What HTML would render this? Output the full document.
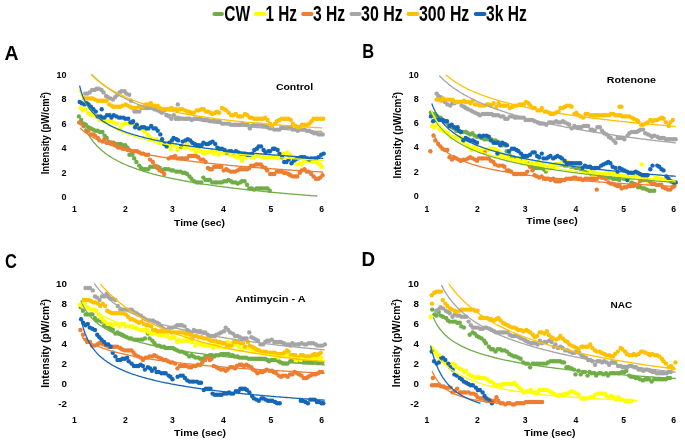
<!DOCTYPE html>
<html><head><meta charset="utf-8"><style>
html,body{margin:0;padding:0;background:#fff;}
svg{display:block;filter:blur(0.3px);}
text{font-family:"Liberation Sans", sans-serif;font-weight:bold;fill:#000;}
</style></head><body>
<svg width="685" height="442" viewBox="0 0 685 442">
<rect width="685" height="442" fill="#fff"/>
<line x1="214.5" y1="14" x2="221.9" y2="14" stroke="#70AD47" stroke-width="4" stroke-linecap="round"/>
<text x="224.3" y="21.1" font-size="22.8" text-anchor="start" textLength="25.8" lengthAdjust="spacingAndGlyphs">CW</text>
<line x1="255.7" y1="14" x2="264.4" y2="14" stroke="#FFFF00" stroke-width="4" stroke-linecap="round"/>
<text x="265.5" y="21.1" font-size="22.8" text-anchor="start" textLength="31.5" lengthAdjust="spacingAndGlyphs">1 Hz</text>
<line x1="303.2" y1="14" x2="311.4" y2="14" stroke="#ED7D31" stroke-width="4" stroke-linecap="round"/>
<text x="313" y="21.1" font-size="22.8" text-anchor="start" textLength="32.2" lengthAdjust="spacingAndGlyphs">3 Hz</text>
<line x1="351.5" y1="14" x2="359.5" y2="14" stroke="#A5A5A5" stroke-width="4" stroke-linecap="round"/>
<text x="361" y="21.1" font-size="22.8" text-anchor="start" textLength="41.7" lengthAdjust="spacingAndGlyphs">30 Hz</text>
<line x1="408.4" y1="14" x2="417.3" y2="14" stroke="#FFC000" stroke-width="4" stroke-linecap="round"/>
<text x="419" y="21.1" font-size="22.8" text-anchor="start" textLength="50.3" lengthAdjust="spacingAndGlyphs">300 Hz</text>
<line x1="475.8" y1="14" x2="484.5" y2="14" stroke="#1467B8" stroke-width="4" stroke-linecap="round"/>
<text x="486" y="21.1" font-size="22.8" text-anchor="start" textLength="40.7" lengthAdjust="spacingAndGlyphs">3k Hz</text>
<text x="4.6" y="59.6" font-size="20" text-anchor="start" textLength="14" lengthAdjust="spacingAndGlyphs">A</text>
<text x="362.3" y="57.6" font-size="20" text-anchor="start" textLength="11.9" lengthAdjust="spacingAndGlyphs">B</text>
<text x="4.9" y="267.6" font-size="20" text-anchor="start" textLength="11.9" lengthAdjust="spacingAndGlyphs">C</text>
<text x="361.4" y="265.6" font-size="20" text-anchor="start" textLength="13.6" lengthAdjust="spacingAndGlyphs">D</text>
<text x="66.5" y="77.7" font-size="9" text-anchor="end">10</text>
<text x="66.5" y="102.2" font-size="9" text-anchor="end">8</text>
<text x="66.5" y="126.7" font-size="9" text-anchor="end">6</text>
<text x="66.5" y="151.2" font-size="9" text-anchor="end">4</text>
<text x="66.5" y="175.7" font-size="9" text-anchor="end">2</text>
<text x="66.5" y="200.2" font-size="9" text-anchor="end">0</text>
<text x="74.3" y="211.6" font-size="9.2" text-anchor="middle" textLength="4.8" lengthAdjust="spacingAndGlyphs">1</text>
<text x="125.4" y="211.6" font-size="9.2" text-anchor="middle" textLength="4.8" lengthAdjust="spacingAndGlyphs">2</text>
<text x="172.4" y="211.6" font-size="9.2" text-anchor="middle" textLength="4.8" lengthAdjust="spacingAndGlyphs">3</text>
<text x="223.5" y="211.6" font-size="9.2" text-anchor="middle" textLength="4.8" lengthAdjust="spacingAndGlyphs">4</text>
<text x="271" y="211.6" font-size="9.2" text-anchor="middle" textLength="4.8" lengthAdjust="spacingAndGlyphs">5</text>
<text x="321.6" y="211.6" font-size="9.2" text-anchor="middle" textLength="4.8" lengthAdjust="spacingAndGlyphs">6</text>
<text x="174.1" y="226.4" font-size="9.6" text-anchor="start" textLength="50.9" lengthAdjust="spacingAndGlyphs">Time (sec)</text>
<text transform="translate(49 133.15) rotate(-90)" x="0" y="0" font-size="11" text-anchor="middle" textLength="82.3" lengthAdjust="spacingAndGlyphs">Intensity (pW/cm<tspan font-size="6.5" dy="-4">2</tspan><tspan dy="4">)</tspan></text>
<text x="275.9" y="90" font-size="8.8" text-anchor="start" textLength="37.3" lengthAdjust="spacingAndGlyphs">Control</text>
<g fill="#70AD47"><circle cx="78.9" cy="116.4" r="2.2"/><circle cx="81.2" cy="120.0" r="2.2"/><circle cx="83.6" cy="123.6" r="2.2"/><circle cx="85.9" cy="124.8" r="2.2"/><circle cx="88.4" cy="127.2" r="2.2"/><circle cx="91.0" cy="128.4" r="2.2"/><circle cx="93.1" cy="129.6" r="2.2"/><circle cx="95.4" cy="130.8" r="2.2"/><circle cx="97.7" cy="130.8" r="2.2"/><circle cx="99.9" cy="132.0" r="2.2"/><circle cx="102.4" cy="132.0" r="2.2"/><circle cx="104.6" cy="135.6" r="2.2"/><circle cx="106.7" cy="138.0" r="2.2"/><circle cx="108.7" cy="141.6" r="2.2"/><circle cx="111.3" cy="142.8" r="2.2"/><circle cx="113.4" cy="142.8" r="2.2"/><circle cx="115.6" cy="144.0" r="2.2"/><circle cx="118.2" cy="144.0" r="2.2"/><circle cx="120.7" cy="144.0" r="2.2"/><circle cx="122.6" cy="145.2" r="2.2"/><circle cx="125.3" cy="145.2" r="2.2"/><circle cx="127.4" cy="147.6" r="2.2"/><circle cx="129.4" cy="154.8" r="2.2"/><circle cx="132.4" cy="154.8" r="2.2"/><circle cx="134.2" cy="158.4" r="2.2"/><circle cx="136.4" cy="162.0" r="2.2"/><circle cx="139.2" cy="165.6" r="2.2"/><circle cx="140.9" cy="168.0" r="2.2"/><circle cx="143.7" cy="169.2" r="2.2"/><circle cx="145.6" cy="169.2" r="2.2"/><circle cx="148.0" cy="169.2" r="2.2"/><circle cx="150.2" cy="166.8" r="2.2"/><circle cx="153.0" cy="166.8" r="2.2"/><circle cx="154.9" cy="166.8" r="2.2"/><circle cx="157.7" cy="166.8" r="2.2"/><circle cx="159.7" cy="168.0" r="2.2"/><circle cx="162.1" cy="170.4" r="2.2"/><circle cx="164.2" cy="169.2" r="2.2"/><circle cx="166.3" cy="169.2" r="2.2"/><circle cx="168.7" cy="169.2" r="2.2"/><circle cx="171.5" cy="170.4" r="2.2"/><circle cx="173.2" cy="170.4" r="2.2"/><circle cx="176.1" cy="171.6" r="2.2"/><circle cx="178.2" cy="171.6" r="2.2"/><circle cx="180.2" cy="171.6" r="2.2"/><circle cx="182.7" cy="172.8" r="2.2"/><circle cx="184.8" cy="172.8" r="2.2"/><circle cx="187.1" cy="174.0" r="2.2"/><circle cx="189.5" cy="176.4" r="2.2"/><circle cx="191.4" cy="178.8" r="2.2"/><circle cx="194.1" cy="181.2" r="2.2"/><circle cx="196.8" cy="182.4" r="2.2"/><circle cx="198.5" cy="182.4" r="2.2"/><circle cx="201.2" cy="182.4" r="2.2"/><circle cx="203.3" cy="177.6" r="2.2"/><circle cx="205.4" cy="180.0" r="2.2"/><circle cx="208.2" cy="180.0" r="2.2"/><circle cx="209.8" cy="180.0" r="2.2"/><circle cx="212.3" cy="182.4" r="2.2"/><circle cx="215.2" cy="182.4" r="2.2"/><circle cx="216.9" cy="182.4" r="2.2"/><circle cx="219.7" cy="182.4" r="2.2"/><circle cx="221.8" cy="182.4" r="2.2"/><circle cx="224.2" cy="181.2" r="2.2"/><circle cx="226.4" cy="181.2" r="2.2"/><circle cx="228.5" cy="180.0" r="2.2"/><circle cx="231.1" cy="181.2" r="2.2"/><circle cx="232.8" cy="182.4" r="2.2"/><circle cx="235.5" cy="182.4" r="2.2"/><circle cx="237.7" cy="183.6" r="2.2"/><circle cx="240.1" cy="182.4" r="2.2"/><circle cx="242.1" cy="181.2" r="2.2"/><circle cx="244.5" cy="181.2" r="2.2"/><circle cx="247.0" cy="184.8" r="2.2"/><circle cx="249.2" cy="188.4" r="2.2"/><circle cx="251.8" cy="188.4" r="2.2"/><circle cx="254.0" cy="189.6" r="2.2"/><circle cx="256.5" cy="188.4" r="2.2"/><circle cx="258.7" cy="188.4" r="2.2"/><circle cx="260.9" cy="188.4" r="2.2"/><circle cx="262.9" cy="188.4" r="2.2"/><circle cx="265.6" cy="188.4" r="2.2"/><circle cx="267.5" cy="188.4" r="2.2"/><circle cx="269.7" cy="190.8" r="2.2"/></g>
<g fill="#FFFF00"><circle cx="80.6" cy="108.0" r="2.2"/><circle cx="82.8" cy="110.4" r="2.2"/><circle cx="85.4" cy="109.2" r="2.2"/><circle cx="88.0" cy="112.8" r="2.2"/><circle cx="89.6" cy="114.0" r="2.2"/><circle cx="92.2" cy="115.2" r="2.2"/><circle cx="94.6" cy="115.2" r="2.2"/><circle cx="96.8" cy="116.4" r="2.2"/><circle cx="99.4" cy="120.0" r="2.2"/><circle cx="101.6" cy="120.0" r="2.2"/><circle cx="104.0" cy="121.2" r="2.2"/><circle cx="105.7" cy="121.2" r="2.2"/><circle cx="108.1" cy="121.2" r="2.2"/><circle cx="110.3" cy="121.2" r="2.2"/><circle cx="113.2" cy="122.4" r="2.2"/><circle cx="115.6" cy="123.6" r="2.2"/><circle cx="117.1" cy="123.6" r="2.2"/><circle cx="120.0" cy="128.4" r="2.2"/><circle cx="122.3" cy="124.8" r="2.2"/><circle cx="124.7" cy="123.6" r="2.2"/><circle cx="126.5" cy="123.6" r="2.2"/><circle cx="129.2" cy="123.6" r="2.2"/><circle cx="131.1" cy="122.4" r="2.2"/><circle cx="133.3" cy="123.6" r="2.2"/><circle cx="136.1" cy="126.0" r="2.2"/><circle cx="137.8" cy="127.2" r="2.2"/><circle cx="140.7" cy="128.4" r="2.2"/><circle cx="142.6" cy="129.6" r="2.2"/><circle cx="145.1" cy="132.0" r="2.2"/><circle cx="147.7" cy="134.4" r="2.2"/><circle cx="149.5" cy="136.8" r="2.2"/><circle cx="152.0" cy="139.2" r="2.2"/><circle cx="154.2" cy="140.4" r="2.2"/><circle cx="156.4" cy="139.2" r="2.2"/><circle cx="158.9" cy="142.8" r="2.2"/><circle cx="160.9" cy="142.8" r="2.2"/><circle cx="163.7" cy="144.0" r="2.2"/><circle cx="165.9" cy="142.8" r="2.2"/><circle cx="167.9" cy="146.4" r="2.2"/><circle cx="170.8" cy="148.8" r="2.2"/><circle cx="172.6" cy="145.2" r="2.2"/><circle cx="175.1" cy="145.2" r="2.2"/><circle cx="177.5" cy="150.0" r="2.2"/><circle cx="179.4" cy="147.6" r="2.2"/><circle cx="181.5" cy="147.6" r="2.2"/><circle cx="184.5" cy="147.6" r="2.2"/><circle cx="186.9" cy="144.0" r="2.2"/><circle cx="188.5" cy="147.6" r="2.2"/><circle cx="190.8" cy="148.8" r="2.2"/><circle cx="193.3" cy="148.8" r="2.2"/><circle cx="195.8" cy="152.4" r="2.2"/><circle cx="198.4" cy="150.0" r="2.2"/><circle cx="200.7" cy="151.2" r="2.2"/><circle cx="203.0" cy="152.4" r="2.2"/><circle cx="204.7" cy="153.6" r="2.2"/><circle cx="207.3" cy="152.4" r="2.2"/><circle cx="209.4" cy="152.4" r="2.2"/><circle cx="211.6" cy="151.2" r="2.2"/><circle cx="213.8" cy="153.6" r="2.2"/><circle cx="216.1" cy="151.2" r="2.2"/><circle cx="218.6" cy="154.8" r="2.2"/><circle cx="220.7" cy="152.4" r="2.2"/><circle cx="223.0" cy="152.4" r="2.2"/><circle cx="225.2" cy="153.6" r="2.2"/><circle cx="228.0" cy="153.6" r="2.2"/><circle cx="230.2" cy="154.8" r="2.2"/><circle cx="232.3" cy="154.8" r="2.2"/><circle cx="234.8" cy="156.0" r="2.2"/><circle cx="237.0" cy="157.2" r="2.2"/><circle cx="239.5" cy="157.2" r="2.2"/><circle cx="242.0" cy="160.8" r="2.2"/><circle cx="243.9" cy="157.2" r="2.2"/><circle cx="246.4" cy="157.2" r="2.2"/><circle cx="248.4" cy="156.0" r="2.2"/><circle cx="251.3" cy="157.2" r="2.2"/><circle cx="253.3" cy="157.2" r="2.2"/><circle cx="255.2" cy="156.0" r="2.2"/><circle cx="257.6" cy="156.0" r="2.2"/><circle cx="259.8" cy="156.0" r="2.2"/><circle cx="262.1" cy="157.2" r="2.2"/><circle cx="264.5" cy="157.2" r="2.2"/><circle cx="267.3" cy="157.2" r="2.2"/><circle cx="269.3" cy="157.2" r="2.2"/><circle cx="271.4" cy="157.2" r="2.2"/><circle cx="273.8" cy="157.2" r="2.2"/><circle cx="276.0" cy="157.2" r="2.2"/><circle cx="278.7" cy="158.4" r="2.2"/><circle cx="280.4" cy="156.0" r="2.2"/><circle cx="282.9" cy="153.6" r="2.2"/><circle cx="285.3" cy="153.6" r="2.2"/><circle cx="287.4" cy="152.4" r="2.2"/><circle cx="290.2" cy="154.8" r="2.2"/><circle cx="292.0" cy="157.2" r="2.2"/><circle cx="294.4" cy="158.4" r="2.2"/><circle cx="296.5" cy="164.4" r="2.2"/><circle cx="299.4" cy="163.2" r="2.2"/><circle cx="301.4" cy="164.4" r="2.2"/><circle cx="303.9" cy="160.8" r="2.2"/><circle cx="305.9" cy="160.8" r="2.2"/><circle cx="308.0" cy="160.8" r="2.2"/><circle cx="310.6" cy="160.8" r="2.2"/><circle cx="313.2" cy="162.0" r="2.2"/><circle cx="315.6" cy="162.0" r="2.2"/><circle cx="317.5" cy="163.2" r="2.2"/><circle cx="320.2" cy="164.4" r="2.2"/><circle cx="321.8" cy="166.8" r="2.2"/></g>
<g fill="#ED7D31"><circle cx="79.2" cy="122.4" r="2.2"/><circle cx="81.2" cy="123.6" r="2.2"/><circle cx="83.4" cy="126.0" r="2.2"/><circle cx="86.2" cy="130.8" r="2.2"/><circle cx="88.5" cy="130.8" r="2.2"/><circle cx="90.7" cy="134.4" r="2.2"/><circle cx="93.2" cy="134.4" r="2.2"/><circle cx="95.0" cy="135.6" r="2.2"/><circle cx="97.8" cy="138.0" r="2.2"/><circle cx="99.5" cy="140.4" r="2.2"/><circle cx="102.5" cy="141.6" r="2.2"/><circle cx="104.5" cy="139.2" r="2.2"/><circle cx="106.8" cy="142.8" r="2.2"/><circle cx="109.4" cy="142.8" r="2.2"/><circle cx="111.5" cy="142.8" r="2.2"/><circle cx="113.8" cy="144.0" r="2.2"/><circle cx="115.5" cy="145.2" r="2.2"/><circle cx="118.1" cy="147.6" r="2.2"/><circle cx="120.2" cy="147.6" r="2.2"/><circle cx="122.6" cy="148.8" r="2.2"/><circle cx="124.9" cy="148.8" r="2.2"/><circle cx="127.7" cy="150.0" r="2.2"/><circle cx="129.4" cy="150.0" r="2.2"/><circle cx="131.8" cy="151.2" r="2.2"/><circle cx="134.3" cy="151.2" r="2.2"/><circle cx="136.9" cy="151.2" r="2.2"/><circle cx="139.3" cy="152.4" r="2.2"/><circle cx="141.4" cy="153.6" r="2.2"/><circle cx="143.3" cy="153.6" r="2.2"/><circle cx="145.8" cy="154.8" r="2.2"/><circle cx="148.3" cy="154.8" r="2.2"/><circle cx="150.0" cy="159.6" r="2.2"/><circle cx="152.8" cy="162.0" r="2.2"/><circle cx="154.9" cy="165.6" r="2.2"/><circle cx="157.4" cy="168.0" r="2.2"/><circle cx="159.7" cy="170.4" r="2.2"/><circle cx="162.0" cy="171.6" r="2.2"/><circle cx="164.2" cy="174.0" r="2.2"/></g>
<g fill="#ED7D31"><circle cx="168.6" cy="158.4" r="2.2"/><circle cx="171.1" cy="157.2" r="2.2"/><circle cx="173.2" cy="157.2" r="2.2"/><circle cx="175.1" cy="156.0" r="2.2"/><circle cx="177.4" cy="158.4" r="2.2"/><circle cx="180.2" cy="158.4" r="2.2"/><circle cx="182.2" cy="158.4" r="2.2"/><circle cx="184.8" cy="158.4" r="2.2"/><circle cx="186.9" cy="158.4" r="2.2"/><circle cx="189.1" cy="156.0" r="2.2"/><circle cx="191.7" cy="156.0" r="2.2"/><circle cx="193.5" cy="156.0" r="2.2"/><circle cx="195.9" cy="156.0" r="2.2"/><circle cx="198.2" cy="157.2" r="2.2"/><circle cx="200.6" cy="159.6" r="2.2"/><circle cx="203.3" cy="159.6" r="2.2"/><circle cx="205.6" cy="162.0" r="2.2"/><circle cx="207.9" cy="168.0" r="2.2"/><circle cx="210.0" cy="169.2" r="2.2"/><circle cx="211.8" cy="169.2" r="2.2"/><circle cx="214.3" cy="166.8" r="2.2"/><circle cx="216.8" cy="166.8" r="2.2"/><circle cx="219.4" cy="166.8" r="2.2"/><circle cx="221.3" cy="166.8" r="2.2"/><circle cx="223.7" cy="170.4" r="2.2"/><circle cx="226.3" cy="169.2" r="2.2"/><circle cx="228.2" cy="170.4" r="2.2"/><circle cx="230.8" cy="171.6" r="2.2"/><circle cx="233.0" cy="171.6" r="2.2"/><circle cx="235.2" cy="171.6" r="2.2"/><circle cx="237.6" cy="170.4" r="2.2"/><circle cx="239.8" cy="169.2" r="2.2"/><circle cx="241.8" cy="169.2" r="2.2"/><circle cx="244.7" cy="169.2" r="2.2"/><circle cx="247.1" cy="169.2" r="2.2"/><circle cx="249.3" cy="168.0" r="2.2"/><circle cx="251.2" cy="165.6" r="2.2"/><circle cx="253.7" cy="165.6" r="2.2"/><circle cx="256.1" cy="164.4" r="2.2"/><circle cx="257.8" cy="164.4" r="2.2"/><circle cx="260.7" cy="164.4" r="2.2"/><circle cx="262.5" cy="166.8" r="2.2"/><circle cx="265.5" cy="168.0" r="2.2"/><circle cx="267.2" cy="170.4" r="2.2"/><circle cx="270.1" cy="174.0" r="2.2"/><circle cx="271.8" cy="174.0" r="2.2"/><circle cx="274.3" cy="174.0" r="2.2"/><circle cx="276.9" cy="171.6" r="2.2"/><circle cx="279.3" cy="171.6" r="2.2"/><circle cx="281.4" cy="171.6" r="2.2"/><circle cx="283.8" cy="172.8" r="2.2"/><circle cx="285.7" cy="172.8" r="2.2"/><circle cx="288.3" cy="174.0" r="2.2"/><circle cx="290.3" cy="175.2" r="2.2"/><circle cx="293.0" cy="176.4" r="2.2"/><circle cx="295.2" cy="176.4" r="2.2"/><circle cx="297.2" cy="176.4" r="2.2"/><circle cx="299.8" cy="172.8" r="2.2"/><circle cx="301.6" cy="170.4" r="2.2"/><circle cx="304.5" cy="169.2" r="2.2"/><circle cx="306.7" cy="171.6" r="2.2"/><circle cx="308.7" cy="171.6" r="2.2"/><circle cx="311.2" cy="174.0" r="2.2"/><circle cx="313.6" cy="176.4" r="2.2"/><circle cx="315.8" cy="178.8" r="2.2"/><circle cx="318.3" cy="178.8" r="2.2"/><circle cx="320.2" cy="177.6" r="2.2"/><circle cx="322.5" cy="175.2" r="2.2"/></g>
<g fill="#A5A5A5"><circle cx="85.2" cy="93.6" r="2.2"/><circle cx="87.4" cy="93.6" r="2.2"/><circle cx="89.6" cy="92.4" r="2.2"/><circle cx="92.0" cy="90.0" r="2.2"/><circle cx="94.6" cy="90.0" r="2.2"/><circle cx="96.6" cy="88.8" r="2.2"/><circle cx="98.7" cy="88.8" r="2.2"/><circle cx="101.5" cy="90.0" r="2.2"/><circle cx="103.6" cy="92.4" r="2.2"/><circle cx="106.1" cy="96.0" r="2.2"/><circle cx="108.0" cy="97.2" r="2.2"/><circle cx="110.4" cy="98.4" r="2.2"/><circle cx="113.0" cy="99.6" r="2.2"/><circle cx="115.1" cy="97.2" r="2.2"/><circle cx="117.4" cy="94.8" r="2.2"/><circle cx="119.5" cy="92.4" r="2.2"/><circle cx="121.6" cy="91.2" r="2.2"/><circle cx="124.6" cy="91.2" r="2.2"/><circle cx="126.3" cy="93.6" r="2.2"/><circle cx="129.2" cy="94.8" r="2.2"/><circle cx="131.1" cy="100.8" r="2.2"/></g>
<g fill="#A5A5A5"><circle cx="134.4" cy="111.6" r="2.2"/><circle cx="136.5" cy="111.6" r="2.2"/><circle cx="139.3" cy="111.6" r="2.2"/><circle cx="141.6" cy="108.0" r="2.2"/><circle cx="143.8" cy="108.0" r="2.2"/><circle cx="146.1" cy="108.0" r="2.2"/><circle cx="147.8" cy="108.0" r="2.2"/><circle cx="150.3" cy="108.0" r="2.2"/><circle cx="152.8" cy="108.0" r="2.2"/><circle cx="154.8" cy="109.2" r="2.2"/><circle cx="157.5" cy="110.4" r="2.2"/><circle cx="160.1" cy="111.6" r="2.2"/><circle cx="161.9" cy="112.8" r="2.2"/><circle cx="164.5" cy="110.4" r="2.2"/><circle cx="166.4" cy="115.2" r="2.2"/><circle cx="169.1" cy="116.4" r="2.2"/><circle cx="171.5" cy="118.8" r="2.2"/><circle cx="173.8" cy="115.2" r="2.2"/><circle cx="175.8" cy="118.8" r="2.2"/><circle cx="178.0" cy="118.8" r="2.2"/><circle cx="180.1" cy="118.8" r="2.2"/><circle cx="183.0" cy="118.8" r="2.2"/><circle cx="185.3" cy="118.8" r="2.2"/><circle cx="187.3" cy="118.8" r="2.2"/><circle cx="189.8" cy="118.8" r="2.2"/><circle cx="191.7" cy="120.0" r="2.2"/><circle cx="194.4" cy="118.8" r="2.2"/><circle cx="196.3" cy="118.8" r="2.2"/><circle cx="199.0" cy="118.8" r="2.2"/><circle cx="200.7" cy="118.8" r="2.2"/><circle cx="203.3" cy="120.0" r="2.2"/><circle cx="205.5" cy="120.0" r="2.2"/><circle cx="207.6" cy="120.0" r="2.2"/><circle cx="210.1" cy="121.2" r="2.2"/><circle cx="212.9" cy="121.2" r="2.2"/><circle cx="214.7" cy="121.2" r="2.2"/><circle cx="216.9" cy="121.2" r="2.2"/><circle cx="219.6" cy="121.2" r="2.2"/><circle cx="222.0" cy="123.6" r="2.2"/><circle cx="224.0" cy="123.6" r="2.2"/><circle cx="226.7" cy="123.6" r="2.2"/><circle cx="228.9" cy="123.6" r="2.2"/><circle cx="231.0" cy="124.8" r="2.2"/><circle cx="233.6" cy="124.8" r="2.2"/><circle cx="235.8" cy="124.8" r="2.2"/><circle cx="238.0" cy="124.8" r="2.2"/><circle cx="240.0" cy="124.8" r="2.2"/><circle cx="242.5" cy="123.6" r="2.2"/><circle cx="244.9" cy="124.8" r="2.2"/><circle cx="247.4" cy="124.8" r="2.2"/><circle cx="249.8" cy="128.4" r="2.2"/><circle cx="251.3" cy="126.0" r="2.2"/><circle cx="254.0" cy="124.8" r="2.2"/><circle cx="256.6" cy="124.8" r="2.2"/><circle cx="258.5" cy="124.8" r="2.2"/><circle cx="261.1" cy="124.8" r="2.2"/><circle cx="263.0" cy="126.0" r="2.2"/><circle cx="265.8" cy="126.0" r="2.2"/><circle cx="267.5" cy="127.2" r="2.2"/><circle cx="269.9" cy="128.4" r="2.2"/><circle cx="272.2" cy="128.4" r="2.2"/><circle cx="274.4" cy="129.6" r="2.2"/><circle cx="277.1" cy="129.6" r="2.2"/><circle cx="279.6" cy="129.6" r="2.2"/><circle cx="281.3" cy="127.2" r="2.2"/><circle cx="283.7" cy="127.2" r="2.2"/><circle cx="286.1" cy="127.2" r="2.2"/><circle cx="288.3" cy="127.2" r="2.2"/><circle cx="290.9" cy="127.2" r="2.2"/><circle cx="292.8" cy="129.6" r="2.2"/><circle cx="295.5" cy="129.6" r="2.2"/><circle cx="297.7" cy="130.8" r="2.2"/><circle cx="299.7" cy="129.6" r="2.2"/><circle cx="302.3" cy="129.6" r="2.2"/><circle cx="304.5" cy="129.6" r="2.2"/><circle cx="306.6" cy="130.8" r="2.2"/><circle cx="309.1" cy="130.8" r="2.2"/><circle cx="311.6" cy="132.0" r="2.2"/><circle cx="314.1" cy="133.2" r="2.2"/><circle cx="316.5" cy="133.2" r="2.2"/><circle cx="318.6" cy="134.4" r="2.2"/><circle cx="320.6" cy="134.4" r="2.2"/><circle cx="322.7" cy="134.4" r="2.2"/></g>
<g fill="#A5A5A5"><circle cx="177.8" cy="104.4" r="2.2"/></g>
<g fill="#FFC000"><circle cx="84.2" cy="98.4" r="2.2"/><circle cx="85.9" cy="98.4" r="2.2"/><circle cx="88.3" cy="98.4" r="2.2"/><circle cx="90.7" cy="98.4" r="2.2"/><circle cx="92.7" cy="98.4" r="2.2"/><circle cx="95.0" cy="99.6" r="2.2"/><circle cx="97.8" cy="100.8" r="2.2"/><circle cx="99.9" cy="100.8" r="2.2"/><circle cx="102.0" cy="100.8" r="2.2"/><circle cx="104.8" cy="100.8" r="2.2"/><circle cx="106.6" cy="100.8" r="2.2"/><circle cx="109.2" cy="104.4" r="2.2"/><circle cx="111.6" cy="105.6" r="2.2"/><circle cx="113.4" cy="106.8" r="2.2"/><circle cx="115.7" cy="106.8" r="2.2"/><circle cx="118.5" cy="106.8" r="2.2"/><circle cx="120.3" cy="106.8" r="2.2"/><circle cx="122.7" cy="105.6" r="2.2"/><circle cx="125.5" cy="104.4" r="2.2"/><circle cx="127.5" cy="105.6" r="2.2"/><circle cx="130.1" cy="106.8" r="2.2"/><circle cx="132.4" cy="108.0" r="2.2"/><circle cx="134.6" cy="108.0" r="2.2"/><circle cx="136.4" cy="108.0" r="2.2"/><circle cx="139.0" cy="106.8" r="2.2"/><circle cx="141.1" cy="106.8" r="2.2"/><circle cx="143.3" cy="106.8" r="2.2"/><circle cx="145.8" cy="104.4" r="2.2"/><circle cx="148.4" cy="104.4" r="2.2"/><circle cx="150.9" cy="103.2" r="2.2"/><circle cx="152.8" cy="105.6" r="2.2"/><circle cx="155.1" cy="105.6" r="2.2"/><circle cx="157.7" cy="105.6" r="2.2"/><circle cx="159.8" cy="108.0" r="2.2"/><circle cx="162.3" cy="109.2" r="2.2"/><circle cx="164.3" cy="109.2" r="2.2"/><circle cx="167.0" cy="109.2" r="2.2"/><circle cx="169.1" cy="109.2" r="2.2"/><circle cx="171.2" cy="108.0" r="2.2"/><circle cx="173.2" cy="109.2" r="2.2"/><circle cx="176.1" cy="109.2" r="2.2"/><circle cx="177.7" cy="110.4" r="2.2"/><circle cx="180.0" cy="109.2" r="2.2"/><circle cx="182.3" cy="109.2" r="2.2"/><circle cx="185.3" cy="110.4" r="2.2"/><circle cx="187.5" cy="111.6" r="2.2"/><circle cx="189.2" cy="111.6" r="2.2"/><circle cx="191.5" cy="112.8" r="2.2"/><circle cx="193.9" cy="112.8" r="2.2"/><circle cx="196.7" cy="110.4" r="2.2"/><circle cx="198.7" cy="110.4" r="2.2"/><circle cx="201.3" cy="109.2" r="2.2"/><circle cx="203.8" cy="109.2" r="2.2"/><circle cx="205.8" cy="111.6" r="2.2"/><circle cx="208.0" cy="111.6" r="2.2"/><circle cx="210.6" cy="112.8" r="2.2"/><circle cx="212.4" cy="114.0" r="2.2"/><circle cx="215.1" cy="112.8" r="2.2"/><circle cx="216.8" cy="111.6" r="2.2"/><circle cx="219.3" cy="112.8" r="2.2"/><circle cx="221.9" cy="108.0" r="2.2"/><circle cx="224.3" cy="109.2" r="2.2"/><circle cx="226.3" cy="110.4" r="2.2"/><circle cx="228.7" cy="112.8" r="2.2"/><circle cx="231.2" cy="115.2" r="2.2"/><circle cx="233.5" cy="115.2" r="2.2"/><circle cx="235.8" cy="114.0" r="2.2"/><circle cx="238.2" cy="116.4" r="2.2"/><circle cx="239.9" cy="116.4" r="2.2"/><circle cx="242.3" cy="116.4" r="2.2"/><circle cx="245.0" cy="114.0" r="2.2"/><circle cx="247.4" cy="115.2" r="2.2"/><circle cx="249.7" cy="117.6" r="2.2"/><circle cx="251.7" cy="117.6" r="2.2"/><circle cx="254.2" cy="118.8" r="2.2"/><circle cx="256.4" cy="118.8" r="2.2"/><circle cx="258.3" cy="118.8" r="2.2"/><circle cx="261.2" cy="118.8" r="2.2"/><circle cx="263.1" cy="118.8" r="2.2"/><circle cx="265.1" cy="117.6" r="2.2"/><circle cx="267.6" cy="120.0" r="2.2"/><circle cx="269.9" cy="123.6" r="2.2"/><circle cx="272.0" cy="126.0" r="2.2"/><circle cx="275.1" cy="123.6" r="2.2"/><circle cx="276.9" cy="121.2" r="2.2"/><circle cx="279.3" cy="120.0" r="2.2"/><circle cx="281.7" cy="118.8" r="2.2"/><circle cx="284.3" cy="118.8" r="2.2"/><circle cx="286.2" cy="118.8" r="2.2"/><circle cx="288.4" cy="118.8" r="2.2"/><circle cx="290.7" cy="120.0" r="2.2"/><circle cx="292.9" cy="123.6" r="2.2"/><circle cx="295.6" cy="126.0" r="2.2"/><circle cx="298.0" cy="127.2" r="2.2"/><circle cx="299.7" cy="127.2" r="2.2"/><circle cx="301.9" cy="124.8" r="2.2"/><circle cx="304.9" cy="124.8" r="2.2"/><circle cx="307.0" cy="124.8" r="2.2"/><circle cx="309.5" cy="123.6" r="2.2"/><circle cx="311.4" cy="121.2" r="2.2"/><circle cx="313.6" cy="118.8" r="2.2"/><circle cx="316.4" cy="118.8" r="2.2"/><circle cx="318.0" cy="118.8" r="2.2"/><circle cx="320.9" cy="118.8" r="2.2"/><circle cx="323.2" cy="118.8" r="2.2"/></g>
<g fill="#1467B8"><circle cx="79.7" cy="102.0" r="2.2"/><circle cx="81.8" cy="103.2" r="2.2"/><circle cx="84.4" cy="104.4" r="2.2"/><circle cx="86.7" cy="103.2" r="2.2"/><circle cx="88.5" cy="104.4" r="2.2"/><circle cx="90.9" cy="106.8" r="2.2"/><circle cx="93.4" cy="109.2" r="2.2"/><circle cx="95.8" cy="111.6" r="2.2"/><circle cx="97.6" cy="116.4" r="2.2"/><circle cx="100.5" cy="116.4" r="2.2"/><circle cx="102.4" cy="117.6" r="2.2"/><circle cx="104.5" cy="117.6" r="2.2"/><circle cx="106.9" cy="115.2" r="2.2"/><circle cx="109.6" cy="115.2" r="2.2"/><circle cx="111.5" cy="117.6" r="2.2"/><circle cx="113.7" cy="115.2" r="2.2"/><circle cx="116.4" cy="116.4" r="2.2"/><circle cx="118.9" cy="117.6" r="2.2"/><circle cx="120.8" cy="117.6" r="2.2"/><circle cx="123.2" cy="117.6" r="2.2"/><circle cx="125.4" cy="118.8" r="2.2"/><circle cx="128.2" cy="118.8" r="2.2"/><circle cx="130.4" cy="122.4" r="2.2"/><circle cx="132.4" cy="122.4" r="2.2"/><circle cx="135.1" cy="127.2" r="2.2"/><circle cx="136.8" cy="124.8" r="2.2"/><circle cx="139.2" cy="128.4" r="2.2"/><circle cx="141.7" cy="127.2" r="2.2"/><circle cx="144.1" cy="127.2" r="2.2"/><circle cx="146.4" cy="128.4" r="2.2"/><circle cx="148.4" cy="128.4" r="2.2"/><circle cx="151.2" cy="126.0" r="2.2"/><circle cx="153.5" cy="128.4" r="2.2"/><circle cx="155.7" cy="128.4" r="2.2"/><circle cx="157.7" cy="130.8" r="2.2"/><circle cx="160.3" cy="134.4" r="2.2"/><circle cx="162.1" cy="139.2" r="2.2"/><circle cx="164.3" cy="144.0" r="2.2"/><circle cx="166.6" cy="146.4" r="2.2"/><circle cx="169.4" cy="142.8" r="2.2"/><circle cx="171.9" cy="140.4" r="2.2"/><circle cx="173.6" cy="138.0" r="2.2"/><circle cx="176.3" cy="139.2" r="2.2"/><circle cx="178.2" cy="140.4" r="2.2"/><circle cx="180.9" cy="146.4" r="2.2"/><circle cx="182.7" cy="141.6" r="2.2"/><circle cx="185.3" cy="140.4" r="2.2"/><circle cx="187.8" cy="139.2" r="2.2"/><circle cx="190.3" cy="140.4" r="2.2"/><circle cx="192.3" cy="142.8" r="2.2"/><circle cx="194.7" cy="144.0" r="2.2"/><circle cx="196.7" cy="145.2" r="2.2"/><circle cx="198.8" cy="145.2" r="2.2"/><circle cx="201.6" cy="145.2" r="2.2"/><circle cx="203.4" cy="142.8" r="2.2"/><circle cx="206.2" cy="144.0" r="2.2"/><circle cx="208.1" cy="144.0" r="2.2"/><circle cx="210.2" cy="142.8" r="2.2"/><circle cx="212.6" cy="141.6" r="2.2"/><circle cx="215.2" cy="144.0" r="2.2"/><circle cx="217.4" cy="147.6" r="2.2"/><circle cx="219.5" cy="148.8" r="2.2"/><circle cx="222.0" cy="148.8" r="2.2"/><circle cx="224.6" cy="150.0" r="2.2"/><circle cx="226.9" cy="152.4" r="2.2"/><circle cx="229.0" cy="151.2" r="2.2"/><circle cx="231.2" cy="151.2" r="2.2"/><circle cx="234.0" cy="152.4" r="2.2"/><circle cx="235.9" cy="151.2" r="2.2"/><circle cx="238.3" cy="152.4" r="2.2"/><circle cx="240.8" cy="153.6" r="2.2"/><circle cx="242.8" cy="153.6" r="2.2"/><circle cx="245.2" cy="153.6" r="2.2"/><circle cx="247.4" cy="154.8" r="2.2"/><circle cx="250.0" cy="154.8" r="2.2"/><circle cx="252.2" cy="153.6" r="2.2"/><circle cx="254.3" cy="150.0" r="2.2"/><circle cx="256.9" cy="148.8" r="2.2"/><circle cx="258.7" cy="146.4" r="2.2"/><circle cx="261.1" cy="146.4" r="2.2"/><circle cx="263.6" cy="150.0" r="2.2"/><circle cx="265.5" cy="152.4" r="2.2"/><circle cx="268.4" cy="151.2" r="2.2"/><circle cx="270.0" cy="151.2" r="2.2"/><circle cx="273.0" cy="148.8" r="2.2"/><circle cx="274.8" cy="148.8" r="2.2"/><circle cx="277.6" cy="150.0" r="2.2"/><circle cx="279.4" cy="153.6" r="2.2"/><circle cx="282.1" cy="157.2" r="2.2"/><circle cx="284.2" cy="162.0" r="2.2"/><circle cx="286.4" cy="162.0" r="2.2"/><circle cx="288.8" cy="159.6" r="2.2"/><circle cx="291.5" cy="163.2" r="2.2"/><circle cx="293.7" cy="160.8" r="2.2"/><circle cx="295.5" cy="159.6" r="2.2"/><circle cx="297.8" cy="158.4" r="2.2"/><circle cx="300.6" cy="157.2" r="2.2"/><circle cx="302.3" cy="157.2" r="2.2"/><circle cx="304.6" cy="157.2" r="2.2"/><circle cx="307.3" cy="158.4" r="2.2"/><circle cx="309.3" cy="159.6" r="2.2"/><circle cx="311.4" cy="158.4" r="2.2"/><circle cx="314.2" cy="158.4" r="2.2"/><circle cx="316.1" cy="158.4" r="2.2"/><circle cx="318.5" cy="157.2" r="2.2"/><circle cx="321.2" cy="154.8" r="2.2"/><circle cx="323.7" cy="153.6" r="2.2"/></g>
<g fill="#1467B8"><circle cx="101.7" cy="109.2" r="2.2"/></g>
<g fill="#1467B8"><circle cx="133.1" cy="121.2" r="2.2"/></g>
<path d="M82.3,121.0 L83.4,124.0 L84.4,126.6 L85.5,129.0 L86.6,131.2 L87.7,133.3 L88.7,135.1 L89.8,136.8 L90.9,138.4 L92.0,139.9 L93.0,141.4 L94.1,142.7 L95.2,143.9 L96.3,145.1 L97.3,146.3 L98.4,147.3 L99.5,148.4 L100.5,149.4 L101.6,150.3 L102.7,151.2 L103.8,152.1 L104.8,152.9 L105.9,153.7 L107.0,154.5 L108.1,155.2 L109.1,155.9 L110.2,156.6 L111.3,157.3 L112.4,158.0 L113.4,158.6 L114.5,159.2 L115.6,159.8 L116.7,160.4 L117.7,161.0 L118.8,161.5 L119.9,162.0 L120.9,162.6 L122.0,163.1 L123.1,163.6 L124.2,164.0 L125.2,164.5 L126.3,165.0 L127.4,165.4 L128.5,165.9 L129.5,166.3 L130.6,166.7 L131.7,167.1 L132.8,167.5 L133.8,167.9 L134.9,168.3 L136.0,168.7 L137.0,169.1 L138.1,169.5 L139.2,169.8 L140.3,170.2 L141.3,170.5 L142.4,170.9 L143.5,171.2 L144.6,171.5 L145.6,171.8 L146.7,172.2 L147.8,172.5 L148.9,172.8 L149.9,173.1 L151.0,173.4 L152.1,173.7 L153.2,174.0 L154.2,174.3 L155.3,174.5 L156.4,174.8 L157.4,175.1 L158.5,175.4 L159.6,175.6 L160.7,175.9 L161.7,176.1 L162.8,176.4 L163.9,176.6 L165.0,176.9 L166.0,177.1 L167.1,177.4 L168.2,177.6 L169.3,177.8 L170.3,178.1 L171.4,178.3 L172.5,178.5 L173.5,178.8 L174.6,179.0 L175.7,179.2 L176.8,179.4 L177.8,179.6 L178.9,179.8 L180.0,180.0 L181.1,180.2 L182.1,180.5 L183.2,180.7 L184.3,180.8 L185.4,181.0 L186.4,181.2 L187.5,181.4 L188.6,181.6 L189.7,181.8 L190.7,182.0 L191.8,182.2 L192.9,182.4 L193.9,182.5 L195.0,182.7 L196.1,182.9 L197.2,183.1 L198.2,183.2 L199.3,183.4 L200.4,183.6 L201.5,183.8 L202.5,183.9 L203.6,184.1 L204.7,184.3 L205.8,184.4 L206.8,184.6 L207.9,184.7 L209.0,184.9 L210.0,185.1 L211.1,185.2 L212.2,185.4 L213.3,185.5 L214.3,185.7 L215.4,185.8 L216.5,186.0 L217.6,186.1 L218.6,186.3 L219.7,186.4 L220.8,186.5 L221.9,186.7 L222.9,186.8 L224.0,187.0 L225.1,187.1 L226.2,187.2 L227.2,187.4 L228.3,187.5 L229.4,187.6 L230.4,187.8 L231.5,187.9 L232.6,188.0 L233.7,188.2 L234.7,188.3 L235.8,188.4 L236.9,188.6 L238.0,188.7 L239.0,188.8 L240.1,188.9 L241.2,189.1 L242.3,189.2 L243.3,189.3 L244.4,189.4 L245.5,189.5 L246.5,189.7 L247.6,189.8 L248.7,189.9 L249.8,190.0 L250.8,190.1 L251.9,190.2 L253.0,190.4 L254.1,190.5 L255.1,190.6 L256.2,190.7 L257.3,190.8 L258.4,190.9 L259.4,191.0 L260.5,191.1 L261.6,191.2 L262.7,191.4 L263.7,191.5 L264.8,191.6 L265.9,191.7 L266.9,191.8 L268.0,191.9 L269.1,192.0 L270.2,192.1 L271.2,192.2 L272.3,192.3 L273.4,192.4 L274.5,192.5 L275.5,192.6 L276.6,192.7 L277.7,192.8 L278.8,192.9 L279.8,193.0 L280.9,193.1 L282.0,193.2 L283.0,193.3 L284.1,193.4 L285.2,193.5 L286.3,193.6 L287.3,193.7 L288.4,193.8 L289.5,193.8 L290.6,193.9 L291.6,194.0 L292.7,194.1 L293.8,194.2 L294.9,194.3 L295.9,194.4 L297.0,194.5 L298.1,194.6 L299.2,194.7 L300.2,194.7 L301.3,194.8 L302.4,194.9 L303.4,195.0 L304.5,195.1 L305.6,195.2 L306.7,195.3 L307.7,195.3 L308.8,195.4 L309.9,195.5 L311.0,195.6 L312.0,195.7 L313.1,195.8 L314.2,195.8 L315.3,195.9 L316.3,196.0 L317.4,196.1" fill="none" stroke="#70AD47" stroke-width="1.3"/>
<path d="M79.1,89.8 L80.2,92.6 L81.3,95.2 L82.4,97.5 L83.6,99.7 L84.7,101.6 L85.8,103.5 L86.9,105.2 L88.0,106.8 L89.1,108.2 L90.3,109.7 L91.4,111.0 L92.5,112.2 L93.6,113.4 L94.7,114.5 L95.8,115.6 L96.9,116.6 L98.1,117.6 L99.2,118.5 L100.3,119.4 L101.4,120.3 L102.5,121.1 L103.6,121.9 L104.7,122.7 L105.9,123.4 L107.0,124.1 L108.1,124.8 L109.2,125.5 L110.3,126.1 L111.4,126.7 L112.6,127.3 L113.7,127.9 L114.8,128.5 L115.9,129.0 L117.0,129.6 L118.1,130.1 L119.2,130.6 L120.4,131.1 L121.5,131.6 L122.6,132.0 L123.7,132.5 L124.8,132.9 L125.9,133.4 L127.0,133.8 L128.2,134.2 L129.3,134.6 L130.4,135.0 L131.5,135.4 L132.6,135.7 L133.7,136.1 L134.9,136.5 L136.0,136.8 L137.1,137.2 L138.2,137.5 L139.3,137.9 L140.4,138.2 L141.5,138.5 L142.7,138.8 L143.8,139.1 L144.9,139.4 L146.0,139.7 L147.1,140.0 L148.2,140.3 L149.3,140.6 L150.5,140.9 L151.6,141.1 L152.7,141.4 L153.8,141.7 L154.9,141.9 L156.0,142.2 L157.2,142.4 L158.3,142.7 L159.4,142.9 L160.5,143.2 L161.6,143.4 L162.7,143.6 L163.8,143.9 L165.0,144.1 L166.1,144.3 L167.2,144.5 L168.3,144.7 L169.4,144.9 L170.5,145.2 L171.7,145.4 L172.8,145.6 L173.9,145.8 L175.0,146.0 L176.1,146.2 L177.2,146.4 L178.3,146.6 L179.5,146.7 L180.6,146.9 L181.7,147.1 L182.8,147.3 L183.9,147.5 L185.0,147.6 L186.1,147.8 L187.3,148.0 L188.4,148.2 L189.5,148.3 L190.6,148.5 L191.7,148.7 L192.8,148.8 L194.0,149.0 L195.1,149.2 L196.2,149.3 L197.3,149.5 L198.4,149.6 L199.5,149.8 L200.6,149.9 L201.8,150.1 L202.9,150.2 L204.0,150.4 L205.1,150.5 L206.2,150.7 L207.3,150.8 L208.4,150.9 L209.6,151.1 L210.7,151.2 L211.8,151.4 L212.9,151.5 L214.0,151.6 L215.1,151.8 L216.3,151.9 L217.4,152.0 L218.5,152.1 L219.6,152.3 L220.7,152.4 L221.8,152.5 L222.9,152.6 L224.1,152.8 L225.2,152.9 L226.3,153.0 L227.4,153.1 L228.5,153.2 L229.6,153.4 L230.7,153.5 L231.9,153.6 L233.0,153.7 L234.1,153.8 L235.2,153.9 L236.3,154.0 L237.4,154.2 L238.6,154.3 L239.7,154.4 L240.8,154.5 L241.9,154.6 L243.0,154.7 L244.1,154.8 L245.2,154.9 L246.4,155.0 L247.5,155.1 L248.6,155.2 L249.7,155.3 L250.8,155.4 L251.9,155.5 L253.1,155.6 L254.2,155.7 L255.3,155.8 L256.4,155.9 L257.5,156.0 L258.6,156.1 L259.7,156.2 L260.9,156.3 L262.0,156.4 L263.1,156.5 L264.2,156.6 L265.3,156.6 L266.4,156.7 L267.5,156.8 L268.7,156.9 L269.8,157.0 L270.9,157.1 L272.0,157.2 L273.1,157.3 L274.2,157.3 L275.4,157.4 L276.5,157.5 L277.6,157.6 L278.7,157.7 L279.8,157.8 L280.9,157.8 L282.0,157.9 L283.2,158.0 L284.3,158.1 L285.4,158.2 L286.5,158.3 L287.6,158.3 L288.7,158.4 L289.8,158.5 L291.0,158.6 L292.1,158.6 L293.2,158.7 L294.3,158.8 L295.4,158.9 L296.5,158.9 L297.7,159.0 L298.8,159.1 L299.9,159.2 L301.0,159.2 L302.1,159.3 L303.2,159.4 L304.3,159.5 L305.5,159.5 L306.6,159.6 L307.7,159.7 L308.8,159.7 L309.9,159.8 L311.0,159.9 L312.1,159.9 L313.3,160.0 L314.4,160.1 L315.5,160.2 L316.6,160.2 L317.7,160.3 L318.8,160.4 L320.0,160.4 L321.1,160.5 L322.2,160.6 L323.3,160.6" fill="none" stroke="#FFFF00" stroke-width="1.3"/>
<path d="M80.0,127.9 L81.1,128.9 L82.2,129.9 L83.3,130.9 L84.4,131.8 L85.6,132.6 L86.7,133.4 L87.8,134.2 L88.9,134.9 L90.0,135.6 L91.1,136.3 L92.2,137.0 L93.3,137.6 L94.4,138.2 L95.6,138.8 L96.7,139.3 L97.8,139.9 L98.9,140.4 L100.0,140.9 L101.1,141.4 L102.2,141.9 L103.3,142.4 L104.4,142.8 L105.6,143.3 L106.7,143.7 L107.8,144.1 L108.9,144.5 L110.0,144.9 L111.1,145.3 L112.2,145.7 L113.3,146.1 L114.4,146.4 L115.6,146.8 L116.7,147.1 L117.8,147.5 L118.9,147.8 L120.0,148.1 L121.1,148.4 L122.2,148.8 L123.3,149.1 L124.4,149.4 L125.5,149.7 L126.7,150.0 L127.8,150.2 L128.9,150.5 L130.0,150.8 L131.1,151.1 L132.2,151.3 L133.3,151.6 L134.4,151.8 L135.5,152.1 L136.7,152.3 L137.8,152.6 L138.9,152.8 L140.0,153.1 L141.1,153.3 L142.2,153.5 L143.3,153.8 L144.4,154.0 L145.5,154.2 L146.7,154.4 L147.8,154.6 L148.9,154.8 L150.0,155.1 L151.1,155.3 L152.2,155.5 L153.3,155.7 L154.4,155.9 L155.5,156.0 L156.7,156.2 L157.8,156.4 L158.9,156.6 L160.0,156.8 L161.1,157.0 L162.2,157.2 L163.3,157.3 L164.4,157.5 L165.5,157.7 L166.7,157.9 L167.8,158.0 L168.9,158.2 L170.0,158.4 L171.1,158.5 L172.2,158.7 L173.3,158.9 L174.4,159.0 L175.5,159.2 L176.7,159.3 L177.8,159.5 L178.9,159.6 L180.0,159.8 L181.1,159.9 L182.2,160.1 L183.3,160.2 L184.4,160.4 L185.5,160.5 L186.7,160.7 L187.8,160.8 L188.9,161.0 L190.0,161.1 L191.1,161.2 L192.2,161.4 L193.3,161.5 L194.4,161.6 L195.5,161.8 L196.7,161.9 L197.8,162.0 L198.9,162.2 L200.0,162.3 L201.1,162.4 L202.2,162.5 L203.3,162.7 L204.4,162.8 L205.5,162.9 L206.6,163.0 L207.8,163.1 L208.9,163.3 L210.0,163.4 L211.1,163.5 L212.2,163.6 L213.3,163.7 L214.4,163.8 L215.5,164.0 L216.6,164.1 L217.8,164.2 L218.9,164.3 L220.0,164.4 L221.1,164.5 L222.2,164.6 L223.3,164.7 L224.4,164.8 L225.5,164.9 L226.6,165.0 L227.8,165.2 L228.9,165.3 L230.0,165.4 L231.1,165.5 L232.2,165.6 L233.3,165.7 L234.4,165.8 L235.5,165.9 L236.6,166.0 L237.8,166.1 L238.9,166.2 L240.0,166.3 L241.1,166.3 L242.2,166.4 L243.3,166.5 L244.4,166.6 L245.5,166.7 L246.6,166.8 L247.8,166.9 L248.9,167.0 L250.0,167.1 L251.1,167.2 L252.2,167.3 L253.3,167.4 L254.4,167.5 L255.5,167.5 L256.6,167.6 L257.8,167.7 L258.9,167.8 L260.0,167.9 L261.1,168.0 L262.2,168.1 L263.3,168.1 L264.4,168.2 L265.5,168.3 L266.6,168.4 L267.8,168.5 L268.9,168.6 L270.0,168.6 L271.1,168.7 L272.2,168.8 L273.3,168.9 L274.4,169.0 L275.5,169.0 L276.6,169.1 L277.8,169.2 L278.9,169.3 L280.0,169.4 L281.1,169.4 L282.2,169.5 L283.3,169.6 L284.4,169.7 L285.5,169.7 L286.6,169.8 L287.7,169.9 L288.9,170.0 L290.0,170.0 L291.1,170.1 L292.2,170.2 L293.3,170.3 L294.4,170.3 L295.5,170.4 L296.6,170.5 L297.7,170.5 L298.9,170.6 L300.0,170.7 L301.1,170.7 L302.2,170.8 L303.3,170.9 L304.4,171.0 L305.5,171.0 L306.6,171.1 L307.7,171.2 L308.9,171.2 L310.0,171.3 L311.1,171.4 L312.2,171.4 L313.3,171.5 L314.4,171.6 L315.5,171.6 L316.6,171.7 L317.7,171.8 L318.9,171.8 L320.0,171.9 L321.1,172.0 L322.2,172.0 L323.3,172.1" fill="none" stroke="#ED7D31" stroke-width="1.3"/>
<path d="M91.6,74.4 L92.7,75.5 L93.7,76.5 L94.8,77.5 L95.8,78.4 L96.9,79.4 L97.9,80.3 L99.0,81.2 L100.0,82.1 L101.1,83.0 L102.1,83.8 L103.2,84.6 L104.2,85.4 L105.3,86.2 L106.3,87.0 L107.4,87.8 L108.5,88.5 L109.5,89.2 L110.6,89.9 L111.6,90.6 L112.7,91.3 L113.7,92.0 L114.8,92.7 L115.8,93.3 L116.9,93.9 L117.9,94.6 L119.0,95.2 L120.0,95.8 L121.1,96.3 L122.1,96.9 L123.2,97.5 L124.3,98.0 L125.3,98.6 L126.4,99.1 L127.4,99.6 L128.5,100.1 L129.5,100.6 L130.6,101.1 L131.6,101.6 L132.7,102.1 L133.7,102.5 L134.8,103.0 L135.8,103.5 L136.9,103.9 L138.0,104.3 L139.0,104.8 L140.1,105.2 L141.1,105.6 L142.2,106.0 L143.2,106.4 L144.3,106.8 L145.3,107.2 L146.4,107.5 L147.4,107.9 L148.5,108.3 L149.5,108.6 L150.6,109.0 L151.6,109.3 L152.7,109.7 L153.8,110.0 L154.8,110.3 L155.9,110.7 L156.9,111.0 L158.0,111.3 L159.0,111.6 L160.1,111.9 L161.1,112.2 L162.2,112.5 L163.2,112.8 L164.3,113.1 L165.3,113.4 L166.4,113.6 L167.4,113.9 L168.5,114.2 L169.6,114.4 L170.6,114.7 L171.7,115.0 L172.7,115.2 L173.8,115.5 L174.8,115.7 L175.9,116.0 L176.9,116.2 L178.0,116.4 L179.0,116.7 L180.1,116.9 L181.1,117.1 L182.2,117.3 L183.2,117.6 L184.3,117.8 L185.4,118.0 L186.4,118.2 L187.5,118.4 L188.5,118.6 L189.6,118.8 L190.6,119.0 L191.7,119.2 L192.7,119.4 L193.8,119.6 L194.8,119.8 L195.9,119.9 L196.9,120.1 L198.0,120.3 L199.0,120.5 L200.1,120.7 L201.2,120.8 L202.2,121.0 L203.3,121.2 L204.3,121.3 L205.4,121.5 L206.4,121.7 L207.5,121.8 L208.5,122.0 L209.6,122.1 L210.6,122.3 L211.7,122.4 L212.7,122.6 L213.8,122.7 L214.9,122.9 L215.9,123.0 L217.0,123.2 L218.0,123.3 L219.1,123.4 L220.1,123.6 L221.2,123.7 L222.2,123.8 L223.3,124.0 L224.3,124.1 L225.4,124.2 L226.4,124.4 L227.5,124.5 L228.5,124.6 L229.6,124.7 L230.7,124.8 L231.7,125.0 L232.8,125.1 L233.8,125.2 L234.9,125.3 L235.9,125.4 L237.0,125.5 L238.0,125.7 L239.1,125.8 L240.1,125.9 L241.2,126.0 L242.2,126.1 L243.3,126.2 L244.3,126.3 L245.4,126.4 L246.5,126.5 L247.5,126.6 L248.6,126.7 L249.6,126.8 L250.7,126.9 L251.7,127.0 L252.8,127.1 L253.8,127.2 L254.9,127.3 L255.9,127.4 L257.0,127.5 L258.0,127.5 L259.1,127.6 L260.1,127.7 L261.2,127.8 L262.3,127.9 L263.3,128.0 L264.4,128.1 L265.4,128.1 L266.5,128.2 L267.5,128.3 L268.6,128.4 L269.6,128.5 L270.7,128.5 L271.7,128.6 L272.8,128.7 L273.8,128.8 L274.9,128.8 L275.9,128.9 L277.0,129.0 L278.1,129.1 L279.1,129.1 L280.2,129.2 L281.2,129.3 L282.3,129.4 L283.3,129.4 L284.4,129.5 L285.4,129.6 L286.5,129.6 L287.5,129.7 L288.6,129.8 L289.6,129.8 L290.7,129.9 L291.8,130.0 L292.8,130.0 L293.9,130.1 L294.9,130.1 L296.0,130.2 L297.0,130.3 L298.1,130.3 L299.1,130.4 L300.2,130.4 L301.2,130.5 L302.3,130.6 L303.3,130.6 L304.4,130.7 L305.4,130.7 L306.5,130.8 L307.6,130.8 L308.6,130.9 L309.7,131.0 L310.7,131.0 L311.8,131.1 L312.8,131.1 L313.9,131.2 L314.9,131.2 L316.0,131.3 L317.0,131.3 L318.1,131.4 L319.1,131.4 L320.2,131.5 L321.2,131.5 L322.3,131.6" fill="none" stroke="#A5A5A5" stroke-width="1.3"/>
<path d="M91.2,74.5 L92.3,75.6 L93.3,76.6 L94.4,77.5 L95.4,78.5 L96.5,79.4 L97.5,80.3 L98.6,81.1 L99.6,82.0 L100.7,82.8 L101.8,83.6 L102.8,84.3 L103.9,85.1 L104.9,85.8 L106.0,86.5 L107.0,87.2 L108.1,87.9 L109.1,88.6 L110.2,89.2 L111.2,89.9 L112.3,90.5 L113.4,91.1 L114.4,91.7 L115.5,92.2 L116.5,92.8 L117.6,93.4 L118.6,93.9 L119.7,94.4 L120.7,94.9 L121.8,95.4 L122.9,95.9 L123.9,96.4 L125.0,96.9 L126.0,97.3 L127.1,97.8 L128.1,98.3 L129.2,98.7 L130.2,99.1 L131.3,99.5 L132.4,100.0 L133.4,100.4 L134.5,100.8 L135.5,101.1 L136.6,101.5 L137.6,101.9 L138.7,102.3 L139.7,102.6 L140.8,103.0 L141.9,103.3 L142.9,103.7 L144.0,104.0 L145.0,104.4 L146.1,104.7 L147.1,105.0 L148.2,105.3 L149.2,105.6 L150.3,106.0 L151.3,106.3 L152.4,106.6 L153.5,106.8 L154.5,107.1 L155.6,107.4 L156.6,107.7 L157.7,108.0 L158.7,108.2 L159.8,108.5 L160.8,108.8 L161.9,109.0 L163.0,109.3 L164.0,109.5 L165.1,109.8 L166.1,110.0 L167.2,110.3 L168.2,110.5 L169.3,110.8 L170.3,111.0 L171.4,111.2 L172.5,111.4 L173.5,111.7 L174.6,111.9 L175.6,112.1 L176.7,112.3 L177.7,112.5 L178.8,112.7 L179.8,112.9 L180.9,113.1 L182.0,113.3 L183.0,113.5 L184.1,113.7 L185.1,113.9 L186.2,114.1 L187.2,114.3 L188.3,114.5 L189.3,114.7 L190.4,114.9 L191.4,115.0 L192.5,115.2 L193.6,115.4 L194.6,115.6 L195.7,115.7 L196.7,115.9 L197.8,116.1 L198.8,116.2 L199.9,116.4 L200.9,116.6 L202.0,116.7 L203.1,116.9 L204.1,117.1 L205.2,117.2 L206.2,117.4 L207.3,117.5 L208.3,117.7 L209.4,117.8 L210.4,118.0 L211.5,118.1 L212.6,118.2 L213.6,118.4 L214.7,118.5 L215.7,118.7 L216.8,118.8 L217.8,118.9 L218.9,119.1 L219.9,119.2 L221.0,119.3 L222.1,119.5 L223.1,119.6 L224.2,119.7 L225.2,119.9 L226.3,120.0 L227.3,120.1 L228.4,120.2 L229.4,120.4 L230.5,120.5 L231.5,120.6 L232.6,120.7 L233.7,120.8 L234.7,121.0 L235.8,121.1 L236.8,121.2 L237.9,121.3 L238.9,121.4 L240.0,121.5 L241.0,121.6 L242.1,121.7 L243.2,121.8 L244.2,122.0 L245.3,122.1 L246.3,122.2 L247.4,122.3 L248.4,122.4 L249.5,122.5 L250.5,122.6 L251.6,122.7 L252.7,122.8 L253.7,122.9 L254.8,123.0 L255.8,123.1 L256.9,123.2 L257.9,123.3 L259.0,123.4 L260.0,123.5 L261.1,123.6 L262.2,123.6 L263.2,123.7 L264.3,123.8 L265.3,123.9 L266.4,124.0 L267.4,124.1 L268.5,124.2 L269.5,124.3 L270.6,124.4 L271.6,124.5 L272.7,124.5 L273.8,124.6 L274.8,124.7 L275.9,124.8 L276.9,124.9 L278.0,125.0 L279.0,125.0 L280.1,125.1 L281.1,125.2 L282.2,125.3 L283.3,125.4 L284.3,125.4 L285.4,125.5 L286.4,125.6 L287.5,125.7 L288.5,125.7 L289.6,125.8 L290.6,125.9 L291.7,126.0 L292.8,126.0 L293.8,126.1 L294.9,126.2 L295.9,126.3 L297.0,126.3 L298.0,126.4 L299.1,126.5 L300.1,126.6 L301.2,126.6 L302.3,126.7 L303.3,126.8 L304.4,126.8 L305.4,126.9 L306.5,127.0 L307.5,127.0 L308.6,127.1 L309.6,127.2 L310.7,127.2 L311.7,127.3 L312.8,127.4 L313.9,127.4 L314.9,127.5 L316.0,127.6 L317.0,127.6 L318.1,127.7 L319.1,127.7 L320.2,127.8 L321.2,127.9 L322.3,127.9" fill="none" stroke="#FFC000" stroke-width="1.3"/>
<path d="M79.6,85.7 L80.7,90.0 L81.8,93.6 L82.9,96.7 L84.1,99.3 L85.2,101.6 L86.3,103.7 L87.4,105.5 L88.5,107.2 L89.6,108.8 L90.7,110.2 L91.8,111.5 L93.0,112.8 L94.1,113.9 L95.2,115.0 L96.3,116.1 L97.4,117.0 L98.5,117.9 L99.6,118.8 L100.7,119.6 L101.9,120.4 L103.0,121.2 L104.1,121.9 L105.2,122.6 L106.3,123.3 L107.4,124.0 L108.5,124.6 L109.6,125.2 L110.8,125.8 L111.9,126.3 L113.0,126.9 L114.1,127.4 L115.2,127.9 L116.3,128.4 L117.4,128.9 L118.5,129.3 L119.7,129.8 L120.8,130.2 L121.9,130.7 L123.0,131.1 L124.1,131.5 L125.2,131.9 L126.3,132.3 L127.4,132.7 L128.6,133.0 L129.7,133.4 L130.8,133.8 L131.9,134.1 L133.0,134.4 L134.1,134.8 L135.2,135.1 L136.4,135.4 L137.5,135.7 L138.6,136.1 L139.7,136.4 L140.8,136.7 L141.9,136.9 L143.0,137.2 L144.1,137.5 L145.3,137.8 L146.4,138.1 L147.5,138.3 L148.6,138.6 L149.7,138.8 L150.8,139.1 L151.9,139.4 L153.0,139.6 L154.2,139.8 L155.3,140.1 L156.4,140.3 L157.5,140.5 L158.6,140.8 L159.7,141.0 L160.8,141.2 L161.9,141.4 L163.1,141.7 L164.2,141.9 L165.3,142.1 L166.4,142.3 L167.5,142.5 L168.6,142.7 L169.7,142.9 L170.8,143.1 L172.0,143.3 L173.1,143.5 L174.2,143.7 L175.3,143.8 L176.4,144.0 L177.5,144.2 L178.6,144.4 L179.8,144.6 L180.9,144.7 L182.0,144.9 L183.1,145.1 L184.2,145.3 L185.3,145.4 L186.4,145.6 L187.5,145.8 L188.7,145.9 L189.8,146.1 L190.9,146.2 L192.0,146.4 L193.1,146.6 L194.2,146.7 L195.3,146.9 L196.4,147.0 L197.6,147.2 L198.7,147.3 L199.8,147.5 L200.9,147.6 L202.0,147.7 L203.1,147.9 L204.2,148.0 L205.3,148.2 L206.5,148.3 L207.6,148.4 L208.7,148.6 L209.8,148.7 L210.9,148.9 L212.0,149.0 L213.1,149.1 L214.2,149.2 L215.4,149.4 L216.5,149.5 L217.6,149.6 L218.7,149.8 L219.8,149.9 L220.9,150.0 L222.0,150.1 L223.1,150.3 L224.3,150.4 L225.4,150.5 L226.5,150.6 L227.6,150.7 L228.7,150.8 L229.8,151.0 L230.9,151.1 L232.1,151.2 L233.2,151.3 L234.3,151.4 L235.4,151.5 L236.5,151.6 L237.6,151.7 L238.7,151.9 L239.8,152.0 L241.0,152.1 L242.1,152.2 L243.2,152.3 L244.3,152.4 L245.4,152.5 L246.5,152.6 L247.6,152.7 L248.7,152.8 L249.9,152.9 L251.0,153.0 L252.1,153.1 L253.2,153.2 L254.3,153.3 L255.4,153.4 L256.5,153.5 L257.6,153.6 L258.8,153.7 L259.9,153.8 L261.0,153.9 L262.1,154.0 L263.2,154.1 L264.3,154.2 L265.4,154.3 L266.5,154.3 L267.7,154.4 L268.8,154.5 L269.9,154.6 L271.0,154.7 L272.1,154.8 L273.2,154.9 L274.3,155.0 L275.5,155.1 L276.6,155.1 L277.7,155.2 L278.8,155.3 L279.9,155.4 L281.0,155.5 L282.1,155.6 L283.2,155.7 L284.4,155.7 L285.5,155.8 L286.6,155.9 L287.7,156.0 L288.8,156.1 L289.9,156.1 L291.0,156.2 L292.1,156.3 L293.3,156.4 L294.4,156.5 L295.5,156.5 L296.6,156.6 L297.7,156.7 L298.8,156.8 L299.9,156.8 L301.0,156.9 L302.2,157.0 L303.3,157.1 L304.4,157.2 L305.5,157.2 L306.6,157.3 L307.7,157.4 L308.8,157.4 L309.9,157.5 L311.1,157.6 L312.2,157.7 L313.3,157.7 L314.4,157.8 L315.5,157.9 L316.6,158.0 L317.7,158.0 L318.8,158.1 L320.0,158.2 L321.1,158.2 L322.2,158.3 L323.3,158.4" fill="none" stroke="#1467B8" stroke-width="1.3"/>
<text x="418.8" y="77.7" font-size="9" text-anchor="end">10</text>
<text x="418.8" y="101.9" font-size="9" text-anchor="end">8</text>
<text x="418.8" y="126.2" font-size="9" text-anchor="end">6</text>
<text x="418.8" y="150.4" font-size="9" text-anchor="end">4</text>
<text x="418.8" y="174.7" font-size="9" text-anchor="end">2</text>
<text x="418.8" y="198.9" font-size="9" text-anchor="end">0</text>
<text x="426.9" y="211.6" font-size="9.2" text-anchor="middle" textLength="4.8" lengthAdjust="spacingAndGlyphs">1</text>
<text x="477.4" y="211.6" font-size="9.2" text-anchor="middle" textLength="4.8" lengthAdjust="spacingAndGlyphs">2</text>
<text x="525.2" y="211.6" font-size="9.2" text-anchor="middle" textLength="4.8" lengthAdjust="spacingAndGlyphs">3</text>
<text x="575.8" y="211.6" font-size="9.2" text-anchor="middle" textLength="4.8" lengthAdjust="spacingAndGlyphs">4</text>
<text x="623.6" y="211.6" font-size="9.2" text-anchor="middle" textLength="4.8" lengthAdjust="spacingAndGlyphs">5</text>
<text x="673.7" y="211.6" font-size="9.2" text-anchor="middle" textLength="4.8" lengthAdjust="spacingAndGlyphs">6</text>
<text x="526.3" y="224" font-size="9.6" text-anchor="start" textLength="51.4" lengthAdjust="spacingAndGlyphs">Time (sec)</text>
<text transform="translate(400.7 135.25) rotate(-90)" x="0" y="0" font-size="11" text-anchor="middle" textLength="86.5" lengthAdjust="spacingAndGlyphs">Intensity (pW/cm<tspan font-size="6.5" dy="-4">2</tspan><tspan dy="4">)</tspan></text>
<text x="606.8" y="82.9" font-size="8.8" text-anchor="start" textLength="49.2" lengthAdjust="spacingAndGlyphs">Rotenone</text>
<g fill="#70AD47"><circle cx="430.8" cy="112.8" r="2.2"/><circle cx="433.5" cy="114.0" r="2.2"/><circle cx="435.6" cy="115.2" r="2.2"/><circle cx="437.6" cy="116.4" r="2.2"/><circle cx="440.6" cy="117.6" r="2.2"/><circle cx="442.4" cy="120.0" r="2.2"/><circle cx="444.6" cy="121.2" r="2.2"/><circle cx="447.4" cy="123.6" r="2.2"/><circle cx="449.1" cy="126.0" r="2.2"/><circle cx="451.9" cy="127.2" r="2.2"/><circle cx="453.8" cy="128.4" r="2.2"/><circle cx="456.2" cy="130.8" r="2.2"/><circle cx="458.4" cy="130.8" r="2.2"/><circle cx="461.2" cy="132.0" r="2.2"/><circle cx="463.1" cy="132.0" r="2.2"/><circle cx="465.9" cy="132.0" r="2.2"/><circle cx="467.9" cy="133.2" r="2.2"/><circle cx="470.3" cy="134.4" r="2.2"/><circle cx="472.4" cy="133.2" r="2.2"/><circle cx="474.5" cy="135.6" r="2.2"/><circle cx="476.9" cy="136.8" r="2.2"/><circle cx="479.7" cy="136.8" r="2.2"/><circle cx="481.4" cy="138.0" r="2.2"/><circle cx="484.3" cy="139.2" r="2.2"/><circle cx="486.4" cy="139.2" r="2.2"/><circle cx="488.4" cy="139.2" r="2.2"/><circle cx="490.9" cy="139.2" r="2.2"/><circle cx="493.0" cy="140.4" r="2.2"/><circle cx="495.3" cy="140.4" r="2.2"/><circle cx="497.7" cy="141.6" r="2.2"/><circle cx="499.6" cy="142.8" r="2.2"/><circle cx="502.3" cy="145.2" r="2.2"/><circle cx="505.0" cy="145.2" r="2.2"/><circle cx="506.7" cy="151.2" r="2.2"/><circle cx="509.4" cy="154.8" r="2.2"/><circle cx="511.5" cy="157.2" r="2.2"/><circle cx="513.6" cy="157.2" r="2.2"/><circle cx="516.4" cy="158.4" r="2.2"/><circle cx="518.0" cy="158.4" r="2.2"/><circle cx="520.5" cy="158.4" r="2.2"/><circle cx="523.4" cy="159.6" r="2.2"/><circle cx="525.1" cy="160.8" r="2.2"/><circle cx="527.9" cy="163.2" r="2.2"/><circle cx="530.0" cy="164.4" r="2.2"/><circle cx="532.4" cy="166.8" r="2.2"/><circle cx="534.6" cy="168.0" r="2.2"/><circle cx="536.7" cy="168.0" r="2.2"/><circle cx="539.3" cy="168.0" r="2.2"/><circle cx="541.0" cy="168.0" r="2.2"/><circle cx="543.7" cy="169.2" r="2.2"/><circle cx="545.9" cy="171.6" r="2.2"/><circle cx="548.3" cy="168.0" r="2.2"/><circle cx="550.3" cy="168.0" r="2.2"/><circle cx="552.7" cy="166.8" r="2.2"/><circle cx="555.2" cy="164.4" r="2.2"/><circle cx="557.4" cy="164.4" r="2.2"/><circle cx="560.0" cy="164.4" r="2.2"/><circle cx="562.2" cy="164.4" r="2.2"/><circle cx="564.7" cy="165.6" r="2.2"/><circle cx="566.9" cy="165.6" r="2.2"/><circle cx="569.1" cy="165.6" r="2.2"/><circle cx="571.1" cy="166.8" r="2.2"/><circle cx="573.8" cy="166.8" r="2.2"/><circle cx="575.7" cy="168.0" r="2.2"/><circle cx="577.9" cy="168.0" r="2.2"/><circle cx="580.9" cy="169.2" r="2.2"/><circle cx="582.8" cy="169.2" r="2.2"/><circle cx="585.3" cy="170.4" r="2.2"/><circle cx="587.4" cy="171.6" r="2.2"/><circle cx="589.8" cy="172.8" r="2.2"/><circle cx="591.6" cy="174.0" r="2.2"/><circle cx="594.0" cy="172.8" r="2.2"/><circle cx="596.7" cy="174.0" r="2.2"/><circle cx="599.0" cy="174.0" r="2.2"/><circle cx="600.9" cy="175.2" r="2.2"/><circle cx="603.9" cy="176.4" r="2.2"/><circle cx="605.5" cy="177.6" r="2.2"/><circle cx="608.1" cy="177.6" r="2.2"/><circle cx="610.1" cy="177.6" r="2.2"/><circle cx="612.9" cy="178.8" r="2.2"/><circle cx="614.8" cy="178.8" r="2.2"/><circle cx="617.0" cy="178.8" r="2.2"/><circle cx="619.2" cy="180.0" r="2.2"/><circle cx="621.6" cy="177.6" r="2.2"/><circle cx="624.0" cy="178.8" r="2.2"/><circle cx="626.5" cy="178.8" r="2.2"/><circle cx="628.8" cy="178.8" r="2.2"/><circle cx="631.5" cy="182.4" r="2.2"/><circle cx="633.8" cy="183.6" r="2.2"/><circle cx="635.9" cy="184.8" r="2.2"/><circle cx="638.1" cy="187.2" r="2.2"/><circle cx="640.6" cy="187.2" r="2.2"/><circle cx="643.0" cy="188.4" r="2.2"/><circle cx="644.5" cy="188.4" r="2.2"/><circle cx="646.9" cy="189.6" r="2.2"/><circle cx="649.4" cy="190.8" r="2.2"/><circle cx="651.5" cy="190.8" r="2.2"/><circle cx="654.2" cy="190.8" r="2.2"/></g>
<g fill="#FFFF00"><circle cx="432.0" cy="126.0" r="2.2"/><circle cx="434.2" cy="127.2" r="2.2"/><circle cx="436.8" cy="124.8" r="2.2"/><circle cx="439.4" cy="129.6" r="2.2"/><circle cx="441.0" cy="129.6" r="2.2"/><circle cx="443.6" cy="130.8" r="2.2"/><circle cx="446.0" cy="132.0" r="2.2"/><circle cx="448.2" cy="133.2" r="2.2"/><circle cx="450.8" cy="136.8" r="2.2"/><circle cx="453.0" cy="136.8" r="2.2"/><circle cx="455.4" cy="138.0" r="2.2"/><circle cx="457.1" cy="136.8" r="2.2"/><circle cx="459.5" cy="136.8" r="2.2"/><circle cx="461.7" cy="138.0" r="2.2"/><circle cx="464.6" cy="141.6" r="2.2"/><circle cx="467.0" cy="145.2" r="2.2"/><circle cx="468.5" cy="146.4" r="2.2"/><circle cx="471.4" cy="150.0" r="2.2"/><circle cx="473.7" cy="146.4" r="2.2"/><circle cx="476.1" cy="147.6" r="2.2"/><circle cx="477.9" cy="150.0" r="2.2"/><circle cx="480.6" cy="151.2" r="2.2"/><circle cx="482.5" cy="150.0" r="2.2"/><circle cx="484.7" cy="150.0" r="2.2"/><circle cx="487.5" cy="150.0" r="2.2"/><circle cx="489.2" cy="148.8" r="2.2"/><circle cx="492.1" cy="148.8" r="2.2"/><circle cx="494.0" cy="148.8" r="2.2"/><circle cx="496.5" cy="150.0" r="2.2"/><circle cx="499.1" cy="151.2" r="2.2"/><circle cx="500.9" cy="154.8" r="2.2"/><circle cx="503.4" cy="156.0" r="2.2"/><circle cx="505.6" cy="157.2" r="2.2"/><circle cx="507.8" cy="156.0" r="2.2"/><circle cx="510.3" cy="159.6" r="2.2"/><circle cx="512.3" cy="159.6" r="2.2"/><circle cx="515.1" cy="160.8" r="2.2"/><circle cx="517.3" cy="159.6" r="2.2"/><circle cx="519.3" cy="160.8" r="2.2"/><circle cx="522.2" cy="163.2" r="2.2"/><circle cx="524.0" cy="160.8" r="2.2"/><circle cx="526.5" cy="160.8" r="2.2"/><circle cx="528.9" cy="165.6" r="2.2"/><circle cx="530.8" cy="163.2" r="2.2"/><circle cx="532.9" cy="163.2" r="2.2"/><circle cx="535.9" cy="163.2" r="2.2"/><circle cx="538.3" cy="160.8" r="2.2"/><circle cx="539.9" cy="164.4" r="2.2"/><circle cx="542.2" cy="164.4" r="2.2"/><circle cx="544.7" cy="165.6" r="2.2"/><circle cx="547.2" cy="169.2" r="2.2"/><circle cx="549.8" cy="165.6" r="2.2"/><circle cx="552.1" cy="165.6" r="2.2"/><circle cx="554.4" cy="165.6" r="2.2"/><circle cx="556.1" cy="164.4" r="2.2"/><circle cx="558.7" cy="164.4" r="2.2"/><circle cx="560.8" cy="163.2" r="2.2"/><circle cx="563.0" cy="162.0" r="2.2"/><circle cx="565.2" cy="163.2" r="2.2"/><circle cx="567.5" cy="162.0" r="2.2"/><circle cx="570.0" cy="165.6" r="2.2"/><circle cx="572.1" cy="163.2" r="2.2"/><circle cx="574.4" cy="164.4" r="2.2"/><circle cx="576.6" cy="165.6" r="2.2"/><circle cx="579.4" cy="165.6" r="2.2"/><circle cx="581.6" cy="166.8" r="2.2"/><circle cx="583.7" cy="168.0" r="2.2"/><circle cx="586.2" cy="168.0" r="2.2"/><circle cx="588.4" cy="169.2" r="2.2"/><circle cx="590.9" cy="171.6" r="2.2"/><circle cx="593.4" cy="175.2" r="2.2"/><circle cx="595.3" cy="172.8" r="2.2"/><circle cx="597.8" cy="174.0" r="2.2"/><circle cx="599.8" cy="174.0" r="2.2"/><circle cx="602.7" cy="174.0" r="2.2"/><circle cx="604.7" cy="174.0" r="2.2"/><circle cx="606.6" cy="172.8" r="2.2"/><circle cx="609.0" cy="172.8" r="2.2"/><circle cx="611.2" cy="174.0" r="2.2"/><circle cx="613.5" cy="174.0" r="2.2"/><circle cx="615.9" cy="174.0" r="2.2"/><circle cx="618.7" cy="175.2" r="2.2"/><circle cx="620.7" cy="175.2" r="2.2"/><circle cx="622.8" cy="176.4" r="2.2"/><circle cx="625.2" cy="176.4" r="2.2"/><circle cx="627.4" cy="176.4" r="2.2"/><circle cx="630.1" cy="178.8" r="2.2"/><circle cx="631.8" cy="176.4" r="2.2"/><circle cx="634.3" cy="175.2" r="2.2"/><circle cx="636.7" cy="175.2" r="2.2"/><circle cx="638.8" cy="175.2" r="2.2"/><circle cx="641.6" cy="176.4" r="2.2"/><circle cx="643.4" cy="177.6" r="2.2"/><circle cx="645.8" cy="177.6" r="2.2"/><circle cx="647.9" cy="182.4" r="2.2"/><circle cx="650.8" cy="180.0" r="2.2"/><circle cx="652.8" cy="180.0" r="2.2"/><circle cx="655.3" cy="177.6" r="2.2"/><circle cx="657.3" cy="177.6" r="2.2"/><circle cx="659.4" cy="178.8" r="2.2"/><circle cx="662.0" cy="178.8" r="2.2"/><circle cx="664.6" cy="180.0" r="2.2"/><circle cx="667.0" cy="180.0" r="2.2"/><circle cx="668.9" cy="180.0" r="2.2"/><circle cx="671.6" cy="181.2" r="2.2"/><circle cx="673.2" cy="181.2" r="2.2"/></g>
<g fill="#FFFF00"><circle cx="641.6" cy="164.4" r="2.2"/></g>
<g fill="#ED7D31"><circle cx="433.5" cy="135.6" r="2.2"/><circle cx="435.3" cy="140.4" r="2.2"/><circle cx="438.2" cy="144.0" r="2.2"/><circle cx="440.4" cy="146.4" r="2.2"/><circle cx="442.4" cy="148.8" r="2.2"/><circle cx="444.9" cy="150.0" r="2.2"/><circle cx="447.3" cy="150.0" r="2.2"/><circle cx="449.5" cy="157.2" r="2.2"/><circle cx="452.0" cy="159.6" r="2.2"/><circle cx="453.9" cy="157.2" r="2.2"/><circle cx="456.2" cy="158.4" r="2.2"/><circle cx="458.5" cy="159.6" r="2.2"/><circle cx="460.7" cy="160.8" r="2.2"/><circle cx="463.2" cy="159.6" r="2.2"/><circle cx="465.7" cy="159.6" r="2.2"/><circle cx="468.1" cy="158.4" r="2.2"/><circle cx="470.2" cy="157.2" r="2.2"/><circle cx="472.6" cy="158.4" r="2.2"/><circle cx="475.1" cy="159.6" r="2.2"/><circle cx="477.1" cy="160.8" r="2.2"/><circle cx="479.0" cy="158.4" r="2.2"/><circle cx="481.7" cy="158.4" r="2.2"/><circle cx="483.5" cy="158.4" r="2.2"/><circle cx="486.3" cy="158.4" r="2.2"/><circle cx="488.9" cy="158.4" r="2.2"/><circle cx="490.8" cy="160.8" r="2.2"/><circle cx="493.4" cy="162.0" r="2.2"/><circle cx="495.0" cy="164.4" r="2.2"/><circle cx="498.1" cy="165.6" r="2.2"/><circle cx="499.7" cy="165.6" r="2.2"/><circle cx="502.6" cy="165.6" r="2.2"/><circle cx="504.4" cy="166.8" r="2.2"/><circle cx="506.8" cy="170.4" r="2.2"/><circle cx="508.9" cy="170.4" r="2.2"/><circle cx="511.1" cy="171.6" r="2.2"/><circle cx="514.0" cy="174.0" r="2.2"/><circle cx="516.3" cy="174.0" r="2.2"/><circle cx="518.1" cy="174.0" r="2.2"/><circle cx="520.8" cy="174.0" r="2.2"/><circle cx="522.8" cy="174.0" r="2.2"/><circle cx="525.6" cy="174.0" r="2.2"/><circle cx="527.3" cy="171.6" r="2.2"/><circle cx="530.0" cy="166.8" r="2.2"/><circle cx="532.5" cy="170.4" r="2.2"/><circle cx="534.5" cy="175.2" r="2.2"/><circle cx="536.9" cy="176.4" r="2.2"/><circle cx="539.3" cy="177.6" r="2.2"/><circle cx="541.6" cy="176.4" r="2.2"/><circle cx="544.0" cy="178.8" r="2.2"/><circle cx="545.8" cy="178.8" r="2.2"/><circle cx="548.6" cy="178.8" r="2.2"/><circle cx="550.6" cy="180.0" r="2.2"/><circle cx="553.2" cy="178.8" r="2.2"/><circle cx="555.4" cy="181.2" r="2.2"/><circle cx="557.7" cy="181.2" r="2.2"/><circle cx="560.2" cy="181.2" r="2.2"/><circle cx="561.8" cy="180.0" r="2.2"/><circle cx="564.7" cy="180.0" r="2.2"/><circle cx="566.5" cy="178.8" r="2.2"/><circle cx="569.3" cy="178.8" r="2.2"/><circle cx="571.1" cy="178.8" r="2.2"/><circle cx="573.6" cy="177.6" r="2.2"/><circle cx="575.6" cy="177.6" r="2.2"/><circle cx="578.4" cy="178.8" r="2.2"/><circle cx="580.3" cy="178.8" r="2.2"/><circle cx="582.8" cy="180.0" r="2.2"/><circle cx="585.3" cy="178.8" r="2.2"/><circle cx="587.3" cy="178.8" r="2.2"/><circle cx="590.0" cy="178.8" r="2.2"/><circle cx="592.0" cy="178.8" r="2.2"/><circle cx="594.7" cy="178.8" r="2.2"/><circle cx="596.8" cy="178.8" r="2.2"/><circle cx="599.3" cy="176.4" r="2.2"/><circle cx="601.4" cy="177.6" r="2.2"/><circle cx="603.4" cy="177.6" r="2.2"/><circle cx="605.8" cy="178.8" r="2.2"/><circle cx="608.5" cy="182.4" r="2.2"/><circle cx="610.7" cy="183.6" r="2.2"/><circle cx="612.5" cy="183.6" r="2.2"/><circle cx="614.8" cy="184.8" r="2.2"/><circle cx="617.1" cy="186.0" r="2.2"/><circle cx="619.7" cy="186.0" r="2.2"/><circle cx="621.7" cy="188.4" r="2.2"/><circle cx="624.4" cy="187.2" r="2.2"/><circle cx="626.4" cy="187.2" r="2.2"/><circle cx="629.1" cy="186.0" r="2.2"/><circle cx="630.9" cy="186.0" r="2.2"/><circle cx="633.7" cy="186.0" r="2.2"/><circle cx="635.6" cy="184.8" r="2.2"/><circle cx="637.6" cy="184.8" r="2.2"/><circle cx="640.0" cy="181.2" r="2.2"/><circle cx="642.9" cy="180.0" r="2.2"/><circle cx="644.6" cy="180.0" r="2.2"/><circle cx="647.0" cy="180.0" r="2.2"/><circle cx="649.9" cy="181.2" r="2.2"/><circle cx="651.7" cy="183.6" r="2.2"/><circle cx="654.2" cy="183.6" r="2.2"/><circle cx="656.4" cy="184.8" r="2.2"/><circle cx="658.7" cy="184.8" r="2.2"/><circle cx="661.3" cy="184.8" r="2.2"/><circle cx="662.9" cy="187.2" r="2.2"/><circle cx="665.5" cy="188.4" r="2.2"/><circle cx="667.9" cy="189.6" r="2.2"/><circle cx="670.3" cy="189.6" r="2.2"/><circle cx="672.7" cy="187.2" r="2.2"/><circle cx="674.4" cy="186.0" r="2.2"/></g>
<g fill="#ED7D31"><circle cx="484.8" cy="152.4" r="2.2"/></g>
<g fill="#ED7D31"><circle cx="430.4" cy="151.2" r="2.2"/></g>
<g fill="#ED7D31"><circle cx="596.8" cy="189.6" r="2.2"/></g>
<g fill="#A5A5A5"><circle cx="436.6" cy="93.6" r="2.2"/><circle cx="438.3" cy="96.0" r="2.2"/><circle cx="440.7" cy="97.2" r="2.2"/><circle cx="443.1" cy="99.6" r="2.2"/><circle cx="445.1" cy="102.0" r="2.2"/><circle cx="447.4" cy="104.4" r="2.2"/><circle cx="450.2" cy="105.6" r="2.2"/><circle cx="452.3" cy="103.2" r="2.2"/><circle cx="454.4" cy="103.2" r="2.2"/><circle cx="457.2" cy="102.0" r="2.2"/><circle cx="459.0" cy="102.0" r="2.2"/><circle cx="461.6" cy="105.6" r="2.2"/><circle cx="464.0" cy="106.8" r="2.2"/><circle cx="465.8" cy="108.0" r="2.2"/><circle cx="468.1" cy="109.2" r="2.2"/><circle cx="470.9" cy="110.4" r="2.2"/><circle cx="472.7" cy="111.6" r="2.2"/><circle cx="475.1" cy="112.8" r="2.2"/><circle cx="477.9" cy="114.0" r="2.2"/><circle cx="479.9" cy="115.2" r="2.2"/><circle cx="482.5" cy="114.0" r="2.2"/><circle cx="484.8" cy="114.0" r="2.2"/><circle cx="487.0" cy="114.0" r="2.2"/><circle cx="488.8" cy="114.0" r="2.2"/><circle cx="491.4" cy="114.0" r="2.2"/><circle cx="493.5" cy="115.2" r="2.2"/><circle cx="495.7" cy="115.2" r="2.2"/><circle cx="498.2" cy="115.2" r="2.2"/><circle cx="500.8" cy="116.4" r="2.2"/><circle cx="503.3" cy="116.4" r="2.2"/><circle cx="505.2" cy="118.8" r="2.2"/><circle cx="507.5" cy="118.8" r="2.2"/><circle cx="510.1" cy="116.4" r="2.2"/><circle cx="512.2" cy="116.4" r="2.2"/><circle cx="514.7" cy="117.6" r="2.2"/><circle cx="516.7" cy="117.6" r="2.2"/><circle cx="519.4" cy="117.6" r="2.2"/><circle cx="521.5" cy="117.6" r="2.2"/><circle cx="523.6" cy="117.6" r="2.2"/><circle cx="525.6" cy="120.0" r="2.2"/><circle cx="528.5" cy="120.0" r="2.2"/><circle cx="530.1" cy="120.0" r="2.2"/><circle cx="532.4" cy="120.0" r="2.2"/><circle cx="534.7" cy="121.2" r="2.2"/><circle cx="537.7" cy="122.4" r="2.2"/><circle cx="539.9" cy="123.6" r="2.2"/><circle cx="541.6" cy="123.6" r="2.2"/><circle cx="543.9" cy="123.6" r="2.2"/><circle cx="546.3" cy="124.8" r="2.2"/><circle cx="549.1" cy="122.4" r="2.2"/><circle cx="551.1" cy="122.4" r="2.2"/><circle cx="553.7" cy="122.4" r="2.2"/><circle cx="556.2" cy="121.2" r="2.2"/><circle cx="558.2" cy="122.4" r="2.2"/><circle cx="560.4" cy="122.4" r="2.2"/><circle cx="563.0" cy="121.2" r="2.2"/><circle cx="564.8" cy="122.4" r="2.2"/><circle cx="567.5" cy="123.6" r="2.2"/><circle cx="569.2" cy="124.8" r="2.2"/><circle cx="571.7" cy="128.4" r="2.2"/><circle cx="574.3" cy="126.0" r="2.2"/><circle cx="576.7" cy="127.2" r="2.2"/><circle cx="578.7" cy="127.2" r="2.2"/><circle cx="581.1" cy="127.2" r="2.2"/><circle cx="583.6" cy="126.0" r="2.2"/><circle cx="585.9" cy="126.0" r="2.2"/><circle cx="588.2" cy="126.0" r="2.2"/><circle cx="590.6" cy="129.6" r="2.2"/><circle cx="592.3" cy="129.6" r="2.2"/><circle cx="594.7" cy="130.8" r="2.2"/><circle cx="597.4" cy="127.2" r="2.2"/><circle cx="599.8" cy="127.2" r="2.2"/><circle cx="602.1" cy="130.8" r="2.2"/><circle cx="604.1" cy="133.2" r="2.2"/><circle cx="606.6" cy="134.4" r="2.2"/><circle cx="608.8" cy="136.8" r="2.2"/><circle cx="610.7" cy="138.0" r="2.2"/><circle cx="613.6" cy="140.4" r="2.2"/><circle cx="615.5" cy="142.8" r="2.2"/><circle cx="617.5" cy="138.0" r="2.2"/><circle cx="620.0" cy="138.0" r="2.2"/><circle cx="622.3" cy="138.0" r="2.2"/><circle cx="624.4" cy="139.2" r="2.2"/><circle cx="627.5" cy="135.6" r="2.2"/><circle cx="629.3" cy="133.2" r="2.2"/><circle cx="631.7" cy="132.0" r="2.2"/><circle cx="634.1" cy="132.0" r="2.2"/><circle cx="636.7" cy="132.0" r="2.2"/><circle cx="638.6" cy="130.8" r="2.2"/><circle cx="640.8" cy="129.6" r="2.2"/><circle cx="643.1" cy="129.6" r="2.2"/><circle cx="645.3" cy="133.2" r="2.2"/><circle cx="648.0" cy="134.4" r="2.2"/><circle cx="650.4" cy="135.6" r="2.2"/><circle cx="652.1" cy="136.8" r="2.2"/><circle cx="654.3" cy="135.6" r="2.2"/><circle cx="657.3" cy="136.8" r="2.2"/><circle cx="659.4" cy="138.0" r="2.2"/><circle cx="661.9" cy="138.0" r="2.2"/><circle cx="663.8" cy="138.0" r="2.2"/><circle cx="666.0" cy="139.2" r="2.2"/><circle cx="668.8" cy="139.2" r="2.2"/><circle cx="670.4" cy="139.2" r="2.2"/><circle cx="673.3" cy="139.2" r="2.2"/><circle cx="675.6" cy="139.2" r="2.2"/></g>
<g fill="#FFC000"><circle cx="436.6" cy="99.6" r="2.2"/><circle cx="438.4" cy="99.6" r="2.2"/><circle cx="441.1" cy="100.8" r="2.2"/><circle cx="443.0" cy="98.4" r="2.2"/><circle cx="445.3" cy="99.6" r="2.2"/><circle cx="447.9" cy="99.6" r="2.2"/><circle cx="450.0" cy="99.6" r="2.2"/><circle cx="452.6" cy="99.6" r="2.2"/><circle cx="454.9" cy="102.0" r="2.2"/><circle cx="456.7" cy="102.0" r="2.2"/><circle cx="459.1" cy="102.0" r="2.2"/><circle cx="461.6" cy="102.0" r="2.2"/><circle cx="464.0" cy="100.8" r="2.2"/><circle cx="465.8" cy="102.0" r="2.2"/><circle cx="468.7" cy="102.0" r="2.2"/><circle cx="470.6" cy="103.2" r="2.2"/><circle cx="472.7" cy="100.8" r="2.2"/><circle cx="475.1" cy="104.4" r="2.2"/><circle cx="477.8" cy="104.4" r="2.2"/><circle cx="479.7" cy="105.6" r="2.2"/><circle cx="481.9" cy="105.6" r="2.2"/><circle cx="484.6" cy="105.6" r="2.2"/><circle cx="487.1" cy="104.4" r="2.2"/><circle cx="489.0" cy="104.4" r="2.2"/><circle cx="491.4" cy="105.6" r="2.2"/><circle cx="493.6" cy="103.2" r="2.2"/><circle cx="496.4" cy="106.8" r="2.2"/><circle cx="498.6" cy="103.2" r="2.2"/><circle cx="500.6" cy="105.6" r="2.2"/><circle cx="503.3" cy="105.6" r="2.2"/><circle cx="505.0" cy="105.6" r="2.2"/><circle cx="507.4" cy="105.6" r="2.2"/><circle cx="509.9" cy="108.0" r="2.2"/><circle cx="512.3" cy="106.8" r="2.2"/><circle cx="514.6" cy="105.6" r="2.2"/><circle cx="516.6" cy="105.6" r="2.2"/><circle cx="519.4" cy="104.4" r="2.2"/><circle cx="521.7" cy="104.4" r="2.2"/><circle cx="523.9" cy="104.4" r="2.2"/><circle cx="525.9" cy="102.0" r="2.2"/><circle cx="528.5" cy="103.2" r="2.2"/><circle cx="530.3" cy="105.6" r="2.2"/><circle cx="532.5" cy="108.0" r="2.2"/><circle cx="534.8" cy="108.0" r="2.2"/><circle cx="537.6" cy="110.4" r="2.2"/><circle cx="540.1" cy="110.4" r="2.2"/><circle cx="541.8" cy="108.0" r="2.2"/><circle cx="544.5" cy="111.6" r="2.2"/><circle cx="546.4" cy="111.6" r="2.2"/><circle cx="549.1" cy="112.8" r="2.2"/><circle cx="550.9" cy="114.0" r="2.2"/><circle cx="553.5" cy="114.0" r="2.2"/><circle cx="556.0" cy="112.8" r="2.2"/><circle cx="558.5" cy="111.6" r="2.2"/><circle cx="560.5" cy="108.0" r="2.2"/><circle cx="562.9" cy="108.0" r="2.2"/><circle cx="564.9" cy="106.8" r="2.2"/><circle cx="567.0" cy="105.6" r="2.2"/><circle cx="569.8" cy="105.6" r="2.2"/><circle cx="571.6" cy="106.8" r="2.2"/><circle cx="574.4" cy="114.0" r="2.2"/><circle cx="576.3" cy="112.8" r="2.2"/><circle cx="578.4" cy="115.2" r="2.2"/><circle cx="580.8" cy="116.4" r="2.2"/><circle cx="583.4" cy="117.6" r="2.2"/><circle cx="585.6" cy="114.0" r="2.2"/><circle cx="587.7" cy="114.0" r="2.2"/><circle cx="590.2" cy="115.2" r="2.2"/><circle cx="592.8" cy="115.2" r="2.2"/><circle cx="595.1" cy="115.2" r="2.2"/><circle cx="597.2" cy="115.2" r="2.2"/><circle cx="599.4" cy="115.2" r="2.2"/><circle cx="602.2" cy="115.2" r="2.2"/><circle cx="604.1" cy="115.2" r="2.2"/><circle cx="606.5" cy="115.2" r="2.2"/><circle cx="609.0" cy="115.2" r="2.2"/><circle cx="611.0" cy="114.0" r="2.2"/><circle cx="613.4" cy="114.0" r="2.2"/><circle cx="615.6" cy="115.2" r="2.2"/><circle cx="618.2" cy="115.2" r="2.2"/><circle cx="620.4" cy="115.2" r="2.2"/><circle cx="622.5" cy="116.4" r="2.2"/><circle cx="625.1" cy="116.4" r="2.2"/><circle cx="626.9" cy="116.4" r="2.2"/><circle cx="629.3" cy="116.4" r="2.2"/><circle cx="631.8" cy="117.6" r="2.2"/><circle cx="633.7" cy="118.8" r="2.2"/><circle cx="636.6" cy="120.0" r="2.2"/><circle cx="638.2" cy="121.2" r="2.2"/><circle cx="641.2" cy="124.8" r="2.2"/><circle cx="643.0" cy="124.8" r="2.2"/><circle cx="645.8" cy="123.6" r="2.2"/><circle cx="647.6" cy="122.4" r="2.2"/><circle cx="650.3" cy="120.0" r="2.2"/><circle cx="652.4" cy="121.2" r="2.2"/><circle cx="654.6" cy="120.0" r="2.2"/><circle cx="657.0" cy="120.0" r="2.2"/><circle cx="659.7" cy="118.8" r="2.2"/><circle cx="661.9" cy="117.6" r="2.2"/><circle cx="663.7" cy="118.8" r="2.2"/><circle cx="666.0" cy="122.4" r="2.2"/><circle cx="668.8" cy="126.0" r="2.2"/><circle cx="670.5" cy="122.4" r="2.2"/><circle cx="672.8" cy="120.0" r="2.2"/></g>
<g fill="#FFC000"><circle cx="619.5" cy="106.8" r="2.2"/><circle cx="621.5" cy="106.8" r="2.2"/></g>
<g fill="#1467B8"><circle cx="430.9" cy="116.4" r="2.2"/><circle cx="433.1" cy="121.2" r="2.2"/><circle cx="435.6" cy="120.0" r="2.2"/><circle cx="438.0" cy="120.0" r="2.2"/><circle cx="440.1" cy="120.0" r="2.2"/><circle cx="442.7" cy="120.0" r="2.2"/><circle cx="445.0" cy="121.2" r="2.2"/><circle cx="447.0" cy="121.2" r="2.2"/><circle cx="449.6" cy="126.0" r="2.2"/><circle cx="451.7" cy="124.8" r="2.2"/><circle cx="454.3" cy="127.2" r="2.2"/><circle cx="456.2" cy="128.4" r="2.2"/><circle cx="458.9" cy="130.8" r="2.2"/><circle cx="460.9" cy="132.0" r="2.2"/><circle cx="463.3" cy="140.4" r="2.2"/><circle cx="465.7" cy="138.0" r="2.2"/><circle cx="467.9" cy="139.2" r="2.2"/><circle cx="470.0" cy="140.4" r="2.2"/><circle cx="472.9" cy="140.4" r="2.2"/><circle cx="474.5" cy="141.6" r="2.2"/><circle cx="477.0" cy="142.8" r="2.2"/><circle cx="479.4" cy="135.6" r="2.2"/><circle cx="481.3" cy="136.8" r="2.2"/><circle cx="483.7" cy="135.6" r="2.2"/><circle cx="486.5" cy="135.6" r="2.2"/><circle cx="488.8" cy="136.8" r="2.2"/><circle cx="491.0" cy="140.4" r="2.2"/><circle cx="493.5" cy="142.8" r="2.2"/><circle cx="495.7" cy="142.8" r="2.2"/><circle cx="497.6" cy="142.8" r="2.2"/><circle cx="500.2" cy="145.2" r="2.2"/><circle cx="502.3" cy="142.8" r="2.2"/><circle cx="504.9" cy="144.0" r="2.2"/><circle cx="506.9" cy="145.2" r="2.2"/><circle cx="509.0" cy="151.2" r="2.2"/><circle cx="511.9" cy="148.8" r="2.2"/><circle cx="514.1" cy="148.8" r="2.2"/><circle cx="516.4" cy="150.0" r="2.2"/><circle cx="518.5" cy="151.2" r="2.2"/><circle cx="521.0" cy="153.6" r="2.2"/><circle cx="523.1" cy="156.0" r="2.2"/><circle cx="525.5" cy="156.0" r="2.2"/><circle cx="527.4" cy="156.0" r="2.2"/><circle cx="530.0" cy="154.8" r="2.2"/><circle cx="532.6" cy="152.4" r="2.2"/><circle cx="534.8" cy="152.4" r="2.2"/><circle cx="537.1" cy="156.0" r="2.2"/><circle cx="539.2" cy="157.2" r="2.2"/><circle cx="541.8" cy="153.6" r="2.2"/><circle cx="543.5" cy="158.4" r="2.2"/><circle cx="546.4" cy="158.4" r="2.2"/><circle cx="548.3" cy="157.2" r="2.2"/><circle cx="550.4" cy="156.0" r="2.2"/><circle cx="553.1" cy="158.4" r="2.2"/><circle cx="555.3" cy="157.2" r="2.2"/><circle cx="557.5" cy="156.0" r="2.2"/><circle cx="560.2" cy="157.2" r="2.2"/><circle cx="561.9" cy="158.4" r="2.2"/><circle cx="564.6" cy="160.8" r="2.2"/><circle cx="566.7" cy="163.2" r="2.2"/><circle cx="569.1" cy="163.2" r="2.2"/><circle cx="571.4" cy="163.2" r="2.2"/><circle cx="573.4" cy="163.2" r="2.2"/><circle cx="576.0" cy="163.2" r="2.2"/><circle cx="578.6" cy="163.2" r="2.2"/><circle cx="580.3" cy="163.2" r="2.2"/><circle cx="582.5" cy="168.0" r="2.2"/><circle cx="584.9" cy="165.6" r="2.2"/><circle cx="587.5" cy="166.8" r="2.2"/><circle cx="590.2" cy="166.8" r="2.2"/><circle cx="591.7" cy="168.0" r="2.2"/><circle cx="594.8" cy="168.0" r="2.2"/><circle cx="596.7" cy="168.0" r="2.2"/><circle cx="598.7" cy="168.0" r="2.2"/><circle cx="601.2" cy="165.6" r="2.2"/><circle cx="603.4" cy="164.4" r="2.2"/><circle cx="606.1" cy="163.2" r="2.2"/><circle cx="608.2" cy="162.0" r="2.2"/><circle cx="610.3" cy="163.2" r="2.2"/><circle cx="612.6" cy="166.8" r="2.2"/><circle cx="615.4" cy="168.0" r="2.2"/><circle cx="617.6" cy="171.6" r="2.2"/><circle cx="619.6" cy="168.0" r="2.2"/><circle cx="621.9" cy="169.2" r="2.2"/><circle cx="624.5" cy="170.4" r="2.2"/><circle cx="627.0" cy="171.6" r="2.2"/><circle cx="628.6" cy="172.8" r="2.2"/><circle cx="630.9" cy="172.8" r="2.2"/><circle cx="633.4" cy="172.8" r="2.2"/><circle cx="635.8" cy="171.6" r="2.2"/><circle cx="637.8" cy="172.8" r="2.2"/><circle cx="640.0" cy="174.0" r="2.2"/><circle cx="642.5" cy="175.2" r="2.2"/><circle cx="644.9" cy="175.2" r="2.2"/><circle cx="647.5" cy="175.2" r="2.2"/></g>
<g fill="#1467B8"><circle cx="650.3" cy="169.2" r="2.2"/><circle cx="652.5" cy="165.6" r="2.2"/></g>
<g fill="#1467B8"><circle cx="657.3" cy="165.6" r="2.2"/><circle cx="659.2" cy="166.8" r="2.2"/><circle cx="661.6" cy="169.2" r="2.2"/><circle cx="663.6" cy="170.4" r="2.2"/><circle cx="666.5" cy="176.4" r="2.2"/><circle cx="668.5" cy="178.8" r="2.2"/><circle cx="670.6" cy="181.2" r="2.2"/><circle cx="673.3" cy="182.4" r="2.2"/><circle cx="675.8" cy="182.4" r="2.2"/></g>
<g fill="#1467B8"><circle cx="627.3" cy="180.0" r="2.2"/></g>
<g fill="#1467B8"><circle cx="457.6" cy="127.2" r="2.2"/></g>
<g fill="#1467B8"><circle cx="497.4" cy="153.6" r="2.2"/></g>
<path d="M431.0,111.4 L432.1,114.0 L433.2,116.3 L434.4,118.4 L435.5,120.3 L436.6,122.1 L437.7,123.8 L438.8,125.3 L439.9,126.8 L441.1,128.1 L442.2,129.4 L443.3,130.6 L444.4,131.8 L445.5,132.9 L446.6,133.9 L447.8,134.9 L448.9,135.8 L450.0,136.8 L451.1,137.6 L452.2,138.5 L453.4,139.3 L454.5,140.0 L455.6,140.8 L456.7,141.5 L457.8,142.2 L458.9,142.9 L460.1,143.5 L461.2,144.2 L462.3,144.8 L463.4,145.4 L464.5,146.0 L465.7,146.5 L466.8,147.1 L467.9,147.6 L469.0,148.2 L470.1,148.7 L471.2,149.2 L472.4,149.6 L473.5,150.1 L474.6,150.6 L475.7,151.0 L476.8,151.5 L477.9,151.9 L479.1,152.3 L480.2,152.8 L481.3,153.2 L482.4,153.6 L483.5,153.9 L484.7,154.3 L485.8,154.7 L486.9,155.1 L488.0,155.4 L489.1,155.8 L490.2,156.1 L491.4,156.5 L492.5,156.8 L493.6,157.2 L494.7,157.5 L495.8,157.8 L497.0,158.1 L498.1,158.4 L499.2,158.7 L500.3,159.0 L501.4,159.3 L502.5,159.6 L503.7,159.9 L504.8,160.2 L505.9,160.5 L507.0,160.8 L508.1,161.0 L509.2,161.3 L510.4,161.6 L511.5,161.8 L512.6,162.1 L513.7,162.3 L514.8,162.6 L516.0,162.8 L517.1,163.1 L518.2,163.3 L519.3,163.6 L520.4,163.8 L521.5,164.0 L522.7,164.3 L523.8,164.5 L524.9,164.7 L526.0,164.9 L527.1,165.1 L528.2,165.4 L529.4,165.6 L530.5,165.8 L531.6,166.0 L532.7,166.2 L533.8,166.4 L535.0,166.6 L536.1,166.8 L537.2,167.0 L538.3,167.2 L539.4,167.4 L540.5,167.6 L541.7,167.8 L542.8,168.0 L543.9,168.2 L545.0,168.3 L546.1,168.5 L547.3,168.7 L548.4,168.9 L549.5,169.1 L550.6,169.2 L551.7,169.4 L552.8,169.6 L554.0,169.7 L555.1,169.9 L556.2,170.1 L557.3,170.3 L558.4,170.4 L559.5,170.6 L560.7,170.7 L561.8,170.9 L562.9,171.1 L564.0,171.2 L565.1,171.4 L566.3,171.5 L567.4,171.7 L568.5,171.8 L569.6,172.0 L570.7,172.1 L571.8,172.3 L573.0,172.4 L574.1,172.6 L575.2,172.7 L576.3,172.9 L577.4,173.0 L578.6,173.2 L579.7,173.3 L580.8,173.4 L581.9,173.6 L583.0,173.7 L584.1,173.8 L585.3,174.0 L586.4,174.1 L587.5,174.2 L588.6,174.4 L589.7,174.5 L590.8,174.6 L592.0,174.8 L593.1,174.9 L594.2,175.0 L595.3,175.2 L596.4,175.3 L597.6,175.4 L598.7,175.5 L599.8,175.7 L600.9,175.8 L602.0,175.9 L603.1,176.0 L604.3,176.1 L605.4,176.3 L606.5,176.4 L607.6,176.5 L608.7,176.6 L609.8,176.7 L611.0,176.8 L612.1,177.0 L613.2,177.1 L614.3,177.2 L615.4,177.3 L616.6,177.4 L617.7,177.5 L618.8,177.6 L619.9,177.7 L621.0,177.8 L622.1,178.0 L623.3,178.1 L624.4,178.2 L625.5,178.3 L626.6,178.4 L627.7,178.5 L628.9,178.6 L630.0,178.7 L631.1,178.8 L632.2,178.9 L633.3,179.0 L634.4,179.1 L635.6,179.2 L636.7,179.3 L637.8,179.4 L638.9,179.5 L640.0,179.6 L641.1,179.7 L642.3,179.8 L643.4,179.9 L644.5,180.0 L645.6,180.1 L646.7,180.2 L647.9,180.3 L649.0,180.4 L650.1,180.5 L651.2,180.6 L652.3,180.7 L653.4,180.7 L654.6,180.8 L655.7,180.9 L656.8,181.0 L657.9,181.1 L659.0,181.2 L660.2,181.3 L661.3,181.4 L662.4,181.5 L663.5,181.6 L664.6,181.6 L665.7,181.7 L666.9,181.8 L668.0,181.9 L669.1,182.0 L670.2,182.1 L671.3,182.2 L672.4,182.3 L673.6,182.3 L674.7,182.4 L675.8,182.5" fill="none" stroke="#70AD47" stroke-width="1.3"/>
<path d="M431.0,109.8 L432.1,112.4 L433.2,114.8 L434.4,116.9 L435.5,118.8 L436.6,120.6 L437.7,122.3 L438.8,123.8 L439.9,125.3 L441.1,126.6 L442.2,127.9 L443.3,129.1 L444.4,130.3 L445.5,131.4 L446.6,132.4 L447.8,133.4 L448.9,134.3 L450.0,135.3 L451.1,136.1 L452.2,137.0 L453.4,137.8 L454.5,138.5 L455.6,139.3 L456.7,140.0 L457.8,140.7 L458.9,141.4 L460.1,142.1 L461.2,142.7 L462.3,143.3 L463.4,143.9 L464.5,144.5 L465.7,145.1 L466.8,145.6 L467.9,146.1 L469.0,146.7 L470.1,147.2 L471.2,147.7 L472.4,148.2 L473.5,148.6 L474.6,149.1 L475.7,149.6 L476.8,150.0 L477.9,150.4 L479.1,150.9 L480.2,151.3 L481.3,151.7 L482.4,152.1 L483.5,152.5 L484.7,152.9 L485.8,153.2 L486.9,153.6 L488.0,154.0 L489.1,154.3 L490.2,154.7 L491.4,155.0 L492.5,155.4 L493.6,155.7 L494.7,156.0 L495.8,156.3 L497.0,156.7 L498.1,157.0 L499.2,157.3 L500.3,157.6 L501.4,157.9 L502.5,158.2 L503.7,158.4 L504.8,158.7 L505.9,159.0 L507.0,159.3 L508.1,159.6 L509.2,159.8 L510.4,160.1 L511.5,160.4 L512.6,160.6 L513.7,160.9 L514.8,161.1 L516.0,161.4 L517.1,161.6 L518.2,161.9 L519.3,162.1 L520.4,162.3 L521.5,162.6 L522.7,162.8 L523.8,163.0 L524.9,163.2 L526.0,163.5 L527.1,163.7 L528.2,163.9 L529.4,164.1 L530.5,164.3 L531.6,164.5 L532.7,164.7 L533.8,164.9 L535.0,165.1 L536.1,165.3 L537.2,165.5 L538.3,165.7 L539.4,165.9 L540.5,166.1 L541.7,166.3 L542.8,166.5 L543.9,166.7 L545.0,166.9 L546.1,167.1 L547.3,167.2 L548.4,167.4 L549.5,167.6 L550.6,167.8 L551.7,167.9 L552.8,168.1 L554.0,168.3 L555.1,168.5 L556.2,168.6 L557.3,168.8 L558.4,169.0 L559.5,169.1 L560.7,169.3 L561.8,169.4 L562.9,169.6 L564.0,169.8 L565.1,169.9 L566.3,170.1 L567.4,170.2 L568.5,170.4 L569.6,170.5 L570.7,170.7 L571.8,170.8 L573.0,171.0 L574.1,171.1 L575.2,171.3 L576.3,171.4 L577.4,171.6 L578.6,171.7 L579.7,171.8 L580.8,172.0 L581.9,172.1 L583.0,172.3 L584.1,172.4 L585.3,172.5 L586.4,172.7 L587.5,172.8 L588.6,172.9 L589.7,173.1 L590.8,173.2 L592.0,173.3 L593.1,173.5 L594.2,173.6 L595.3,173.7 L596.4,173.8 L597.6,174.0 L598.7,174.1 L599.8,174.2 L600.9,174.3 L602.0,174.5 L603.1,174.6 L604.3,174.7 L605.4,174.8 L606.5,174.9 L607.6,175.0 L608.7,175.2 L609.8,175.3 L611.0,175.4 L612.1,175.5 L613.2,175.6 L614.3,175.7 L615.4,175.9 L616.6,176.0 L617.7,176.1 L618.8,176.2 L619.9,176.3 L621.0,176.4 L622.1,176.5 L623.3,176.6 L624.4,176.7 L625.5,176.8 L626.6,176.9 L627.7,177.0 L628.9,177.1 L630.0,177.3 L631.1,177.4 L632.2,177.5 L633.3,177.6 L634.4,177.7 L635.6,177.8 L636.7,177.9 L637.8,178.0 L638.9,178.1 L640.0,178.2 L641.1,178.3 L642.3,178.4 L643.4,178.5 L644.5,178.6 L645.6,178.6 L646.7,178.7 L647.9,178.8 L649.0,178.9 L650.1,179.0 L651.2,179.1 L652.3,179.2 L653.4,179.3 L654.6,179.4 L655.7,179.5 L656.8,179.6 L657.9,179.7 L659.0,179.8 L660.2,179.9 L661.3,179.9 L662.4,180.0 L663.5,180.1 L664.6,180.2 L665.7,180.3 L666.9,180.4 L668.0,180.5 L669.1,180.6 L670.2,180.6 L671.3,180.7 L672.4,180.8 L673.6,180.9 L674.7,181.0 L675.8,181.1" fill="none" stroke="#FFFF00" stroke-width="1.3"/>
<path d="M433.3,133.2 L434.4,136.1 L435.5,138.5 L436.6,140.5 L437.7,142.3 L438.8,143.9 L439.9,145.4 L441.1,146.7 L442.2,147.9 L443.3,149.0 L444.4,150.1 L445.5,151.0 L446.6,151.9 L447.7,152.8 L448.8,153.6 L449.9,154.3 L451.0,155.1 L452.1,155.7 L453.2,156.4 L454.3,157.0 L455.4,157.6 L456.6,158.2 L457.7,158.7 L458.8,159.2 L459.9,159.7 L461.0,160.2 L462.1,160.7 L463.2,161.1 L464.3,161.6 L465.4,162.0 L466.5,162.4 L467.6,162.8 L468.7,163.2 L469.8,163.5 L470.9,163.9 L472.1,164.3 L473.2,164.6 L474.3,164.9 L475.4,165.3 L476.5,165.6 L477.6,165.9 L478.7,166.2 L479.8,166.5 L480.9,166.8 L482.0,167.1 L483.1,167.3 L484.2,167.6 L485.3,167.9 L486.5,168.1 L487.6,168.4 L488.7,168.6 L489.8,168.9 L490.9,169.1 L492.0,169.3 L493.1,169.6 L494.2,169.8 L495.3,170.0 L496.4,170.2 L497.5,170.5 L498.6,170.7 L499.7,170.9 L500.8,171.1 L502.0,171.3 L503.1,171.5 L504.2,171.7 L505.3,171.9 L506.4,172.0 L507.5,172.2 L508.6,172.4 L509.7,172.6 L510.8,172.8 L511.9,172.9 L513.0,173.1 L514.1,173.3 L515.2,173.5 L516.3,173.6 L517.5,173.8 L518.6,173.9 L519.7,174.1 L520.8,174.3 L521.9,174.4 L523.0,174.6 L524.1,174.7 L525.2,174.9 L526.3,175.0 L527.4,175.1 L528.5,175.3 L529.6,175.4 L530.7,175.6 L531.9,175.7 L533.0,175.8 L534.1,176.0 L535.2,176.1 L536.3,176.2 L537.4,176.4 L538.5,176.5 L539.6,176.6 L540.7,176.8 L541.8,176.9 L542.9,177.0 L544.0,177.1 L545.1,177.3 L546.2,177.4 L547.4,177.5 L548.5,177.6 L549.6,177.7 L550.7,177.8 L551.8,177.9 L552.9,178.1 L554.0,178.2 L555.1,178.3 L556.2,178.4 L557.3,178.5 L558.4,178.6 L559.5,178.7 L560.6,178.8 L561.7,178.9 L562.9,179.0 L564.0,179.1 L565.1,179.2 L566.2,179.3 L567.3,179.4 L568.4,179.5 L569.5,179.6 L570.6,179.7 L571.7,179.8 L572.8,179.9 L573.9,180.0 L575.0,180.1 L576.1,180.2 L577.2,180.3 L578.4,180.4 L579.5,180.5 L580.6,180.6 L581.7,180.7 L582.8,180.7 L583.9,180.8 L585.0,180.9 L586.1,181.0 L587.2,181.1 L588.3,181.2 L589.4,181.3 L590.5,181.4 L591.6,181.4 L592.8,181.5 L593.9,181.6 L595.0,181.7 L596.1,181.8 L597.2,181.8 L598.3,181.9 L599.4,182.0 L600.5,182.1 L601.6,182.2 L602.7,182.2 L603.8,182.3 L604.9,182.4 L606.0,182.5 L607.1,182.5 L608.3,182.6 L609.4,182.7 L610.5,182.8 L611.6,182.8 L612.7,182.9 L613.8,183.0 L614.9,183.1 L616.0,183.1 L617.1,183.2 L618.2,183.3 L619.3,183.3 L620.4,183.4 L621.5,183.5 L622.6,183.6 L623.8,183.6 L624.9,183.7 L626.0,183.8 L627.1,183.8 L628.2,183.9 L629.3,184.0 L630.4,184.0 L631.5,184.1 L632.6,184.2 L633.7,184.2 L634.8,184.3 L635.9,184.4 L637.0,184.4 L638.2,184.5 L639.3,184.5 L640.4,184.6 L641.5,184.7 L642.6,184.7 L643.7,184.8 L644.8,184.9 L645.9,184.9 L647.0,185.0 L648.1,185.0 L649.2,185.1 L650.3,185.2 L651.4,185.2 L652.5,185.3 L653.7,185.3 L654.8,185.4 L655.9,185.5 L657.0,185.5 L658.1,185.6 L659.2,185.6 L660.3,185.7 L661.4,185.7 L662.5,185.8 L663.6,185.9 L664.7,185.9 L665.8,186.0 L666.9,186.0 L668.0,186.1 L669.2,186.1 L670.3,186.2 L671.4,186.2 L672.5,186.3 L673.6,186.3 L674.7,186.4 L675.8,186.5" fill="none" stroke="#ED7D31" stroke-width="1.3"/>
<path d="M439.2,75.6 L440.3,76.7 L441.4,77.8 L442.4,78.8 L443.5,79.8 L444.6,80.8 L445.7,81.7 L446.8,82.6 L447.8,83.5 L448.9,84.4 L450.0,85.2 L451.1,86.1 L452.2,86.9 L453.2,87.7 L454.3,88.4 L455.4,89.2 L456.5,89.9 L457.6,90.6 L458.6,91.3 L459.7,92.0 L460.8,92.7 L461.9,93.3 L463.0,93.9 L464.0,94.6 L465.1,95.2 L466.2,95.8 L467.3,96.4 L468.4,97.0 L469.5,97.5 L470.5,98.1 L471.6,98.6 L472.7,99.2 L473.8,99.7 L474.9,100.2 L475.9,100.8 L477.0,101.3 L478.1,101.8 L479.2,102.2 L480.3,102.7 L481.3,103.2 L482.4,103.7 L483.5,104.1 L484.6,104.6 L485.7,105.0 L486.7,105.5 L487.8,105.9 L488.9,106.3 L490.0,106.7 L491.1,107.2 L492.1,107.6 L493.2,108.0 L494.3,108.4 L495.4,108.8 L496.5,109.2 L497.5,109.5 L498.6,109.9 L499.7,110.3 L500.8,110.7 L501.9,111.0 L502.9,111.4 L504.0,111.7 L505.1,112.1 L506.2,112.4 L507.3,112.8 L508.3,113.1 L509.4,113.5 L510.5,113.8 L511.6,114.1 L512.7,114.4 L513.7,114.8 L514.8,115.1 L515.9,115.4 L517.0,115.7 L518.1,116.0 L519.1,116.3 L520.2,116.6 L521.3,116.9 L522.4,117.2 L523.5,117.5 L524.5,117.8 L525.6,118.1 L526.7,118.4 L527.8,118.6 L528.9,118.9 L530.0,119.2 L531.0,119.5 L532.1,119.7 L533.2,120.0 L534.3,120.3 L535.4,120.5 L536.4,120.8 L537.5,121.1 L538.6,121.3 L539.7,121.6 L540.8,121.8 L541.8,122.1 L542.9,122.3 L544.0,122.6 L545.1,122.8 L546.2,123.1 L547.2,123.3 L548.3,123.5 L549.4,123.8 L550.5,124.0 L551.6,124.2 L552.6,124.5 L553.7,124.7 L554.8,124.9 L555.9,125.1 L557.0,125.4 L558.0,125.6 L559.1,125.8 L560.2,126.0 L561.3,126.2 L562.4,126.4 L563.4,126.7 L564.5,126.9 L565.6,127.1 L566.7,127.3 L567.8,127.5 L568.8,127.7 L569.9,127.9 L571.0,128.1 L572.1,128.3 L573.2,128.5 L574.2,128.7 L575.3,128.9 L576.4,129.1 L577.5,129.3 L578.6,129.5 L579.6,129.7 L580.7,129.9 L581.8,130.0 L582.9,130.2 L584.0,130.4 L585.0,130.6 L586.1,130.8 L587.2,131.0 L588.3,131.2 L589.4,131.3 L590.5,131.5 L591.5,131.7 L592.6,131.9 L593.7,132.0 L594.8,132.2 L595.9,132.4 L596.9,132.6 L598.0,132.7 L599.1,132.9 L600.2,133.1 L601.3,133.2 L602.3,133.4 L603.4,133.6 L604.5,133.7 L605.6,133.9 L606.7,134.1 L607.7,134.2 L608.8,134.4 L609.9,134.5 L611.0,134.7 L612.1,134.9 L613.1,135.0 L614.2,135.2 L615.3,135.3 L616.4,135.5 L617.5,135.6 L618.5,135.8 L619.6,135.9 L620.7,136.1 L621.8,136.2 L622.9,136.4 L623.9,136.5 L625.0,136.7 L626.1,136.8 L627.2,137.0 L628.3,137.1 L629.3,137.3 L630.4,137.4 L631.5,137.6 L632.6,137.7 L633.7,137.9 L634.7,138.0 L635.8,138.1 L636.9,138.3 L638.0,138.4 L639.1,138.6 L640.1,138.7 L641.2,138.8 L642.3,139.0 L643.4,139.1 L644.5,139.2 L645.5,139.4 L646.6,139.5 L647.7,139.6 L648.8,139.8 L649.9,139.9 L651.0,140.0 L652.0,140.2 L653.1,140.3 L654.2,140.4 L655.3,140.5 L656.4,140.7 L657.4,140.8 L658.5,140.9 L659.6,141.1 L660.7,141.2 L661.8,141.3 L662.8,141.4 L663.9,141.6 L665.0,141.7 L666.1,141.8 L667.2,141.9 L668.2,142.0 L669.3,142.2 L670.4,142.3 L671.5,142.4 L672.6,142.5 L673.6,142.6 L674.7,142.8 L675.8,142.9" fill="none" stroke="#A5A5A5" stroke-width="1.3"/>
<path d="M445.9,74.8 L446.9,75.7 L448.0,76.6 L449.0,77.4 L450.1,78.2 L451.1,79.0 L452.2,79.8 L453.2,80.6 L454.3,81.3 L455.3,82.0 L456.4,82.7 L457.4,83.3 L458.5,84.0 L459.5,84.6 L460.6,85.2 L461.6,85.8 L462.7,86.4 L463.7,86.9 L464.8,87.5 L465.8,88.0 L466.9,88.5 L467.9,89.1 L469.0,89.6 L470.0,90.1 L471.1,90.5 L472.1,91.0 L473.2,91.5 L474.2,91.9 L475.3,92.4 L476.3,92.8 L477.4,93.2 L478.4,93.6 L479.5,94.1 L480.5,94.5 L481.6,94.9 L482.6,95.3 L483.7,95.6 L484.7,96.0 L485.8,96.4 L486.8,96.7 L487.9,97.1 L488.9,97.5 L490.0,97.8 L491.0,98.1 L492.1,98.5 L493.1,98.8 L494.2,99.1 L495.2,99.5 L496.3,99.8 L497.3,100.1 L498.4,100.4 L499.4,100.7 L500.5,101.0 L501.5,101.3 L502.6,101.6 L503.6,101.9 L504.7,102.2 L505.7,102.4 L506.8,102.7 L507.8,103.0 L508.9,103.3 L509.9,103.5 L511.0,103.8 L512.0,104.1 L513.1,104.3 L514.1,104.6 L515.2,104.8 L516.2,105.1 L517.3,105.3 L518.3,105.6 L519.4,105.8 L520.4,106.0 L521.5,106.3 L522.5,106.5 L523.6,106.7 L524.6,107.0 L525.7,107.2 L526.7,107.4 L527.8,107.6 L528.8,107.8 L529.9,108.1 L530.9,108.3 L532.0,108.5 L533.0,108.7 L534.1,108.9 L535.1,109.1 L536.2,109.3 L537.2,109.5 L538.3,109.7 L539.3,109.9 L540.4,110.1 L541.4,110.3 L542.5,110.5 L543.5,110.7 L544.6,110.9 L545.6,111.1 L546.7,111.2 L547.7,111.4 L548.8,111.6 L549.8,111.8 L550.9,112.0 L551.9,112.1 L553.0,112.3 L554.0,112.5 L555.1,112.7 L556.1,112.8 L557.2,113.0 L558.2,113.2 L559.3,113.3 L560.3,113.5 L561.4,113.7 L562.4,113.8 L563.5,114.0 L564.5,114.2 L565.6,114.3 L566.6,114.5 L567.7,114.6 L568.7,114.8 L569.8,115.0 L570.8,115.1 L571.9,115.3 L572.9,115.4 L574.0,115.6 L575.0,115.7 L576.1,115.9 L577.1,116.0 L578.2,116.2 L579.2,116.3 L580.3,116.4 L581.3,116.6 L582.4,116.7 L583.4,116.9 L584.5,117.0 L585.5,117.1 L586.6,117.3 L587.6,117.4 L588.7,117.6 L589.7,117.7 L590.8,117.8 L591.8,118.0 L592.9,118.1 L593.9,118.2 L595.0,118.4 L596.0,118.5 L597.1,118.6 L598.1,118.7 L599.2,118.9 L600.2,119.0 L601.3,119.1 L602.3,119.2 L603.4,119.4 L604.4,119.5 L605.5,119.6 L606.5,119.7 L607.6,119.9 L608.6,120.0 L609.7,120.1 L610.7,120.2 L611.8,120.3 L612.8,120.5 L613.9,120.6 L614.9,120.7 L616.0,120.8 L617.0,120.9 L618.1,121.0 L619.1,121.2 L620.2,121.3 L621.2,121.4 L622.3,121.5 L623.3,121.6 L624.4,121.7 L625.4,121.8 L626.5,121.9 L627.5,122.0 L628.6,122.2 L629.6,122.3 L630.7,122.4 L631.7,122.5 L632.8,122.6 L633.8,122.7 L634.9,122.8 L635.9,122.9 L637.0,123.0 L638.0,123.1 L639.1,123.2 L640.1,123.3 L641.2,123.4 L642.2,123.5 L643.3,123.6 L644.3,123.7 L645.4,123.8 L646.4,123.9 L647.5,124.0 L648.5,124.1 L649.6,124.2 L650.6,124.3 L651.7,124.4 L652.7,124.5 L653.8,124.6 L654.8,124.7 L655.9,124.8 L656.9,124.9 L658.0,125.0 L659.0,125.1 L660.1,125.2 L661.1,125.2 L662.2,125.3 L663.2,125.4 L664.3,125.5 L665.3,125.6 L666.4,125.7 L667.4,125.8 L668.5,125.9 L669.5,126.0 L670.6,126.1 L671.6,126.2 L672.7,126.2 L673.7,126.3 L674.8,126.4 L675.8,126.5" fill="none" stroke="#FFC000" stroke-width="1.3"/>
<path d="M431.8,103.6 L432.9,106.5 L434.0,109.0 L435.1,111.3 L436.3,113.4 L437.4,115.4 L438.5,117.1 L439.6,118.8 L440.7,120.3 L441.8,121.7 L442.9,123.1 L444.1,124.3 L445.2,125.5 L446.3,126.6 L447.4,127.7 L448.5,128.7 L449.6,129.7 L450.7,130.6 L451.9,131.5 L453.0,132.4 L454.1,133.2 L455.2,134.0 L456.3,134.8 L457.4,135.5 L458.5,136.2 L459.7,136.9 L460.8,137.6 L461.9,138.2 L463.0,138.8 L464.1,139.4 L465.2,140.0 L466.3,140.6 L467.5,141.2 L468.6,141.7 L469.7,142.2 L470.8,142.7 L471.9,143.2 L473.0,143.7 L474.1,144.2 L475.3,144.7 L476.4,145.1 L477.5,145.6 L478.6,146.0 L479.7,146.4 L480.8,146.8 L481.9,147.2 L483.1,147.6 L484.2,148.0 L485.3,148.4 L486.4,148.8 L487.5,149.2 L488.6,149.5 L489.7,149.9 L490.9,150.2 L492.0,150.6 L493.1,150.9 L494.2,151.2 L495.3,151.6 L496.4,151.9 L497.5,152.2 L498.6,152.5 L499.8,152.8 L500.9,153.1 L502.0,153.4 L503.1,153.7 L504.2,154.0 L505.3,154.3 L506.4,154.5 L507.6,154.8 L508.7,155.1 L509.8,155.4 L510.9,155.6 L512.0,155.9 L513.1,156.1 L514.2,156.4 L515.4,156.6 L516.5,156.9 L517.6,157.1 L518.7,157.4 L519.8,157.6 L520.9,157.8 L522.0,158.1 L523.2,158.3 L524.3,158.5 L525.4,158.7 L526.5,159.0 L527.6,159.2 L528.7,159.4 L529.8,159.6 L531.0,159.8 L532.1,160.0 L533.2,160.2 L534.3,160.4 L535.4,160.6 L536.5,160.8 L537.6,161.0 L538.8,161.2 L539.9,161.4 L541.0,161.6 L542.1,161.8 L543.2,162.0 L544.3,162.1 L545.4,162.3 L546.6,162.5 L547.7,162.7 L548.8,162.9 L549.9,163.0 L551.0,163.2 L552.1,163.4 L553.2,163.6 L554.4,163.7 L555.5,163.9 L556.6,164.1 L557.7,164.2 L558.8,164.4 L559.9,164.5 L561.0,164.7 L562.2,164.9 L563.3,165.0 L564.4,165.2 L565.5,165.3 L566.6,165.5 L567.7,165.6 L568.8,165.8 L570.0,165.9 L571.1,166.1 L572.2,166.2 L573.3,166.4 L574.4,166.5 L575.5,166.7 L576.6,166.8 L577.8,166.9 L578.9,167.1 L580.0,167.2 L581.1,167.4 L582.2,167.5 L583.3,167.6 L584.4,167.8 L585.6,167.9 L586.7,168.0 L587.8,168.2 L588.9,168.3 L590.0,168.4 L591.1,168.6 L592.2,168.7 L593.4,168.8 L594.5,168.9 L595.6,169.1 L596.7,169.2 L597.8,169.3 L598.9,169.4 L600.0,169.6 L601.2,169.7 L602.3,169.8 L603.4,169.9 L604.5,170.0 L605.6,170.1 L606.7,170.3 L607.8,170.4 L609.0,170.5 L610.1,170.6 L611.2,170.7 L612.3,170.8 L613.4,170.9 L614.5,171.1 L615.6,171.2 L616.7,171.3 L617.9,171.4 L619.0,171.5 L620.1,171.6 L621.2,171.7 L622.3,171.8 L623.4,171.9 L624.5,172.0 L625.7,172.1 L626.8,172.2 L627.9,172.3 L629.0,172.4 L630.1,172.6 L631.2,172.7 L632.3,172.8 L633.5,172.9 L634.6,173.0 L635.7,173.1 L636.8,173.2 L637.9,173.3 L639.0,173.3 L640.1,173.4 L641.3,173.5 L642.4,173.6 L643.5,173.7 L644.6,173.8 L645.7,173.9 L646.8,174.0 L647.9,174.1 L649.1,174.2 L650.2,174.3 L651.3,174.4 L652.4,174.5 L653.5,174.6 L654.6,174.7 L655.7,174.7 L656.9,174.8 L658.0,174.9 L659.1,175.0 L660.2,175.1 L661.3,175.2 L662.4,175.3 L663.5,175.4 L664.7,175.5 L665.8,175.5 L666.9,175.6 L668.0,175.7 L669.1,175.8 L670.2,175.9 L671.3,176.0 L672.5,176.0 L673.6,176.1 L674.7,176.2 L675.8,176.3" fill="none" stroke="#1467B8" stroke-width="1.3"/>
<text x="67" y="287.1" font-size="9.8" text-anchor="end">10</text>
<text x="67" y="307.1" font-size="9.8" text-anchor="end">8</text>
<text x="67" y="327.0" font-size="9.8" text-anchor="end">6</text>
<text x="67" y="347.2" font-size="9.8" text-anchor="end">4</text>
<text x="67" y="367.2" font-size="9.8" text-anchor="end">2</text>
<text x="67" y="387.0" font-size="9.8" text-anchor="end">0</text>
<text x="67" y="406.7" font-size="9.8" text-anchor="end">-2</text>
<text x="74.3" y="422.6" font-size="9.2" text-anchor="middle" textLength="4.8" lengthAdjust="spacingAndGlyphs">1</text>
<text x="125.4" y="422.6" font-size="9.2" text-anchor="middle" textLength="4.8" lengthAdjust="spacingAndGlyphs">2</text>
<text x="172.4" y="422.6" font-size="9.2" text-anchor="middle" textLength="4.8" lengthAdjust="spacingAndGlyphs">3</text>
<text x="223.5" y="422.6" font-size="9.2" text-anchor="middle" textLength="4.8" lengthAdjust="spacingAndGlyphs">4</text>
<text x="271" y="422.6" font-size="9.2" text-anchor="middle" textLength="4.8" lengthAdjust="spacingAndGlyphs">5</text>
<text x="321.6" y="422.6" font-size="9.2" text-anchor="middle" textLength="4.8" lengthAdjust="spacingAndGlyphs">6</text>
<text x="174.1" y="435.5" font-size="9.6" text-anchor="start" textLength="51.9" lengthAdjust="spacingAndGlyphs">Time (sec)</text>
<text transform="translate(49 343.4) rotate(-90)" x="0" y="0" font-size="11" text-anchor="middle" textLength="88.8" lengthAdjust="spacingAndGlyphs">Intensity (pW/cm<tspan font-size="6.5" dy="-4">2</tspan><tspan dy="4">)</tspan></text>
<text x="235.3" y="301.8" font-size="8.8" text-anchor="start" textLength="70.4" lengthAdjust="spacingAndGlyphs">Antimycin - A</text>
<g fill="#70AD47"><circle cx="80.7" cy="307.2" r="2.2"/><circle cx="82.9" cy="310.8" r="2.2"/><circle cx="85.7" cy="314.4" r="2.2"/><circle cx="87.6" cy="314.4" r="2.2"/><circle cx="90.4" cy="314.4" r="2.2"/><circle cx="92.4" cy="314.4" r="2.2"/><circle cx="94.8" cy="318.0" r="2.2"/><circle cx="96.9" cy="320.4" r="2.2"/><circle cx="99.0" cy="320.4" r="2.2"/><circle cx="101.4" cy="321.6" r="2.2"/><circle cx="104.2" cy="325.2" r="2.2"/><circle cx="105.9" cy="326.4" r="2.2"/><circle cx="108.8" cy="327.6" r="2.2"/><circle cx="110.9" cy="328.8" r="2.2"/><circle cx="112.9" cy="330.0" r="2.2"/><circle cx="115.4" cy="333.6" r="2.2"/><circle cx="117.5" cy="332.4" r="2.2"/><circle cx="119.8" cy="333.6" r="2.2"/><circle cx="122.2" cy="334.8" r="2.2"/><circle cx="124.1" cy="336.0" r="2.2"/><circle cx="126.8" cy="337.2" r="2.2"/><circle cx="129.5" cy="338.4" r="2.2"/><circle cx="131.2" cy="338.4" r="2.2"/><circle cx="133.9" cy="339.6" r="2.2"/><circle cx="136.0" cy="339.6" r="2.2"/><circle cx="138.1" cy="339.6" r="2.2"/><circle cx="140.9" cy="339.6" r="2.2"/><circle cx="142.5" cy="339.6" r="2.2"/><circle cx="145.0" cy="338.4" r="2.2"/><circle cx="147.9" cy="333.6" r="2.2"/><circle cx="149.6" cy="338.4" r="2.2"/><circle cx="152.4" cy="340.8" r="2.2"/><circle cx="154.5" cy="343.2" r="2.2"/><circle cx="156.9" cy="345.6" r="2.2"/><circle cx="159.1" cy="345.6" r="2.2"/><circle cx="161.2" cy="346.8" r="2.2"/><circle cx="163.8" cy="346.8" r="2.2"/><circle cx="165.5" cy="348.0" r="2.2"/><circle cx="168.2" cy="348.0" r="2.2"/><circle cx="170.4" cy="348.0" r="2.2"/><circle cx="172.8" cy="348.0" r="2.2"/><circle cx="174.8" cy="349.2" r="2.2"/><circle cx="177.2" cy="350.4" r="2.2"/><circle cx="179.7" cy="351.6" r="2.2"/><circle cx="181.9" cy="351.6" r="2.2"/><circle cx="184.5" cy="352.8" r="2.2"/><circle cx="186.7" cy="354.0" r="2.2"/><circle cx="189.2" cy="356.4" r="2.2"/><circle cx="191.4" cy="355.2" r="2.2"/><circle cx="193.6" cy="356.4" r="2.2"/><circle cx="195.6" cy="357.6" r="2.2"/><circle cx="198.3" cy="357.6" r="2.2"/><circle cx="200.2" cy="358.8" r="2.2"/><circle cx="202.4" cy="358.8" r="2.2"/><circle cx="205.4" cy="356.4" r="2.2"/><circle cx="207.3" cy="356.4" r="2.2"/><circle cx="209.8" cy="355.2" r="2.2"/><circle cx="211.9" cy="355.2" r="2.2"/><circle cx="214.3" cy="356.4" r="2.2"/><circle cx="216.1" cy="355.2" r="2.2"/><circle cx="218.5" cy="355.2" r="2.2"/><circle cx="221.2" cy="354.0" r="2.2"/><circle cx="223.5" cy="354.0" r="2.2"/><circle cx="225.4" cy="354.0" r="2.2"/><circle cx="228.4" cy="354.0" r="2.2"/><circle cx="230.0" cy="355.2" r="2.2"/><circle cx="232.6" cy="355.2" r="2.2"/><circle cx="234.6" cy="356.4" r="2.2"/><circle cx="237.4" cy="356.4" r="2.2"/><circle cx="239.3" cy="357.6" r="2.2"/><circle cx="241.5" cy="357.6" r="2.2"/><circle cx="243.7" cy="357.6" r="2.2"/><circle cx="246.1" cy="357.6" r="2.2"/><circle cx="248.5" cy="358.8" r="2.2"/><circle cx="251.0" cy="358.8" r="2.2"/><circle cx="253.3" cy="358.8" r="2.2"/><circle cx="256.0" cy="358.8" r="2.2"/><circle cx="258.3" cy="358.8" r="2.2"/><circle cx="260.4" cy="358.8" r="2.2"/><circle cx="262.6" cy="358.8" r="2.2"/><circle cx="265.1" cy="358.8" r="2.2"/><circle cx="267.5" cy="360.0" r="2.2"/><circle cx="269.0" cy="361.2" r="2.2"/><circle cx="271.4" cy="360.0" r="2.2"/><circle cx="273.9" cy="360.0" r="2.2"/><circle cx="276.0" cy="360.0" r="2.2"/><circle cx="278.7" cy="361.2" r="2.2"/><circle cx="280.7" cy="362.4" r="2.2"/><circle cx="283.0" cy="363.6" r="2.2"/><circle cx="285.3" cy="363.6" r="2.2"/><circle cx="287.5" cy="363.6" r="2.2"/><circle cx="290.3" cy="361.2" r="2.2"/><circle cx="292.5" cy="361.2" r="2.2"/><circle cx="294.8" cy="361.2" r="2.2"/><circle cx="296.6" cy="361.2" r="2.2"/><circle cx="299.2" cy="361.2" r="2.2"/><circle cx="301.7" cy="361.2" r="2.2"/><circle cx="303.6" cy="362.4" r="2.2"/><circle cx="306.1" cy="362.4" r="2.2"/><circle cx="308.1" cy="362.4" r="2.2"/><circle cx="310.5" cy="362.4" r="2.2"/><circle cx="312.9" cy="362.4" r="2.2"/><circle cx="315.3" cy="361.2" r="2.2"/><circle cx="317.7" cy="362.4" r="2.2"/><circle cx="320.3" cy="362.4" r="2.2"/><circle cx="322.2" cy="362.4" r="2.2"/></g>
<g fill="#FFFF00"><circle cx="80.0" cy="304.8" r="2.2"/><circle cx="82.2" cy="306.0" r="2.2"/><circle cx="84.8" cy="303.6" r="2.2"/><circle cx="87.4" cy="307.2" r="2.2"/><circle cx="89.0" cy="308.4" r="2.2"/><circle cx="91.6" cy="309.6" r="2.2"/><circle cx="94.0" cy="309.6" r="2.2"/><circle cx="96.2" cy="310.8" r="2.2"/><circle cx="98.8" cy="314.4" r="2.2"/><circle cx="101.0" cy="318.0" r="2.2"/><circle cx="103.4" cy="320.4" r="2.2"/><circle cx="105.1" cy="321.6" r="2.2"/><circle cx="107.5" cy="324.0" r="2.2"/><circle cx="109.7" cy="324.0" r="2.2"/><circle cx="112.6" cy="325.2" r="2.2"/><circle cx="115.0" cy="324.0" r="2.2"/><circle cx="116.5" cy="324.0" r="2.2"/><circle cx="119.4" cy="326.4" r="2.2"/><circle cx="121.7" cy="324.0" r="2.2"/><circle cx="124.1" cy="324.0" r="2.2"/><circle cx="125.9" cy="326.4" r="2.2"/><circle cx="128.6" cy="326.4" r="2.2"/><circle cx="130.5" cy="326.4" r="2.2"/><circle cx="132.7" cy="326.4" r="2.2"/><circle cx="135.5" cy="327.6" r="2.2"/><circle cx="137.2" cy="328.8" r="2.2"/><circle cx="140.1" cy="330.0" r="2.2"/><circle cx="142.0" cy="330.0" r="2.2"/><circle cx="144.5" cy="330.0" r="2.2"/><circle cx="147.1" cy="330.0" r="2.2"/><circle cx="148.9" cy="332.4" r="2.2"/><circle cx="151.4" cy="333.6" r="2.2"/><circle cx="153.6" cy="333.6" r="2.2"/><circle cx="155.8" cy="332.4" r="2.2"/><circle cx="158.3" cy="334.8" r="2.2"/><circle cx="160.3" cy="334.8" r="2.2"/><circle cx="163.1" cy="334.8" r="2.2"/><circle cx="165.3" cy="333.6" r="2.2"/><circle cx="167.3" cy="336.0" r="2.2"/><circle cx="170.2" cy="338.4" r="2.2"/><circle cx="172.0" cy="337.2" r="2.2"/><circle cx="174.5" cy="337.2" r="2.2"/><circle cx="176.9" cy="342.0" r="2.2"/><circle cx="178.8" cy="339.6" r="2.2"/><circle cx="180.9" cy="340.8" r="2.2"/><circle cx="183.9" cy="340.8" r="2.2"/><circle cx="186.3" cy="337.2" r="2.2"/><circle cx="187.9" cy="340.8" r="2.2"/><circle cx="190.2" cy="340.8" r="2.2"/><circle cx="192.7" cy="342.0" r="2.2"/><circle cx="195.2" cy="345.6" r="2.2"/><circle cx="197.8" cy="343.2" r="2.2"/><circle cx="200.1" cy="344.4" r="2.2"/><circle cx="202.4" cy="344.4" r="2.2"/><circle cx="204.1" cy="345.6" r="2.2"/><circle cx="206.7" cy="345.6" r="2.2"/><circle cx="208.8" cy="345.6" r="2.2"/><circle cx="211.0" cy="345.6" r="2.2"/><circle cx="213.2" cy="348.0" r="2.2"/><circle cx="215.5" cy="344.4" r="2.2"/><circle cx="218.0" cy="346.8" r="2.2"/><circle cx="220.1" cy="343.2" r="2.2"/><circle cx="222.4" cy="343.2" r="2.2"/><circle cx="224.6" cy="343.2" r="2.2"/><circle cx="227.4" cy="342.0" r="2.2"/><circle cx="229.6" cy="343.2" r="2.2"/><circle cx="231.7" cy="343.2" r="2.2"/><circle cx="234.2" cy="344.4" r="2.2"/><circle cx="236.4" cy="344.4" r="2.2"/><circle cx="238.9" cy="346.8" r="2.2"/><circle cx="241.4" cy="350.4" r="2.2"/><circle cx="243.3" cy="348.0" r="2.2"/><circle cx="245.8" cy="348.0" r="2.2"/><circle cx="247.8" cy="348.0" r="2.2"/><circle cx="250.7" cy="349.2" r="2.2"/><circle cx="252.7" cy="350.4" r="2.2"/><circle cx="254.6" cy="349.2" r="2.2"/><circle cx="257.0" cy="350.4" r="2.2"/><circle cx="259.2" cy="350.4" r="2.2"/><circle cx="261.5" cy="351.6" r="2.2"/><circle cx="263.9" cy="352.8" r="2.2"/><circle cx="266.7" cy="352.8" r="2.2"/><circle cx="268.7" cy="354.0" r="2.2"/><circle cx="270.8" cy="354.0" r="2.2"/><circle cx="273.2" cy="354.0" r="2.2"/><circle cx="275.4" cy="355.2" r="2.2"/><circle cx="278.1" cy="357.6" r="2.2"/><circle cx="279.8" cy="355.2" r="2.2"/><circle cx="282.3" cy="354.0" r="2.2"/><circle cx="284.7" cy="354.0" r="2.2"/><circle cx="286.8" cy="354.0" r="2.2"/><circle cx="289.6" cy="355.2" r="2.2"/><circle cx="291.4" cy="356.4" r="2.2"/><circle cx="293.8" cy="357.6" r="2.2"/><circle cx="295.9" cy="361.2" r="2.2"/><circle cx="298.8" cy="358.8" r="2.2"/><circle cx="300.8" cy="360.0" r="2.2"/><circle cx="303.3" cy="357.6" r="2.2"/><circle cx="305.3" cy="357.6" r="2.2"/><circle cx="307.4" cy="357.6" r="2.2"/><circle cx="310.0" cy="358.8" r="2.2"/><circle cx="312.6" cy="358.8" r="2.2"/><circle cx="315.0" cy="357.6" r="2.2"/><circle cx="316.9" cy="357.6" r="2.2"/><circle cx="319.6" cy="357.6" r="2.2"/><circle cx="321.2" cy="357.6" r="2.2"/></g>
<g fill="#ED7D31"><circle cx="80.4" cy="330.0" r="2.2"/><circle cx="83.0" cy="334.8" r="2.2"/><circle cx="85.6" cy="339.6" r="2.2"/><circle cx="87.2" cy="342.0" r="2.2"/><circle cx="90.0" cy="342.0" r="2.2"/><circle cx="91.9" cy="345.6" r="2.2"/><circle cx="94.7" cy="345.6" r="2.2"/><circle cx="97.2" cy="344.4" r="2.2"/><circle cx="99.1" cy="343.2" r="2.2"/><circle cx="101.0" cy="343.2" r="2.2"/><circle cx="103.4" cy="344.4" r="2.2"/><circle cx="105.9" cy="345.6" r="2.2"/><circle cx="108.6" cy="346.8" r="2.2"/><circle cx="110.4" cy="346.8" r="2.2"/><circle cx="113.0" cy="346.8" r="2.2"/><circle cx="115.1" cy="346.8" r="2.2"/><circle cx="117.3" cy="346.8" r="2.2"/><circle cx="120.0" cy="348.0" r="2.2"/><circle cx="121.9" cy="349.2" r="2.2"/><circle cx="124.3" cy="350.4" r="2.2"/><circle cx="126.9" cy="350.4" r="2.2"/><circle cx="129.0" cy="350.4" r="2.2"/><circle cx="131.5" cy="350.4" r="2.2"/><circle cx="133.6" cy="352.8" r="2.2"/><circle cx="135.6" cy="355.2" r="2.2"/><circle cx="138.2" cy="356.4" r="2.2"/><circle cx="140.8" cy="357.6" r="2.2"/><circle cx="142.9" cy="360.0" r="2.2"/><circle cx="145.5" cy="357.6" r="2.2"/><circle cx="147.0" cy="357.6" r="2.2"/><circle cx="149.6" cy="356.4" r="2.2"/><circle cx="152.2" cy="356.4" r="2.2"/><circle cx="154.4" cy="355.2" r="2.2"/><circle cx="156.6" cy="356.4" r="2.2"/><circle cx="159.0" cy="357.6" r="2.2"/><circle cx="161.5" cy="358.8" r="2.2"/><circle cx="163.6" cy="360.0" r="2.2"/><circle cx="165.8" cy="360.0" r="2.2"/><circle cx="168.1" cy="361.2" r="2.2"/><circle cx="170.5" cy="362.4" r="2.2"/><circle cx="172.6" cy="362.4" r="2.2"/><circle cx="175.1" cy="363.6" r="2.2"/><circle cx="177.4" cy="368.4" r="2.2"/><circle cx="179.8" cy="366.0" r="2.2"/><circle cx="181.9" cy="366.0" r="2.2"/><circle cx="183.8" cy="366.0" r="2.2"/><circle cx="186.5" cy="366.0" r="2.2"/><circle cx="189.1" cy="367.2" r="2.2"/><circle cx="191.2" cy="367.2" r="2.2"/><circle cx="193.5" cy="366.0" r="2.2"/><circle cx="195.6" cy="366.0" r="2.2"/><circle cx="197.9" cy="364.8" r="2.2"/><circle cx="200.5" cy="364.8" r="2.2"/><circle cx="202.3" cy="362.4" r="2.2"/><circle cx="205.2" cy="360.0" r="2.2"/><circle cx="207.5" cy="357.6" r="2.2"/><circle cx="209.9" cy="360.0" r="2.2"/><circle cx="211.5" cy="358.8" r="2.2"/><circle cx="213.8" cy="366.0" r="2.2"/><circle cx="216.7" cy="367.2" r="2.2"/><circle cx="218.6" cy="368.4" r="2.2"/><circle cx="220.8" cy="369.6" r="2.2"/><circle cx="223.2" cy="369.6" r="2.2"/><circle cx="225.7" cy="370.8" r="2.2"/><circle cx="227.6" cy="369.6" r="2.2"/><circle cx="230.2" cy="367.2" r="2.2"/><circle cx="232.6" cy="367.2" r="2.2"/><circle cx="235.0" cy="368.4" r="2.2"/><circle cx="236.7" cy="366.0" r="2.2"/><circle cx="239.6" cy="364.8" r="2.2"/><circle cx="241.6" cy="364.8" r="2.2"/><circle cx="243.9" cy="366.0" r="2.2"/><circle cx="246.3" cy="364.8" r="2.2"/><circle cx="248.4" cy="366.0" r="2.2"/><circle cx="251.2" cy="367.2" r="2.2"/><circle cx="253.0" cy="369.6" r="2.2"/><circle cx="255.5" cy="370.8" r="2.2"/><circle cx="257.5" cy="373.2" r="2.2"/><circle cx="260.2" cy="372.0" r="2.2"/><circle cx="262.7" cy="372.0" r="2.2"/><circle cx="265.0" cy="370.8" r="2.2"/><circle cx="266.7" cy="369.6" r="2.2"/><circle cx="269.4" cy="370.8" r="2.2"/><circle cx="271.9" cy="370.8" r="2.2"/><circle cx="273.7" cy="372.0" r="2.2"/><circle cx="276.1" cy="373.2" r="2.2"/><circle cx="278.7" cy="375.6" r="2.2"/><circle cx="281.0" cy="376.8" r="2.2"/><circle cx="283.1" cy="375.6" r="2.2"/><circle cx="285.5" cy="375.6" r="2.2"/><circle cx="287.8" cy="376.8" r="2.2"/><circle cx="289.9" cy="374.4" r="2.2"/><circle cx="292.4" cy="374.4" r="2.2"/><circle cx="294.7" cy="372.0" r="2.2"/><circle cx="297.1" cy="373.2" r="2.2"/><circle cx="299.2" cy="374.4" r="2.2"/><circle cx="301.4" cy="375.6" r="2.2"/><circle cx="303.7" cy="378.0" r="2.2"/><circle cx="306.4" cy="378.0" r="2.2"/><circle cx="308.2" cy="376.8" r="2.2"/><circle cx="310.4" cy="375.6" r="2.2"/><circle cx="312.6" cy="374.4" r="2.2"/><circle cx="315.6" cy="374.4" r="2.2"/><circle cx="318.0" cy="373.2" r="2.2"/><circle cx="319.7" cy="372.0" r="2.2"/><circle cx="322.0" cy="372.0" r="2.2"/></g>
<g fill="#A5A5A5"><circle cx="85.5" cy="288.0" r="2.2"/><circle cx="88.1" cy="288.0" r="2.2"/><circle cx="89.9" cy="288.0" r="2.2"/><circle cx="92.8" cy="290.4" r="2.2"/><circle cx="95.0" cy="296.4" r="2.2"/><circle cx="97.0" cy="297.6" r="2.2"/><circle cx="99.5" cy="300.0" r="2.2"/><circle cx="101.9" cy="296.4" r="2.2"/><circle cx="104.1" cy="296.4" r="2.2"/><circle cx="106.6" cy="294.0" r="2.2"/><circle cx="108.5" cy="296.4" r="2.2"/><circle cx="110.8" cy="298.8" r="2.2"/><circle cx="113.1" cy="298.8" r="2.2"/><circle cx="115.3" cy="300.0" r="2.2"/><circle cx="117.8" cy="306.0" r="2.2"/><circle cx="120.3" cy="309.6" r="2.2"/><circle cx="122.7" cy="309.6" r="2.2"/><circle cx="124.8" cy="309.6" r="2.2"/><circle cx="127.2" cy="309.6" r="2.2"/><circle cx="129.7" cy="309.6" r="2.2"/><circle cx="131.7" cy="309.6" r="2.2"/><circle cx="133.6" cy="312.0" r="2.2"/><circle cx="136.3" cy="313.2" r="2.2"/><circle cx="138.1" cy="314.4" r="2.2"/><circle cx="140.9" cy="315.6" r="2.2"/><circle cx="143.5" cy="318.0" r="2.2"/><circle cx="145.4" cy="319.2" r="2.2"/><circle cx="148.0" cy="320.4" r="2.2"/><circle cx="149.6" cy="320.4" r="2.2"/><circle cx="152.7" cy="320.4" r="2.2"/><circle cx="154.3" cy="321.6" r="2.2"/><circle cx="157.2" cy="322.8" r="2.2"/><circle cx="159.0" cy="324.0" r="2.2"/><circle cx="161.4" cy="326.4" r="2.2"/><circle cx="163.5" cy="328.8" r="2.2"/><circle cx="165.7" cy="330.0" r="2.2"/><circle cx="168.6" cy="328.8" r="2.2"/><circle cx="170.9" cy="327.6" r="2.2"/><circle cx="172.7" cy="327.6" r="2.2"/><circle cx="175.4" cy="326.4" r="2.2"/><circle cx="177.4" cy="325.2" r="2.2"/><circle cx="180.2" cy="325.2" r="2.2"/><circle cx="181.9" cy="325.2" r="2.2"/><circle cx="184.6" cy="326.4" r="2.2"/><circle cx="187.1" cy="330.0" r="2.2"/><circle cx="189.1" cy="331.2" r="2.2"/><circle cx="191.5" cy="332.4" r="2.2"/><circle cx="193.9" cy="330.0" r="2.2"/><circle cx="196.2" cy="331.2" r="2.2"/><circle cx="198.6" cy="331.2" r="2.2"/><circle cx="200.4" cy="331.2" r="2.2"/><circle cx="203.2" cy="332.4" r="2.2"/><circle cx="205.2" cy="332.4" r="2.2"/><circle cx="207.8" cy="334.8" r="2.2"/><circle cx="210.0" cy="336.0" r="2.2"/><circle cx="212.3" cy="336.0" r="2.2"/><circle cx="214.8" cy="336.0" r="2.2"/><circle cx="216.4" cy="334.8" r="2.2"/><circle cx="219.3" cy="333.6" r="2.2"/><circle cx="221.1" cy="332.4" r="2.2"/><circle cx="223.9" cy="331.2" r="2.2"/><circle cx="225.7" cy="327.6" r="2.2"/><circle cx="228.2" cy="330.0" r="2.2"/><circle cx="230.2" cy="332.4" r="2.2"/><circle cx="233.0" cy="333.6" r="2.2"/><circle cx="234.9" cy="336.0" r="2.2"/><circle cx="237.4" cy="336.0" r="2.2"/><circle cx="239.9" cy="337.2" r="2.2"/><circle cx="241.9" cy="338.4" r="2.2"/><circle cx="244.6" cy="338.4" r="2.2"/><circle cx="246.6" cy="338.4" r="2.2"/><circle cx="249.3" cy="332.4" r="2.2"/><circle cx="251.4" cy="337.2" r="2.2"/><circle cx="253.9" cy="338.4" r="2.2"/><circle cx="256.0" cy="339.6" r="2.2"/><circle cx="258.0" cy="340.8" r="2.2"/><circle cx="260.4" cy="344.4" r="2.2"/><circle cx="263.1" cy="344.4" r="2.2"/><circle cx="265.3" cy="342.0" r="2.2"/><circle cx="267.1" cy="340.8" r="2.2"/><circle cx="269.4" cy="340.8" r="2.2"/><circle cx="271.7" cy="339.6" r="2.2"/><circle cx="274.3" cy="342.0" r="2.2"/><circle cx="276.3" cy="342.0" r="2.2"/><circle cx="279.0" cy="342.0" r="2.2"/><circle cx="281.0" cy="342.0" r="2.2"/><circle cx="283.7" cy="343.2" r="2.2"/><circle cx="285.5" cy="344.4" r="2.2"/><circle cx="288.3" cy="344.4" r="2.2"/><circle cx="290.2" cy="345.6" r="2.2"/><circle cx="292.2" cy="343.2" r="2.2"/><circle cx="294.6" cy="344.4" r="2.2"/><circle cx="297.5" cy="344.4" r="2.2"/><circle cx="299.2" cy="344.4" r="2.2"/><circle cx="301.6" cy="343.2" r="2.2"/><circle cx="304.5" cy="344.4" r="2.2"/><circle cx="306.3" cy="344.4" r="2.2"/><circle cx="308.8" cy="343.2" r="2.2"/><circle cx="311.0" cy="343.2" r="2.2"/><circle cx="313.3" cy="343.2" r="2.2"/><circle cx="315.9" cy="344.4" r="2.2"/><circle cx="317.5" cy="345.6" r="2.2"/><circle cx="320.1" cy="345.6" r="2.2"/><circle cx="322.5" cy="345.6" r="2.2"/><circle cx="324.9" cy="344.4" r="2.2"/></g>
<g fill="#FFC000"><circle cx="83.8" cy="300.0" r="2.2"/><circle cx="86.1" cy="300.0" r="2.2"/><circle cx="88.8" cy="300.0" r="2.2"/><circle cx="91.1" cy="301.2" r="2.2"/><circle cx="93.7" cy="302.4" r="2.2"/><circle cx="95.3" cy="302.4" r="2.2"/><circle cx="98.0" cy="303.6" r="2.2"/><circle cx="100.3" cy="306.0" r="2.2"/><circle cx="102.7" cy="303.6" r="2.2"/><circle cx="105.1" cy="306.0" r="2.2"/><circle cx="107.2" cy="310.8" r="2.2"/><circle cx="109.6" cy="312.0" r="2.2"/><circle cx="111.8" cy="313.2" r="2.2"/><circle cx="114.2" cy="313.2" r="2.2"/><circle cx="116.2" cy="313.2" r="2.2"/><circle cx="118.7" cy="313.2" r="2.2"/><circle cx="121.1" cy="313.2" r="2.2"/><circle cx="123.1" cy="313.2" r="2.2"/><circle cx="126.0" cy="314.4" r="2.2"/><circle cx="128.1" cy="316.8" r="2.2"/><circle cx="130.6" cy="319.2" r="2.2"/><circle cx="132.3" cy="319.2" r="2.2"/><circle cx="134.8" cy="320.4" r="2.2"/><circle cx="136.9" cy="321.6" r="2.2"/><circle cx="139.0" cy="322.8" r="2.2"/><circle cx="141.3" cy="321.6" r="2.2"/><circle cx="143.8" cy="324.0" r="2.2"/><circle cx="146.6" cy="325.2" r="2.2"/><circle cx="148.3" cy="325.2" r="2.2"/><circle cx="151.1" cy="326.4" r="2.2"/><circle cx="153.0" cy="330.0" r="2.2"/><circle cx="155.2" cy="330.0" r="2.2"/><circle cx="157.6" cy="331.2" r="2.2"/><circle cx="160.2" cy="331.2" r="2.2"/><circle cx="162.4" cy="331.2" r="2.2"/><circle cx="164.7" cy="331.2" r="2.2"/><circle cx="167.0" cy="331.2" r="2.2"/><circle cx="169.1" cy="331.2" r="2.2"/><circle cx="171.6" cy="332.4" r="2.2"/><circle cx="174.2" cy="332.4" r="2.2"/><circle cx="176.0" cy="332.4" r="2.2"/><circle cx="178.7" cy="332.4" r="2.2"/><circle cx="180.6" cy="332.4" r="2.2"/><circle cx="182.9" cy="332.4" r="2.2"/><circle cx="185.3" cy="333.6" r="2.2"/><circle cx="187.4" cy="333.6" r="2.2"/><circle cx="190.3" cy="334.8" r="2.2"/><circle cx="192.2" cy="338.4" r="2.2"/><circle cx="194.3" cy="336.0" r="2.2"/><circle cx="196.5" cy="336.0" r="2.2"/><circle cx="198.8" cy="337.2" r="2.2"/><circle cx="201.3" cy="337.2" r="2.2"/><circle cx="203.7" cy="338.4" r="2.2"/><circle cx="206.2" cy="338.4" r="2.2"/><circle cx="208.8" cy="339.6" r="2.2"/><circle cx="211.0" cy="340.8" r="2.2"/><circle cx="212.8" cy="340.8" r="2.2"/><circle cx="215.4" cy="340.8" r="2.2"/><circle cx="217.9" cy="342.0" r="2.2"/><circle cx="219.6" cy="342.0" r="2.2"/><circle cx="222.5" cy="343.2" r="2.2"/><circle cx="224.4" cy="343.2" r="2.2"/><circle cx="227.0" cy="345.6" r="2.2"/><circle cx="229.0" cy="345.6" r="2.2"/><circle cx="231.5" cy="345.6" r="2.2"/><circle cx="233.7" cy="342.0" r="2.2"/><circle cx="235.7" cy="342.0" r="2.2"/><circle cx="238.5" cy="342.0" r="2.2"/><circle cx="240.9" cy="343.2" r="2.2"/><circle cx="242.9" cy="343.2" r="2.2"/><circle cx="245.1" cy="346.8" r="2.2"/><circle cx="247.9" cy="342.0" r="2.2"/><circle cx="249.7" cy="345.6" r="2.2"/><circle cx="252.4" cy="346.8" r="2.2"/><circle cx="254.3" cy="348.0" r="2.2"/><circle cx="256.6" cy="349.2" r="2.2"/><circle cx="258.9" cy="350.4" r="2.2"/><circle cx="260.9" cy="351.6" r="2.2"/><circle cx="263.4" cy="351.6" r="2.2"/><circle cx="265.7" cy="351.6" r="2.2"/><circle cx="267.8" cy="352.8" r="2.2"/><circle cx="270.5" cy="352.8" r="2.2"/><circle cx="272.8" cy="352.8" r="2.2"/><circle cx="274.7" cy="352.8" r="2.2"/><circle cx="277.1" cy="354.0" r="2.2"/><circle cx="280.0" cy="354.0" r="2.2"/><circle cx="281.7" cy="354.0" r="2.2"/><circle cx="284.2" cy="352.8" r="2.2"/><circle cx="287.0" cy="350.4" r="2.2"/><circle cx="288.6" cy="351.6" r="2.2"/><circle cx="291.1" cy="355.2" r="2.2"/><circle cx="293.7" cy="355.2" r="2.2"/><circle cx="295.4" cy="355.2" r="2.2"/><circle cx="297.8" cy="357.6" r="2.2"/><circle cx="300.7" cy="355.2" r="2.2"/><circle cx="302.8" cy="355.2" r="2.2"/><circle cx="304.8" cy="356.4" r="2.2"/><circle cx="307.3" cy="356.4" r="2.2"/><circle cx="309.4" cy="356.4" r="2.2"/><circle cx="312.2" cy="355.2" r="2.2"/><circle cx="314.6" cy="354.0" r="2.2"/><circle cx="316.2" cy="355.2" r="2.2"/><circle cx="318.8" cy="354.0" r="2.2"/><circle cx="320.8" cy="352.8" r="2.2"/></g>
<g fill="#1467B8"><circle cx="81.1" cy="319.2" r="2.2"/><circle cx="83.2" cy="322.8" r="2.2"/><circle cx="85.5" cy="325.2" r="2.2"/><circle cx="87.8" cy="324.0" r="2.2"/><circle cx="89.8" cy="327.6" r="2.2"/><circle cx="92.3" cy="328.8" r="2.2"/><circle cx="95.0" cy="330.0" r="2.2"/><circle cx="97.2" cy="334.8" r="2.2"/><circle cx="99.4" cy="337.2" r="2.2"/><circle cx="101.5" cy="339.6" r="2.2"/><circle cx="104.1" cy="342.0" r="2.2"/><circle cx="106.2" cy="344.4" r="2.2"/><circle cx="108.3" cy="344.4" r="2.2"/><circle cx="110.7" cy="346.8" r="2.2"/><circle cx="112.8" cy="352.8" r="2.2"/><circle cx="115.4" cy="356.4" r="2.2"/><circle cx="117.5" cy="360.0" r="2.2"/><circle cx="120.1" cy="360.0" r="2.2"/><circle cx="122.5" cy="358.8" r="2.2"/><circle cx="124.9" cy="358.8" r="2.2"/><circle cx="127.1" cy="357.6" r="2.2"/><circle cx="128.7" cy="361.2" r="2.2"/><circle cx="131.6" cy="363.6" r="2.2"/><circle cx="133.9" cy="366.0" r="2.2"/><circle cx="136.3" cy="366.0" r="2.2"/><circle cx="138.3" cy="366.0" r="2.2"/><circle cx="140.6" cy="364.8" r="2.2"/><circle cx="142.9" cy="366.0" r="2.2"/><circle cx="144.9" cy="369.6" r="2.2"/><circle cx="147.9" cy="367.2" r="2.2"/><circle cx="150.2" cy="368.4" r="2.2"/><circle cx="151.9" cy="370.8" r="2.2"/><circle cx="154.8" cy="368.4" r="2.2"/><circle cx="156.5" cy="372.0" r="2.2"/><circle cx="158.7" cy="372.0" r="2.2"/><circle cx="161.5" cy="373.2" r="2.2"/><circle cx="163.9" cy="373.2" r="2.2"/><circle cx="165.7" cy="373.2" r="2.2"/><circle cx="168.6" cy="375.6" r="2.2"/><circle cx="170.4" cy="376.8" r="2.2"/><circle cx="172.5" cy="379.2" r="2.2"/></g>
<g fill="#1467B8"><circle cx="177.6" cy="376.8" r="2.2"/><circle cx="180.6" cy="375.6" r="2.2"/><circle cx="182.8" cy="375.6" r="2.2"/><circle cx="184.9" cy="378.0" r="2.2"/></g>
<g fill="#1467B8"><circle cx="187.3" cy="380.4" r="2.2"/><circle cx="189.6" cy="381.6" r="2.2"/><circle cx="192.0" cy="381.6" r="2.2"/><circle cx="194.0" cy="381.6" r="2.2"/><circle cx="196.8" cy="381.6" r="2.2"/><circle cx="198.8" cy="382.8" r="2.2"/><circle cx="201.0" cy="382.8" r="2.2"/><circle cx="203.8" cy="390.0" r="2.2"/><circle cx="205.9" cy="388.8" r="2.2"/><circle cx="208.2" cy="388.8" r="2.2"/><circle cx="210.4" cy="388.8" r="2.2"/><circle cx="212.5" cy="393.6" r="2.2"/><circle cx="214.7" cy="394.8" r="2.2"/><circle cx="217.0" cy="394.8" r="2.2"/><circle cx="219.5" cy="394.8" r="2.2"/><circle cx="221.6" cy="394.8" r="2.2"/><circle cx="224.2" cy="393.6" r="2.2"/><circle cx="226.9" cy="393.6" r="2.2"/><circle cx="229.0" cy="392.4" r="2.2"/><circle cx="230.9" cy="393.6" r="2.2"/><circle cx="233.2" cy="393.6" r="2.2"/><circle cx="235.9" cy="391.2" r="2.2"/><circle cx="238.4" cy="391.2" r="2.2"/><circle cx="240.4" cy="388.8" r="2.2"/><circle cx="242.4" cy="388.8" r="2.2"/><circle cx="244.9" cy="388.8" r="2.2"/><circle cx="246.9" cy="390.0" r="2.2"/><circle cx="249.4" cy="392.4" r="2.2"/><circle cx="252.1" cy="396.0" r="2.2"/><circle cx="253.9" cy="398.4" r="2.2"/><circle cx="256.4" cy="399.6" r="2.2"/><circle cx="258.8" cy="400.8" r="2.2"/><circle cx="261.4" cy="398.4" r="2.2"/><circle cx="263.4" cy="398.4" r="2.2"/><circle cx="265.6" cy="399.6" r="2.2"/><circle cx="268.0" cy="400.8" r="2.2"/><circle cx="270.0" cy="400.8" r="2.2"/><circle cx="272.2" cy="400.8" r="2.2"/><circle cx="275.1" cy="402.0" r="2.2"/><circle cx="277.1" cy="403.2" r="2.2"/><circle cx="279.7" cy="403.2" r="2.2"/></g>
<g fill="#1467B8"><circle cx="300.8" cy="400.8" r="2.2"/><circle cx="302.7" cy="400.8" r="2.2"/><circle cx="305.4" cy="402.0" r="2.2"/><circle cx="307.9" cy="403.2" r="2.2"/><circle cx="310.2" cy="399.6" r="2.2"/><circle cx="312.4" cy="399.6" r="2.2"/><circle cx="314.7" cy="399.6" r="2.2"/><circle cx="316.9" cy="402.0" r="2.2"/><circle cx="319.0" cy="402.0" r="2.2"/><circle cx="321.6" cy="403.2" r="2.2"/><circle cx="323.3" cy="403.2" r="2.2"/></g>
<path d="M80.8,300.4 L81.9,303.1 L83.0,305.5 L84.1,307.6 L85.3,309.5 L86.4,311.3 L87.5,312.9 L88.6,314.4 L89.7,315.7 L90.8,317.0 L91.9,318.2 L93.1,319.4 L94.2,320.4 L95.3,321.4 L96.4,322.4 L97.5,323.3 L98.6,324.2 L99.7,325.0 L100.9,325.8 L102.0,326.6 L103.1,327.3 L104.2,328.0 L105.3,328.7 L106.4,329.3 L107.5,329.9 L108.7,330.5 L109.8,331.1 L110.9,331.7 L112.0,332.2 L113.1,332.8 L114.2,333.3 L115.3,333.8 L116.5,334.3 L117.6,334.8 L118.7,335.2 L119.8,335.7 L120.9,336.1 L122.0,336.5 L123.1,337.0 L124.3,337.4 L125.4,337.8 L126.5,338.2 L127.6,338.5 L128.7,338.9 L129.8,339.3 L130.9,339.6 L132.1,340.0 L133.2,340.3 L134.3,340.7 L135.4,341.0 L136.5,341.3 L137.6,341.6 L138.7,341.9 L139.9,342.3 L141.0,342.6 L142.1,342.8 L143.2,343.1 L144.3,343.4 L145.4,343.7 L146.5,344.0 L147.6,344.2 L148.8,344.5 L149.9,344.8 L151.0,345.0 L152.1,345.3 L153.2,345.5 L154.3,345.8 L155.4,346.0 L156.6,346.3 L157.7,346.5 L158.8,346.7 L159.9,347.0 L161.0,347.2 L162.1,347.4 L163.2,347.6 L164.4,347.8 L165.5,348.1 L166.6,348.3 L167.7,348.5 L168.8,348.7 L169.9,348.9 L171.0,349.1 L172.2,349.3 L173.3,349.5 L174.4,349.7 L175.5,349.9 L176.6,350.1 L177.7,350.2 L178.8,350.4 L180.0,350.6 L181.1,350.8 L182.2,351.0 L183.3,351.2 L184.4,351.3 L185.5,351.5 L186.6,351.7 L187.8,351.8 L188.9,352.0 L190.0,352.2 L191.1,352.3 L192.2,352.5 L193.3,352.7 L194.4,352.8 L195.6,353.0 L196.7,353.1 L197.8,353.3 L198.9,353.4 L200.0,353.6 L201.1,353.7 L202.2,353.9 L203.4,354.0 L204.5,354.2 L205.6,354.3 L206.7,354.5 L207.8,354.6 L208.9,354.7 L210.0,354.9 L211.2,355.0 L212.3,355.2 L213.4,355.3 L214.5,355.4 L215.6,355.6 L216.7,355.7 L217.8,355.8 L219.0,356.0 L220.1,356.1 L221.2,356.2 L222.3,356.3 L223.4,356.5 L224.5,356.6 L225.6,356.7 L226.8,356.8 L227.9,357.0 L229.0,357.1 L230.1,357.2 L231.2,357.3 L232.3,357.4 L233.4,357.6 L234.6,357.7 L235.7,357.8 L236.8,357.9 L237.9,358.0 L239.0,358.1 L240.1,358.2 L241.2,358.3 L242.4,358.5 L243.5,358.6 L244.6,358.7 L245.7,358.8 L246.8,358.9 L247.9,359.0 L249.0,359.1 L250.2,359.2 L251.3,359.3 L252.4,359.4 L253.5,359.5 L254.6,359.6 L255.7,359.7 L256.8,359.8 L258.0,359.9 L259.1,360.0 L260.2,360.1 L261.3,360.2 L262.4,360.3 L263.5,360.4 L264.6,360.5 L265.7,360.6 L266.9,360.7 L268.0,360.8 L269.1,360.9 L270.2,361.0 L271.3,361.1 L272.4,361.2 L273.5,361.3 L274.7,361.3 L275.8,361.4 L276.9,361.5 L278.0,361.6 L279.1,361.7 L280.2,361.8 L281.3,361.9 L282.5,362.0 L283.6,362.1 L284.7,362.1 L285.8,362.2 L286.9,362.3 L288.0,362.4 L289.1,362.5 L290.3,362.6 L291.4,362.7 L292.5,362.7 L293.6,362.8 L294.7,362.9 L295.8,363.0 L296.9,363.1 L298.1,363.1 L299.2,363.2 L300.3,363.3 L301.4,363.4 L302.5,363.5 L303.6,363.5 L304.7,363.6 L305.9,363.7 L307.0,363.8 L308.1,363.9 L309.2,363.9 L310.3,364.0 L311.4,364.1 L312.5,364.2 L313.7,364.2 L314.8,364.3 L315.9,364.4 L317.0,364.5 L318.1,364.5 L319.2,364.6 L320.3,364.7 L321.5,364.7 L322.6,364.8 L323.7,364.9 L324.8,365.0" fill="none" stroke="#70AD47" stroke-width="1.3"/>
<path d="M82.0,302.3 L83.1,303.2 L84.2,304.0 L85.3,304.9 L86.4,305.7 L87.5,306.5 L88.7,307.3 L89.8,308.1 L90.9,308.8 L92.0,309.5 L93.1,310.2 L94.2,310.9 L95.3,311.6 L96.4,312.2 L97.5,312.9 L98.6,313.5 L99.7,314.1 L100.8,314.7 L102.0,315.3 L103.1,315.9 L104.2,316.5 L105.3,317.0 L106.4,317.6 L107.5,318.1 L108.6,318.6 L109.7,319.1 L110.8,319.6 L111.9,320.1 L113.0,320.6 L114.2,321.1 L115.3,321.6 L116.4,322.0 L117.5,322.5 L118.6,322.9 L119.7,323.4 L120.8,323.8 L121.9,324.2 L123.0,324.7 L124.1,325.1 L125.2,325.5 L126.3,325.9 L127.5,326.3 L128.6,326.7 L129.7,327.1 L130.8,327.5 L131.9,327.8 L133.0,328.2 L134.1,328.6 L135.2,328.9 L136.3,329.3 L137.4,329.6 L138.5,330.0 L139.7,330.3 L140.8,330.7 L141.9,331.0 L143.0,331.3 L144.1,331.7 L145.2,332.0 L146.3,332.3 L147.4,332.6 L148.5,332.9 L149.6,333.2 L150.7,333.5 L151.8,333.8 L153.0,334.1 L154.1,334.4 L155.2,334.7 L156.3,335.0 L157.4,335.3 L158.5,335.6 L159.6,335.9 L160.7,336.1 L161.8,336.4 L162.9,336.7 L164.0,337.0 L165.2,337.2 L166.3,337.5 L167.4,337.7 L168.5,338.0 L169.6,338.3 L170.7,338.5 L171.8,338.8 L172.9,339.0 L174.0,339.3 L175.1,339.5 L176.2,339.7 L177.3,340.0 L178.5,340.2 L179.6,340.5 L180.7,340.7 L181.8,340.9 L182.9,341.1 L184.0,341.4 L185.1,341.6 L186.2,341.8 L187.3,342.0 L188.4,342.3 L189.5,342.5 L190.7,342.7 L191.8,342.9 L192.9,343.1 L194.0,343.3 L195.1,343.5 L196.2,343.7 L197.3,344.0 L198.4,344.2 L199.5,344.4 L200.6,344.6 L201.7,344.8 L202.8,345.0 L204.0,345.2 L205.1,345.3 L206.2,345.5 L207.3,345.7 L208.4,345.9 L209.5,346.1 L210.6,346.3 L211.7,346.5 L212.8,346.7 L213.9,346.9 L215.0,347.0 L216.1,347.2 L217.3,347.4 L218.4,347.6 L219.5,347.8 L220.6,347.9 L221.7,348.1 L222.8,348.3 L223.9,348.5 L225.0,348.6 L226.1,348.8 L227.2,349.0 L228.3,349.1 L229.5,349.3 L230.6,349.5 L231.7,349.6 L232.8,349.8 L233.9,350.0 L235.0,350.1 L236.1,350.3 L237.2,350.4 L238.3,350.6 L239.4,350.8 L240.5,350.9 L241.6,351.1 L242.8,351.2 L243.9,351.4 L245.0,351.5 L246.1,351.7 L247.2,351.8 L248.3,352.0 L249.4,352.1 L250.5,352.3 L251.6,352.4 L252.7,352.6 L253.8,352.7 L255.0,352.9 L256.1,353.0 L257.2,353.2 L258.3,353.3 L259.4,353.4 L260.5,353.6 L261.6,353.7 L262.7,353.9 L263.8,354.0 L264.9,354.1 L266.0,354.3 L267.1,354.4 L268.3,354.5 L269.4,354.7 L270.5,354.8 L271.6,354.9 L272.7,355.1 L273.8,355.2 L274.9,355.3 L276.0,355.5 L277.1,355.6 L278.2,355.7 L279.3,355.9 L280.5,356.0 L281.6,356.1 L282.7,356.2 L283.8,356.4 L284.9,356.5 L286.0,356.6 L287.1,356.7 L288.2,356.9 L289.3,357.0 L290.4,357.1 L291.5,357.2 L292.6,357.4 L293.8,357.5 L294.9,357.6 L296.0,357.7 L297.1,357.8 L298.2,358.0 L299.3,358.1 L300.4,358.2 L301.5,358.3 L302.6,358.4 L303.7,358.5 L304.8,358.7 L306.0,358.8 L307.1,358.9 L308.2,359.0 L309.3,359.1 L310.4,359.2 L311.5,359.3 L312.6,359.4 L313.7,359.6 L314.8,359.7 L315.9,359.8 L317.0,359.9 L318.1,360.0 L319.3,360.1 L320.4,360.2 L321.5,360.3 L322.6,360.4 L323.7,360.5 L324.8,360.6" fill="none" stroke="#FFFF00" stroke-width="1.3"/>
<path d="M82.0,337.3 L83.1,338.1 L84.2,338.9 L85.3,339.7 L86.4,340.4 L87.5,341.1 L88.7,341.8 L89.8,342.4 L90.9,343.0 L92.0,343.6 L93.1,344.1 L94.2,344.6 L95.3,345.1 L96.4,345.6 L97.5,346.1 L98.6,346.6 L99.7,347.0 L100.8,347.4 L102.0,347.9 L103.1,348.3 L104.2,348.6 L105.3,349.0 L106.4,349.4 L107.5,349.8 L108.6,350.1 L109.7,350.4 L110.8,350.8 L111.9,351.1 L113.0,351.4 L114.2,351.7 L115.3,352.0 L116.4,352.3 L117.5,352.6 L118.6,352.9 L119.7,353.2 L120.8,353.4 L121.9,353.7 L123.0,354.0 L124.1,354.2 L125.2,354.5 L126.3,354.7 L127.5,354.9 L128.6,355.2 L129.7,355.4 L130.8,355.6 L131.9,355.9 L133.0,356.1 L134.1,356.3 L135.2,356.5 L136.3,356.7 L137.4,356.9 L138.5,357.1 L139.7,357.3 L140.8,357.5 L141.9,357.7 L143.0,357.9 L144.1,358.1 L145.2,358.3 L146.3,358.5 L147.4,358.6 L148.5,358.8 L149.6,359.0 L150.7,359.2 L151.8,359.3 L153.0,359.5 L154.1,359.7 L155.2,359.8 L156.3,360.0 L157.4,360.1 L158.5,360.3 L159.6,360.4 L160.7,360.6 L161.8,360.7 L162.9,360.9 L164.0,361.0 L165.2,361.2 L166.3,361.3 L167.4,361.5 L168.5,361.6 L169.6,361.7 L170.7,361.9 L171.8,362.0 L172.9,362.2 L174.0,362.3 L175.1,362.4 L176.2,362.5 L177.3,362.7 L178.5,362.8 L179.6,362.9 L180.7,363.0 L181.8,363.2 L182.9,363.3 L184.0,363.4 L185.1,363.5 L186.2,363.7 L187.3,363.8 L188.4,363.9 L189.5,364.0 L190.7,364.1 L191.8,364.2 L192.9,364.3 L194.0,364.4 L195.1,364.6 L196.2,364.7 L197.3,364.8 L198.4,364.9 L199.5,365.0 L200.6,365.1 L201.7,365.2 L202.8,365.3 L204.0,365.4 L205.1,365.5 L206.2,365.6 L207.3,365.7 L208.4,365.8 L209.5,365.9 L210.6,366.0 L211.7,366.1 L212.8,366.2 L213.9,366.3 L215.0,366.4 L216.1,366.5 L217.3,366.6 L218.4,366.6 L219.5,366.7 L220.6,366.8 L221.7,366.9 L222.8,367.0 L223.9,367.1 L225.0,367.2 L226.1,367.3 L227.2,367.4 L228.3,367.4 L229.5,367.5 L230.6,367.6 L231.7,367.7 L232.8,367.8 L233.9,367.9 L235.0,367.9 L236.1,368.0 L237.2,368.1 L238.3,368.2 L239.4,368.3 L240.5,368.3 L241.6,368.4 L242.8,368.5 L243.9,368.6 L245.0,368.6 L246.1,368.7 L247.2,368.8 L248.3,368.9 L249.4,369.0 L250.5,369.0 L251.6,369.1 L252.7,369.2 L253.8,369.2 L255.0,369.3 L256.1,369.4 L257.2,369.5 L258.3,369.5 L259.4,369.6 L260.5,369.7 L261.6,369.7 L262.7,369.8 L263.8,369.9 L264.9,370.0 L266.0,370.0 L267.1,370.1 L268.3,370.2 L269.4,370.2 L270.5,370.3 L271.6,370.4 L272.7,370.4 L273.8,370.5 L274.9,370.6 L276.0,370.6 L277.1,370.7 L278.2,370.7 L279.3,370.8 L280.5,370.9 L281.6,370.9 L282.7,371.0 L283.8,371.1 L284.9,371.1 L286.0,371.2 L287.1,371.2 L288.2,371.3 L289.3,371.4 L290.4,371.4 L291.5,371.5 L292.6,371.5 L293.8,371.6 L294.9,371.7 L296.0,371.7 L297.1,371.8 L298.2,371.8 L299.3,371.9 L300.4,372.0 L301.5,372.0 L302.6,372.1 L303.7,372.1 L304.8,372.2 L306.0,372.2 L307.1,372.3 L308.2,372.3 L309.3,372.4 L310.4,372.5 L311.5,372.5 L312.6,372.6 L313.7,372.6 L314.8,372.7 L315.9,372.7 L317.0,372.8 L318.1,372.8 L319.3,372.9 L320.4,372.9 L321.5,373.0 L322.6,373.0 L323.7,373.1 L324.8,373.1" fill="none" stroke="#ED7D31" stroke-width="1.3"/>
<path d="M94.4,283.5 L95.5,285.0 L96.5,286.5 L97.6,287.8 L98.6,289.1 L99.7,290.4 L100.7,291.6 L101.8,292.7 L102.8,293.8 L103.9,294.8 L104.9,295.8 L106.0,296.8 L107.0,297.7 L108.1,298.6 L109.1,299.5 L110.2,300.3 L111.2,301.1 L112.3,301.9 L113.3,302.7 L114.4,303.4 L115.4,304.1 L116.5,304.8 L117.5,305.5 L118.6,306.2 L119.6,306.8 L120.7,307.5 L121.8,308.1 L122.8,308.7 L123.9,309.3 L124.9,309.8 L126.0,310.4 L127.0,310.9 L128.1,311.5 L129.1,312.0 L130.2,312.5 L131.2,313.0 L132.3,313.5 L133.3,314.0 L134.4,314.4 L135.4,314.9 L136.5,315.4 L137.5,315.8 L138.6,316.2 L139.6,316.7 L140.7,317.1 L141.7,317.5 L142.8,317.9 L143.8,318.3 L144.9,318.7 L146.0,319.1 L147.0,319.5 L148.1,319.9 L149.1,320.2 L150.2,320.6 L151.2,320.9 L152.3,321.3 L153.3,321.6 L154.4,322.0 L155.4,322.3 L156.5,322.7 L157.5,323.0 L158.6,323.3 L159.6,323.6 L160.7,324.0 L161.7,324.3 L162.8,324.6 L163.8,324.9 L164.9,325.2 L165.9,325.5 L167.0,325.8 L168.0,326.0 L169.1,326.3 L170.1,326.6 L171.2,326.9 L172.3,327.2 L173.3,327.4 L174.4,327.7 L175.4,328.0 L176.5,328.2 L177.5,328.5 L178.6,328.7 L179.6,329.0 L180.7,329.2 L181.7,329.5 L182.8,329.7 L183.8,330.0 L184.9,330.2 L185.9,330.5 L187.0,330.7 L188.0,330.9 L189.1,331.2 L190.1,331.4 L191.2,331.6 L192.2,331.8 L193.3,332.1 L194.3,332.3 L195.4,332.5 L196.4,332.7 L197.5,332.9 L198.6,333.1 L199.6,333.3 L200.7,333.5 L201.7,333.8 L202.8,334.0 L203.8,334.2 L204.9,334.4 L205.9,334.6 L207.0,334.8 L208.0,334.9 L209.1,335.1 L210.1,335.3 L211.2,335.5 L212.2,335.7 L213.3,335.9 L214.3,336.1 L215.4,336.3 L216.4,336.4 L217.5,336.6 L218.5,336.8 L219.6,337.0 L220.6,337.2 L221.7,337.3 L222.8,337.5 L223.8,337.7 L224.9,337.8 L225.9,338.0 L227.0,338.2 L228.0,338.3 L229.1,338.5 L230.1,338.7 L231.2,338.8 L232.2,339.0 L233.3,339.2 L234.3,339.3 L235.4,339.5 L236.4,339.6 L237.5,339.8 L238.5,339.9 L239.6,340.1 L240.6,340.3 L241.7,340.4 L242.7,340.6 L243.8,340.7 L244.8,340.9 L245.9,341.0 L246.9,341.2 L248.0,341.3 L249.1,341.4 L250.1,341.6 L251.2,341.7 L252.2,341.9 L253.3,342.0 L254.3,342.2 L255.4,342.3 L256.4,342.4 L257.5,342.6 L258.5,342.7 L259.6,342.8 L260.6,343.0 L261.7,343.1 L262.7,343.2 L263.8,343.4 L264.8,343.5 L265.9,343.6 L266.9,343.8 L268.0,343.9 L269.0,344.0 L270.1,344.1 L271.1,344.3 L272.2,344.4 L273.2,344.5 L274.3,344.7 L275.4,344.8 L276.4,344.9 L277.5,345.0 L278.5,345.1 L279.6,345.3 L280.6,345.4 L281.7,345.5 L282.7,345.6 L283.8,345.7 L284.8,345.9 L285.9,346.0 L286.9,346.1 L288.0,346.2 L289.0,346.3 L290.1,346.4 L291.1,346.6 L292.2,346.7 L293.2,346.8 L294.3,346.9 L295.3,347.0 L296.4,347.1 L297.4,347.2 L298.5,347.3 L299.6,347.4 L300.6,347.6 L301.7,347.7 L302.7,347.8 L303.8,347.9 L304.8,348.0 L305.9,348.1 L306.9,348.2 L308.0,348.3 L309.0,348.4 L310.1,348.5 L311.1,348.6 L312.2,348.7 L313.2,348.8 L314.3,348.9 L315.3,349.0 L316.4,349.1 L317.4,349.2 L318.5,349.3 L319.5,349.4 L320.6,349.5 L321.6,349.6 L322.7,349.7 L323.7,349.8 L324.8,349.9" fill="none" stroke="#A5A5A5" stroke-width="1.3"/>
<path d="M100.5,284.2 L101.5,285.4 L102.5,286.5 L103.6,287.6 L104.6,288.7 L105.6,289.8 L106.6,290.8 L107.7,291.9 L108.7,292.9 L109.7,293.9 L110.7,294.8 L111.8,295.8 L112.8,296.7 L113.8,297.7 L114.8,298.6 L115.9,299.5 L116.9,300.4 L117.9,301.2 L118.9,302.1 L120.0,302.9 L121.0,303.7 L122.0,304.5 L123.0,305.3 L124.1,306.1 L125.1,306.9 L126.1,307.7 L127.1,308.4 L128.2,309.1 L129.2,309.9 L130.2,310.6 L131.2,311.3 L132.3,312.0 L133.3,312.6 L134.3,313.3 L135.3,314.0 L136.3,314.6 L137.4,315.3 L138.4,315.9 L139.4,316.5 L140.4,317.1 L141.5,317.7 L142.5,318.3 L143.5,318.9 L144.5,319.5 L145.6,320.1 L146.6,320.6 L147.6,321.2 L148.6,321.7 L149.7,322.2 L150.7,322.8 L151.7,323.3 L152.7,323.8 L153.8,324.3 L154.8,324.8 L155.8,325.3 L156.8,325.8 L157.9,326.3 L158.9,326.7 L159.9,327.2 L160.9,327.7 L162.0,328.1 L163.0,328.6 L164.0,329.0 L165.0,329.5 L166.0,329.9 L167.1,330.3 L168.1,330.7 L169.1,331.2 L170.1,331.6 L171.2,332.0 L172.2,332.4 L173.2,332.8 L174.2,333.1 L175.3,333.5 L176.3,333.9 L177.3,334.3 L178.3,334.7 L179.4,335.0 L180.4,335.4 L181.4,335.7 L182.4,336.1 L183.5,336.4 L184.5,336.8 L185.5,337.1 L186.5,337.5 L187.6,337.8 L188.6,338.1 L189.6,338.4 L190.6,338.8 L191.7,339.1 L192.7,339.4 L193.7,339.7 L194.7,340.0 L195.8,340.3 L196.8,340.6 L197.8,340.9 L198.8,341.2 L199.8,341.5 L200.9,341.8 L201.9,342.1 L202.9,342.3 L203.9,342.6 L205.0,342.9 L206.0,343.2 L207.0,343.4 L208.0,343.7 L209.1,343.9 L210.1,344.2 L211.1,344.5 L212.1,344.7 L213.2,345.0 L214.2,345.2 L215.2,345.5 L216.2,345.7 L217.3,345.9 L218.3,346.2 L219.3,346.4 L220.3,346.6 L221.4,346.9 L222.4,347.1 L223.4,347.3 L224.4,347.5 L225.5,347.8 L226.5,348.0 L227.5,348.2 L228.5,348.4 L229.5,348.6 L230.6,348.8 L231.6,349.0 L232.6,349.2 L233.6,349.4 L234.7,349.7 L235.7,349.9 L236.7,350.0 L237.7,350.2 L238.8,350.4 L239.8,350.6 L240.8,350.8 L241.8,351.0 L242.9,351.2 L243.9,351.4 L244.9,351.6 L245.9,351.7 L247.0,351.9 L248.0,352.1 L249.0,352.3 L250.0,352.4 L251.1,352.6 L252.1,352.8 L253.1,353.0 L254.1,353.1 L255.2,353.3 L256.2,353.5 L257.2,353.6 L258.2,353.8 L259.3,353.9 L260.3,354.1 L261.3,354.3 L262.3,354.4 L263.3,354.6 L264.4,354.7 L265.4,354.9 L266.4,355.0 L267.4,355.2 L268.5,355.3 L269.5,355.5 L270.5,355.6 L271.5,355.8 L272.6,355.9 L273.6,356.0 L274.6,356.2 L275.6,356.3 L276.7,356.5 L277.7,356.6 L278.7,356.7 L279.7,356.9 L280.8,357.0 L281.8,357.1 L282.8,357.3 L283.8,357.4 L284.9,357.5 L285.9,357.6 L286.9,357.8 L287.9,357.9 L289.0,358.0 L290.0,358.1 L291.0,358.3 L292.0,358.4 L293.0,358.5 L294.1,358.6 L295.1,358.7 L296.1,358.9 L297.1,359.0 L298.2,359.1 L299.2,359.2 L300.2,359.3 L301.2,359.4 L302.3,359.6 L303.3,359.7 L304.3,359.8 L305.3,359.9 L306.4,360.0 L307.4,360.1 L308.4,360.2 L309.4,360.3 L310.5,360.4 L311.5,360.5 L312.5,360.6 L313.5,360.7 L314.6,360.8 L315.6,360.9 L316.6,361.0 L317.6,361.1 L318.7,361.2 L319.7,361.3 L320.7,361.4 L321.7,361.5 L322.8,361.6 L323.8,361.7 L324.8,361.8" fill="none" stroke="#FFC000" stroke-width="1.3"/>
<path d="M80.8,317.1 L81.9,322.5 L83.0,326.9 L84.1,330.7 L85.3,333.9 L86.4,336.6 L87.5,339.1 L88.6,341.4 L89.7,343.4 L90.8,345.2 L91.9,346.9 L93.1,348.5 L94.2,349.9 L95.3,351.3 L96.4,352.6 L97.5,353.8 L98.6,354.9 L99.7,355.9 L100.9,357.0 L102.0,357.9 L103.1,358.8 L104.2,359.7 L105.3,360.5 L106.4,361.3 L107.5,362.1 L108.7,362.8 L109.8,363.6 L110.9,364.2 L112.0,364.9 L113.1,365.5 L114.2,366.1 L115.3,366.7 L116.5,367.3 L117.6,367.9 L118.7,368.4 L119.8,368.9 L120.9,369.4 L122.0,369.9 L123.1,370.4 L124.3,370.9 L125.4,371.4 L126.5,371.8 L127.6,372.2 L128.7,372.7 L129.8,373.1 L130.9,373.5 L132.1,373.9 L133.2,374.3 L134.3,374.6 L135.4,375.0 L136.5,375.4 L137.6,375.7 L138.7,376.1 L139.9,376.4 L141.0,376.7 L142.1,377.1 L143.2,377.4 L144.3,377.7 L145.4,378.0 L146.5,378.3 L147.6,378.6 L148.8,378.9 L149.9,379.2 L151.0,379.5 L152.1,379.7 L153.2,380.0 L154.3,380.3 L155.4,380.6 L156.6,380.8 L157.7,381.1 L158.8,381.3 L159.9,381.6 L161.0,381.8 L162.1,382.1 L163.2,382.3 L164.4,382.5 L165.5,382.8 L166.6,383.0 L167.7,383.2 L168.8,383.4 L169.9,383.6 L171.0,383.9 L172.2,384.1 L173.3,384.3 L174.4,384.5 L175.5,384.7 L176.6,384.9 L177.7,385.1 L178.8,385.3 L180.0,385.5 L181.1,385.7 L182.2,385.9 L183.3,386.0 L184.4,386.2 L185.5,386.4 L186.6,386.6 L187.8,386.8 L188.9,386.9 L190.0,387.1 L191.1,387.3 L192.2,387.5 L193.3,387.6 L194.4,387.8 L195.6,388.0 L196.7,388.1 L197.8,388.3 L198.9,388.4 L200.0,388.6 L201.1,388.8 L202.2,388.9 L203.4,389.1 L204.5,389.2 L205.6,389.4 L206.7,389.5 L207.8,389.7 L208.9,389.8 L210.0,390.0 L211.2,390.1 L212.3,390.2 L213.4,390.4 L214.5,390.5 L215.6,390.7 L216.7,390.8 L217.8,390.9 L219.0,391.1 L220.1,391.2 L221.2,391.3 L222.3,391.5 L223.4,391.6 L224.5,391.7 L225.6,391.8 L226.8,392.0 L227.9,392.1 L229.0,392.2 L230.1,392.3 L231.2,392.5 L232.3,392.6 L233.4,392.7 L234.6,392.8 L235.7,392.9 L236.8,393.1 L237.9,393.2 L239.0,393.3 L240.1,393.4 L241.2,393.5 L242.4,393.6 L243.5,393.8 L244.6,393.9 L245.7,394.0 L246.8,394.1 L247.9,394.2 L249.0,394.3 L250.2,394.4 L251.3,394.5 L252.4,394.6 L253.5,394.7 L254.6,394.8 L255.7,394.9 L256.8,395.0 L258.0,395.1 L259.1,395.2 L260.2,395.3 L261.3,395.4 L262.4,395.5 L263.5,395.6 L264.6,395.7 L265.7,395.8 L266.9,395.9 L268.0,396.0 L269.1,396.1 L270.2,396.2 L271.3,396.3 L272.4,396.4 L273.5,396.5 L274.7,396.6 L275.8,396.7 L276.9,396.8 L278.0,396.8 L279.1,396.9 L280.2,397.0 L281.3,397.1 L282.5,397.2 L283.6,397.3 L284.7,397.4 L285.8,397.5 L286.9,397.5 L288.0,397.6 L289.1,397.7 L290.3,397.8 L291.4,397.9 L292.5,398.0 L293.6,398.1 L294.7,398.1 L295.8,398.2 L296.9,398.3 L298.1,398.4 L299.2,398.5 L300.3,398.5 L301.4,398.6 L302.5,398.7 L303.6,398.8 L304.7,398.9 L305.9,398.9 L307.0,399.0 L308.1,399.1 L309.2,399.2 L310.3,399.2 L311.4,399.3 L312.5,399.4 L313.7,399.5 L314.8,399.5 L315.9,399.6 L317.0,399.7 L318.1,399.8 L319.2,399.8 L320.3,399.9 L321.5,400.0 L322.6,400.0 L323.7,400.1 L324.8,400.2" fill="none" stroke="#1467B8" stroke-width="1.3"/>
<text x="419" y="287.1" font-size="9.8" text-anchor="end">10</text>
<text x="419" y="307.1" font-size="9.8" text-anchor="end">8</text>
<text x="419" y="327.0" font-size="9.8" text-anchor="end">6</text>
<text x="419" y="347.2" font-size="9.8" text-anchor="end">4</text>
<text x="419" y="367.2" font-size="9.8" text-anchor="end">2</text>
<text x="419" y="387.0" font-size="9.8" text-anchor="end">0</text>
<text x="419" y="406.7" font-size="9.8" text-anchor="end">-2</text>
<text x="426.9" y="422.6" font-size="9.2" text-anchor="middle" textLength="4.8" lengthAdjust="spacingAndGlyphs">1</text>
<text x="477.4" y="422.6" font-size="9.2" text-anchor="middle" textLength="4.8" lengthAdjust="spacingAndGlyphs">2</text>
<text x="525.2" y="422.6" font-size="9.2" text-anchor="middle" textLength="4.8" lengthAdjust="spacingAndGlyphs">3</text>
<text x="575.8" y="422.6" font-size="9.2" text-anchor="middle" textLength="4.8" lengthAdjust="spacingAndGlyphs">4</text>
<text x="623.6" y="422.6" font-size="9.2" text-anchor="middle" textLength="4.8" lengthAdjust="spacingAndGlyphs">5</text>
<text x="673.7" y="422.6" font-size="9.2" text-anchor="middle" textLength="4.8" lengthAdjust="spacingAndGlyphs">6</text>
<text x="524" y="435.5" font-size="9.6" text-anchor="start" textLength="51.6" lengthAdjust="spacingAndGlyphs">Time (sec)</text>
<text transform="translate(399.5 343.1) rotate(-90)" x="0" y="0" font-size="11" text-anchor="middle" textLength="88.2" lengthAdjust="spacingAndGlyphs">Intensity (pW/cm<tspan font-size="6.5" dy="-4">2</tspan><tspan dy="4">)</tspan></text>
<text x="610.5" y="307.9" font-size="8.8" text-anchor="start" textLength="21.7" lengthAdjust="spacingAndGlyphs">NAC</text>
<g fill="#70AD47"><circle cx="432.2" cy="309.6" r="2.2"/><circle cx="434.5" cy="314.4" r="2.2"/><circle cx="436.6" cy="315.6" r="2.2"/><circle cx="438.7" cy="312.0" r="2.2"/><circle cx="440.8" cy="315.6" r="2.2"/><circle cx="443.0" cy="316.8" r="2.2"/><circle cx="446.0" cy="318.0" r="2.2"/><circle cx="447.9" cy="320.4" r="2.2"/><circle cx="449.9" cy="321.6" r="2.2"/><circle cx="452.6" cy="321.6" r="2.2"/><circle cx="455.0" cy="321.6" r="2.2"/><circle cx="457.2" cy="322.8" r="2.2"/><circle cx="459.7" cy="322.8" r="2.2"/><circle cx="461.3" cy="326.4" r="2.2"/><circle cx="464.0" cy="327.6" r="2.2"/></g>
<g fill="#70AD47"><circle cx="469.7" cy="334.8" r="2.2"/><circle cx="472.7" cy="332.4" r="2.2"/><circle cx="474.8" cy="333.6" r="2.2"/><circle cx="476.8" cy="336.0" r="2.2"/><circle cx="479.1" cy="337.2" r="2.2"/><circle cx="481.6" cy="338.4" r="2.2"/><circle cx="484.2" cy="340.8" r="2.2"/><circle cx="485.9" cy="343.2" r="2.2"/><circle cx="488.9" cy="346.8" r="2.2"/><circle cx="491.2" cy="349.2" r="2.2"/><circle cx="492.9" cy="349.2" r="2.2"/><circle cx="495.5" cy="351.6" r="2.2"/><circle cx="497.6" cy="349.2" r="2.2"/><circle cx="500.2" cy="349.2" r="2.2"/><circle cx="502.0" cy="350.4" r="2.2"/><circle cx="504.6" cy="350.4" r="2.2"/><circle cx="507.0" cy="351.6" r="2.2"/><circle cx="509.3" cy="354.0" r="2.2"/><circle cx="511.7" cy="355.2" r="2.2"/><circle cx="514.1" cy="356.4" r="2.2"/><circle cx="515.9" cy="356.4" r="2.2"/><circle cx="518.1" cy="357.6" r="2.2"/><circle cx="520.6" cy="358.8" r="2.2"/><circle cx="523.1" cy="362.4" r="2.2"/><circle cx="525.7" cy="363.6" r="2.2"/><circle cx="527.8" cy="363.6" r="2.2"/><circle cx="530.1" cy="367.2" r="2.2"/><circle cx="532.6" cy="363.6" r="2.2"/><circle cx="534.3" cy="363.6" r="2.2"/><circle cx="536.6" cy="363.6" r="2.2"/><circle cx="539.0" cy="363.6" r="2.2"/><circle cx="541.2" cy="363.6" r="2.2"/><circle cx="543.8" cy="363.6" r="2.2"/><circle cx="546.4" cy="363.6" r="2.2"/><circle cx="548.0" cy="362.4" r="2.2"/><circle cx="550.6" cy="361.2" r="2.2"/><circle cx="553.0" cy="361.2" r="2.2"/><circle cx="555.2" cy="361.2" r="2.2"/><circle cx="557.8" cy="361.2" r="2.2"/><circle cx="560.0" cy="361.2" r="2.2"/><circle cx="562.4" cy="362.4" r="2.2"/><circle cx="564.1" cy="362.4" r="2.2"/><circle cx="566.5" cy="367.2" r="2.2"/><circle cx="568.7" cy="367.2" r="2.2"/><circle cx="571.6" cy="368.4" r="2.2"/><circle cx="574.0" cy="369.6" r="2.2"/><circle cx="575.5" cy="374.4" r="2.2"/><circle cx="578.4" cy="370.8" r="2.2"/><circle cx="580.7" cy="374.4" r="2.2"/><circle cx="583.1" cy="372.0" r="2.2"/><circle cx="584.9" cy="372.0" r="2.2"/><circle cx="587.6" cy="375.6" r="2.2"/><circle cx="589.5" cy="372.0" r="2.2"/><circle cx="591.7" cy="373.2" r="2.2"/><circle cx="594.5" cy="373.2" r="2.2"/><circle cx="596.2" cy="375.6" r="2.2"/><circle cx="599.1" cy="373.2" r="2.2"/><circle cx="601.0" cy="373.2" r="2.2"/><circle cx="603.5" cy="374.4" r="2.2"/><circle cx="606.1" cy="373.2" r="2.2"/><circle cx="607.9" cy="375.6" r="2.2"/><circle cx="610.4" cy="373.2" r="2.2"/><circle cx="612.6" cy="373.2" r="2.2"/><circle cx="614.8" cy="373.2" r="2.2"/><circle cx="617.3" cy="373.2" r="2.2"/><circle cx="619.3" cy="373.2" r="2.2"/><circle cx="622.1" cy="372.0" r="2.2"/><circle cx="624.3" cy="372.0" r="2.2"/><circle cx="626.3" cy="370.8" r="2.2"/><circle cx="629.2" cy="375.6" r="2.2"/><circle cx="631.0" cy="376.8" r="2.2"/><circle cx="633.5" cy="376.8" r="2.2"/><circle cx="635.9" cy="378.0" r="2.2"/><circle cx="637.8" cy="378.0" r="2.2"/><circle cx="639.9" cy="379.2" r="2.2"/><circle cx="642.9" cy="380.4" r="2.2"/><circle cx="645.3" cy="379.2" r="2.2"/><circle cx="646.9" cy="379.2" r="2.2"/><circle cx="649.2" cy="379.2" r="2.2"/><circle cx="651.7" cy="381.6" r="2.2"/><circle cx="654.2" cy="379.2" r="2.2"/><circle cx="656.8" cy="379.2" r="2.2"/><circle cx="659.1" cy="379.2" r="2.2"/><circle cx="661.4" cy="379.2" r="2.2"/><circle cx="663.1" cy="379.2" r="2.2"/><circle cx="665.7" cy="379.2" r="2.2"/><circle cx="667.8" cy="378.0" r="2.2"/><circle cx="670.0" cy="378.0" r="2.2"/></g>
<g fill="#FFFF00"><circle cx="430.6" cy="316.8" r="2.2"/></g>
<g fill="#FFFF00"><circle cx="431.9" cy="348.0" r="2.2"/><circle cx="434.1" cy="350.4" r="2.2"/><circle cx="436.1" cy="352.8" r="2.2"/><circle cx="439.0" cy="355.2" r="2.2"/><circle cx="441.4" cy="358.8" r="2.2"/><circle cx="443.6" cy="361.2" r="2.2"/><circle cx="445.5" cy="362.4" r="2.2"/><circle cx="448.0" cy="363.6" r="2.2"/><circle cx="450.4" cy="366.0" r="2.2"/><circle cx="452.1" cy="363.6" r="2.2"/><circle cx="455.0" cy="364.8" r="2.2"/><circle cx="456.8" cy="367.2" r="2.2"/><circle cx="459.8" cy="368.4" r="2.2"/><circle cx="461.5" cy="369.6" r="2.2"/><circle cx="464.4" cy="372.0" r="2.2"/><circle cx="466.1" cy="370.8" r="2.2"/><circle cx="468.6" cy="374.4" r="2.2"/><circle cx="471.2" cy="375.6" r="2.2"/><circle cx="473.6" cy="376.8" r="2.2"/><circle cx="475.7" cy="378.0" r="2.2"/><circle cx="478.1" cy="376.8" r="2.2"/><circle cx="480.0" cy="378.0" r="2.2"/><circle cx="482.6" cy="378.0" r="2.2"/><circle cx="484.6" cy="378.0" r="2.2"/><circle cx="487.3" cy="379.2" r="2.2"/><circle cx="489.5" cy="381.6" r="2.2"/><circle cx="491.5" cy="381.6" r="2.2"/><circle cx="494.1" cy="384.0" r="2.2"/><circle cx="495.9" cy="385.2" r="2.2"/><circle cx="498.8" cy="385.2" r="2.2"/><circle cx="501.0" cy="385.2" r="2.2"/><circle cx="503.0" cy="384.0" r="2.2"/><circle cx="505.5" cy="384.0" r="2.2"/><circle cx="507.9" cy="384.0" r="2.2"/><circle cx="510.1" cy="384.0" r="2.2"/><circle cx="512.6" cy="384.0" r="2.2"/><circle cx="514.5" cy="382.8" r="2.2"/><circle cx="516.8" cy="385.2" r="2.2"/><circle cx="519.1" cy="387.6" r="2.2"/><circle cx="521.3" cy="390.0" r="2.2"/><circle cx="523.8" cy="392.4" r="2.2"/><circle cx="526.3" cy="391.2" r="2.2"/><circle cx="528.7" cy="391.2" r="2.2"/><circle cx="530.8" cy="390.0" r="2.2"/><circle cx="533.2" cy="392.4" r="2.2"/><circle cx="535.7" cy="392.4" r="2.2"/><circle cx="537.7" cy="392.4" r="2.2"/><circle cx="539.6" cy="390.0" r="2.2"/><circle cx="542.3" cy="390.0" r="2.2"/><circle cx="544.1" cy="390.0" r="2.2"/><circle cx="546.9" cy="390.0" r="2.2"/><circle cx="549.5" cy="391.2" r="2.2"/><circle cx="551.4" cy="392.4" r="2.2"/><circle cx="554.0" cy="393.6" r="2.2"/><circle cx="555.6" cy="394.8" r="2.2"/><circle cx="558.7" cy="396.0" r="2.2"/><circle cx="560.3" cy="394.8" r="2.2"/><circle cx="563.2" cy="394.8" r="2.2"/><circle cx="565.0" cy="393.6" r="2.2"/><circle cx="567.4" cy="393.6" r="2.2"/><circle cx="569.5" cy="392.4" r="2.2"/><circle cx="571.7" cy="391.2" r="2.2"/><circle cx="574.6" cy="392.4" r="2.2"/><circle cx="576.9" cy="393.6" r="2.2"/><circle cx="578.7" cy="394.8" r="2.2"/><circle cx="581.4" cy="398.4" r="2.2"/><circle cx="583.4" cy="398.4" r="2.2"/><circle cx="586.2" cy="398.4" r="2.2"/><circle cx="587.9" cy="398.4" r="2.2"/><circle cx="590.6" cy="397.2" r="2.2"/><circle cx="593.1" cy="397.2" r="2.2"/><circle cx="595.1" cy="394.8" r="2.2"/><circle cx="597.5" cy="393.6" r="2.2"/><circle cx="599.9" cy="393.6" r="2.2"/><circle cx="602.2" cy="393.6" r="2.2"/><circle cx="604.6" cy="393.6" r="2.2"/><circle cx="606.4" cy="396.0" r="2.2"/><circle cx="609.2" cy="397.2" r="2.2"/><circle cx="611.2" cy="396.0" r="2.2"/><circle cx="613.8" cy="397.2" r="2.2"/><circle cx="616.0" cy="399.6" r="2.2"/><circle cx="618.3" cy="397.2" r="2.2"/><circle cx="620.8" cy="399.6" r="2.2"/><circle cx="622.4" cy="399.6" r="2.2"/><circle cx="625.3" cy="400.8" r="2.2"/><circle cx="627.1" cy="400.8" r="2.2"/><circle cx="629.9" cy="400.8" r="2.2"/><circle cx="631.7" cy="400.8" r="2.2"/></g>
<g fill="#ED7D31"><circle cx="432.0" cy="385.2" r="2.2"/><circle cx="434.2" cy="385.2" r="2.2"/><circle cx="436.8" cy="385.2" r="2.2"/><circle cx="439.1" cy="385.2" r="2.2"/><circle cx="441.2" cy="386.4" r="2.2"/><circle cx="443.5" cy="386.4" r="2.2"/><circle cx="445.3" cy="387.6" r="2.2"/><circle cx="448.1" cy="387.6" r="2.2"/><circle cx="450.5" cy="387.6" r="2.2"/><circle cx="452.4" cy="392.4" r="2.2"/><circle cx="454.8" cy="391.2" r="2.2"/><circle cx="457.1" cy="388.8" r="2.2"/><circle cx="459.8" cy="392.4" r="2.2"/><circle cx="461.6" cy="392.4" r="2.2"/><circle cx="463.9" cy="392.4" r="2.2"/><circle cx="465.9" cy="392.4" r="2.2"/><circle cx="468.5" cy="392.4" r="2.2"/><circle cx="471.0" cy="393.6" r="2.2"/><circle cx="473.5" cy="393.6" r="2.2"/><circle cx="475.8" cy="394.8" r="2.2"/><circle cx="477.7" cy="397.2" r="2.2"/><circle cx="480.5" cy="398.4" r="2.2"/><circle cx="482.2" cy="398.4" r="2.2"/><circle cx="485.0" cy="399.6" r="2.2"/><circle cx="486.7" cy="400.8" r="2.2"/><circle cx="489.2" cy="399.6" r="2.2"/><circle cx="491.3" cy="400.8" r="2.2"/><circle cx="494.2" cy="400.8" r="2.2"/><circle cx="496.5" cy="397.2" r="2.2"/><circle cx="498.2" cy="400.8" r="2.2"/><circle cx="500.8" cy="403.2" r="2.2"/><circle cx="502.9" cy="403.2" r="2.2"/><circle cx="505.4" cy="404.4" r="2.2"/><circle cx="507.7" cy="403.2" r="2.2"/><circle cx="509.7" cy="403.2" r="2.2"/><circle cx="512.6" cy="404.4" r="2.2"/><circle cx="514.4" cy="404.4" r="2.2"/><circle cx="516.9" cy="403.2" r="2.2"/><circle cx="518.8" cy="403.2" r="2.2"/><circle cx="521.1" cy="403.2" r="2.2"/><circle cx="523.6" cy="403.2" r="2.2"/><circle cx="526.0" cy="402.0" r="2.2"/><circle cx="528.7" cy="402.0" r="2.2"/><circle cx="531.0" cy="402.0" r="2.2"/><circle cx="533.0" cy="402.0" r="2.2"/><circle cx="535.3" cy="402.0" r="2.2"/><circle cx="537.7" cy="402.0" r="2.2"/><circle cx="540.2" cy="402.0" r="2.2"/><circle cx="542.1" cy="402.0" r="2.2"/></g>
<g fill="#ED7D31"><circle cx="432.9" cy="378.0" r="2.2"/></g>
<g fill="#A5A5A5"><circle cx="436.2" cy="310.8" r="2.2"/><circle cx="438.4" cy="309.6" r="2.2"/><circle cx="440.5" cy="307.2" r="2.2"/><circle cx="443.0" cy="308.4" r="2.2"/><circle cx="445.8" cy="310.8" r="2.2"/><circle cx="448.1" cy="312.0" r="2.2"/><circle cx="449.8" cy="313.2" r="2.2"/><circle cx="452.5" cy="316.8" r="2.2"/><circle cx="454.7" cy="314.4" r="2.2"/><circle cx="457.1" cy="315.6" r="2.2"/><circle cx="459.4" cy="315.6" r="2.2"/><circle cx="461.4" cy="316.8" r="2.2"/><circle cx="464.3" cy="316.8" r="2.2"/><circle cx="466.2" cy="316.8" r="2.2"/><circle cx="468.6" cy="321.6" r="2.2"/><circle cx="470.9" cy="325.2" r="2.2"/><circle cx="472.8" cy="327.6" r="2.2"/><circle cx="475.0" cy="327.6" r="2.2"/><circle cx="477.6" cy="327.6" r="2.2"/><circle cx="480.2" cy="328.8" r="2.2"/><circle cx="482.6" cy="328.8" r="2.2"/><circle cx="484.8" cy="327.6" r="2.2"/><circle cx="486.6" cy="327.6" r="2.2"/><circle cx="489.5" cy="328.8" r="2.2"/><circle cx="491.7" cy="330.0" r="2.2"/><circle cx="494.1" cy="331.2" r="2.2"/><circle cx="496.1" cy="332.4" r="2.2"/><circle cx="498.7" cy="332.4" r="2.2"/><circle cx="500.3" cy="332.4" r="2.2"/><circle cx="502.6" cy="332.4" r="2.2"/><circle cx="504.9" cy="332.4" r="2.2"/><circle cx="507.4" cy="332.4" r="2.2"/><circle cx="509.7" cy="334.8" r="2.2"/><circle cx="512.0" cy="336.0" r="2.2"/><circle cx="514.6" cy="336.0" r="2.2"/><circle cx="516.4" cy="336.0" r="2.2"/><circle cx="519.2" cy="337.2" r="2.2"/><circle cx="521.1" cy="338.4" r="2.2"/><circle cx="523.8" cy="339.6" r="2.2"/><circle cx="525.6" cy="340.8" r="2.2"/><circle cx="528.1" cy="342.0" r="2.2"/><circle cx="531.0" cy="343.2" r="2.2"/><circle cx="532.9" cy="343.2" r="2.2"/><circle cx="535.4" cy="343.2" r="2.2"/><circle cx="537.6" cy="344.4" r="2.2"/><circle cx="539.9" cy="340.8" r="2.2"/><circle cx="541.9" cy="343.2" r="2.2"/><circle cx="544.5" cy="342.0" r="2.2"/><circle cx="546.3" cy="342.0" r="2.2"/><circle cx="549.2" cy="340.8" r="2.2"/><circle cx="551.7" cy="342.0" r="2.2"/><circle cx="553.9" cy="346.8" r="2.2"/><circle cx="555.5" cy="344.4" r="2.2"/><circle cx="558.1" cy="348.0" r="2.2"/><circle cx="560.4" cy="346.8" r="2.2"/><circle cx="562.5" cy="348.0" r="2.2"/><circle cx="565.2" cy="350.4" r="2.2"/><circle cx="567.6" cy="350.4" r="2.2"/><circle cx="569.6" cy="351.6" r="2.2"/><circle cx="572.3" cy="352.8" r="2.2"/><circle cx="574.5" cy="352.8" r="2.2"/><circle cx="576.3" cy="351.6" r="2.2"/><circle cx="579.1" cy="352.8" r="2.2"/><circle cx="581.5" cy="355.2" r="2.2"/><circle cx="583.3" cy="356.4" r="2.2"/><circle cx="585.9" cy="357.6" r="2.2"/><circle cx="588.2" cy="360.0" r="2.2"/><circle cx="590.5" cy="360.0" r="2.2"/><circle cx="592.4" cy="361.2" r="2.2"/><circle cx="595.1" cy="364.8" r="2.2"/><circle cx="597.4" cy="361.2" r="2.2"/><circle cx="599.9" cy="361.2" r="2.2"/><circle cx="602.1" cy="362.4" r="2.2"/><circle cx="604.1" cy="361.2" r="2.2"/><circle cx="606.7" cy="362.4" r="2.2"/><circle cx="609.1" cy="364.8" r="2.2"/><circle cx="611.4" cy="362.4" r="2.2"/><circle cx="613.1" cy="362.4" r="2.2"/><circle cx="615.3" cy="362.4" r="2.2"/><circle cx="618.1" cy="366.0" r="2.2"/><circle cx="620.1" cy="366.0" r="2.2"/><circle cx="622.7" cy="367.2" r="2.2"/><circle cx="625.3" cy="367.2" r="2.2"/><circle cx="627.1" cy="367.2" r="2.2"/><circle cx="629.3" cy="366.0" r="2.2"/><circle cx="631.8" cy="366.0" r="2.2"/><circle cx="634.2" cy="367.2" r="2.2"/><circle cx="636.1" cy="367.2" r="2.2"/><circle cx="638.6" cy="369.6" r="2.2"/><circle cx="640.7" cy="369.6" r="2.2"/><circle cx="643.4" cy="370.8" r="2.2"/><circle cx="645.9" cy="369.6" r="2.2"/><circle cx="647.8" cy="369.6" r="2.2"/><circle cx="650.1" cy="370.8" r="2.2"/><circle cx="652.5" cy="372.0" r="2.2"/><circle cx="654.6" cy="372.0" r="2.2"/><circle cx="656.9" cy="373.2" r="2.2"/><circle cx="659.3" cy="373.2" r="2.2"/><circle cx="661.7" cy="373.2" r="2.2"/><circle cx="663.7" cy="373.2" r="2.2"/><circle cx="666.5" cy="373.2" r="2.2"/><circle cx="668.7" cy="372.0" r="2.2"/><circle cx="670.7" cy="372.0" r="2.2"/></g>
<g fill="#FFC000"><circle cx="431.7" cy="295.2" r="2.2"/><circle cx="434.3" cy="292.8" r="2.2"/><circle cx="436.4" cy="291.6" r="2.2"/><circle cx="438.7" cy="291.6" r="2.2"/><circle cx="440.9" cy="291.6" r="2.2"/></g>
<g fill="#FFC000"><circle cx="432.0" cy="303.6" r="2.2"/></g>
<g fill="#FFC000"><circle cx="442.8" cy="300.0" r="2.2"/><circle cx="445.3" cy="303.6" r="2.2"/><circle cx="447.4" cy="306.0" r="2.2"/><circle cx="450.1" cy="308.4" r="2.2"/><circle cx="451.9" cy="309.6" r="2.2"/><circle cx="454.9" cy="310.8" r="2.2"/><circle cx="456.6" cy="312.0" r="2.2"/><circle cx="459.5" cy="310.8" r="2.2"/><circle cx="461.6" cy="309.6" r="2.2"/><circle cx="463.7" cy="309.6" r="2.2"/><circle cx="466.1" cy="309.6" r="2.2"/><circle cx="468.3" cy="309.6" r="2.2"/><circle cx="470.5" cy="309.6" r="2.2"/><circle cx="473.4" cy="309.6" r="2.2"/><circle cx="475.2" cy="310.8" r="2.2"/><circle cx="477.6" cy="310.8" r="2.2"/><circle cx="480.2" cy="318.0" r="2.2"/><circle cx="481.9" cy="318.0" r="2.2"/><circle cx="484.2" cy="318.0" r="2.2"/><circle cx="487.2" cy="318.0" r="2.2"/><circle cx="489.2" cy="319.2" r="2.2"/><circle cx="491.3" cy="319.2" r="2.2"/><circle cx="494.1" cy="320.4" r="2.2"/><circle cx="496.0" cy="319.2" r="2.2"/><circle cx="498.3" cy="318.0" r="2.2"/><circle cx="500.4" cy="320.4" r="2.2"/><circle cx="502.9" cy="322.8" r="2.2"/><circle cx="505.1" cy="324.0" r="2.2"/><circle cx="507.6" cy="325.2" r="2.2"/><circle cx="509.6" cy="326.4" r="2.2"/><circle cx="512.2" cy="327.6" r="2.2"/><circle cx="514.3" cy="327.6" r="2.2"/><circle cx="516.6" cy="328.8" r="2.2"/><circle cx="518.7" cy="330.0" r="2.2"/><circle cx="521.0" cy="330.0" r="2.2"/><circle cx="523.5" cy="331.2" r="2.2"/><circle cx="526.3" cy="330.0" r="2.2"/><circle cx="528.3" cy="331.2" r="2.2"/><circle cx="530.2" cy="332.4" r="2.2"/><circle cx="532.8" cy="334.8" r="2.2"/><circle cx="535.0" cy="337.2" r="2.2"/><circle cx="537.1" cy="336.0" r="2.2"/><circle cx="539.6" cy="332.4" r="2.2"/><circle cx="541.8" cy="332.4" r="2.2"/><circle cx="544.5" cy="333.6" r="2.2"/><circle cx="546.8" cy="331.2" r="2.2"/><circle cx="548.7" cy="334.8" r="2.2"/><circle cx="551.4" cy="337.2" r="2.2"/><circle cx="553.4" cy="338.4" r="2.2"/><circle cx="556.2" cy="339.6" r="2.2"/><circle cx="558.3" cy="338.4" r="2.2"/><circle cx="560.3" cy="336.0" r="2.2"/><circle cx="562.7" cy="338.4" r="2.2"/><circle cx="565.0" cy="340.8" r="2.2"/><circle cx="567.4" cy="342.0" r="2.2"/><circle cx="569.3" cy="344.4" r="2.2"/><circle cx="571.7" cy="345.6" r="2.2"/><circle cx="574.1" cy="346.8" r="2.2"/><circle cx="576.5" cy="348.0" r="2.2"/><circle cx="578.5" cy="349.2" r="2.2"/><circle cx="581.4" cy="346.8" r="2.2"/><circle cx="583.1" cy="346.8" r="2.2"/><circle cx="586.0" cy="346.8" r="2.2"/><circle cx="587.7" cy="346.8" r="2.2"/><circle cx="590.3" cy="344.4" r="2.2"/><circle cx="592.3" cy="348.0" r="2.2"/><circle cx="594.9" cy="350.4" r="2.2"/><circle cx="596.9" cy="351.6" r="2.2"/><circle cx="599.6" cy="351.6" r="2.2"/><circle cx="601.5" cy="352.8" r="2.2"/><circle cx="604.3" cy="354.0" r="2.2"/><circle cx="606.1" cy="355.2" r="2.2"/><circle cx="609.1" cy="355.2" r="2.2"/><circle cx="611.0" cy="356.4" r="2.2"/><circle cx="613.1" cy="356.4" r="2.2"/><circle cx="615.2" cy="354.0" r="2.2"/><circle cx="617.8" cy="351.6" r="2.2"/><circle cx="620.6" cy="348.0" r="2.2"/><circle cx="622.4" cy="349.2" r="2.2"/><circle cx="625.1" cy="351.6" r="2.2"/><circle cx="626.8" cy="354.0" r="2.2"/><circle cx="629.2" cy="355.2" r="2.2"/><circle cx="632.0" cy="355.2" r="2.2"/><circle cx="633.9" cy="354.0" r="2.2"/><circle cx="636.0" cy="355.2" r="2.2"/><circle cx="638.8" cy="354.0" r="2.2"/><circle cx="641.1" cy="351.6" r="2.2"/><circle cx="643.0" cy="351.6" r="2.2"/><circle cx="645.6" cy="352.8" r="2.2"/><circle cx="648.2" cy="354.0" r="2.2"/><circle cx="650.0" cy="355.2" r="2.2"/><circle cx="652.1" cy="354.0" r="2.2"/><circle cx="655.0" cy="355.2" r="2.2"/><circle cx="657.0" cy="355.2" r="2.2"/><circle cx="659.4" cy="356.4" r="2.2"/><circle cx="661.8" cy="358.8" r="2.2"/><circle cx="663.6" cy="361.2" r="2.2"/><circle cx="666.0" cy="363.6" r="2.2"/><circle cx="668.7" cy="367.2" r="2.2"/><circle cx="671.1" cy="366.0" r="2.2"/><circle cx="673.0" cy="368.4" r="2.2"/><circle cx="675.4" cy="362.4" r="2.2"/></g>
<g fill="#1467B8"><circle cx="431.7" cy="351.6" r="2.2"/><circle cx="434.1" cy="361.2" r="2.2"/><circle cx="436.7" cy="363.6" r="2.2"/><circle cx="438.9" cy="362.4" r="2.2"/><circle cx="440.9" cy="358.8" r="2.2"/><circle cx="442.9" cy="357.6" r="2.2"/><circle cx="445.3" cy="360.0" r="2.2"/><circle cx="448.3" cy="363.6" r="2.2"/><circle cx="450.2" cy="367.2" r="2.2"/><circle cx="452.7" cy="369.6" r="2.2"/><circle cx="454.4" cy="374.4" r="2.2"/><circle cx="456.7" cy="375.6" r="2.2"/><circle cx="459.7" cy="378.0" r="2.2"/><circle cx="461.8" cy="379.2" r="2.2"/><circle cx="463.8" cy="381.6" r="2.2"/><circle cx="466.2" cy="382.8" r="2.2"/><circle cx="468.3" cy="384.0" r="2.2"/><circle cx="470.6" cy="385.2" r="2.2"/><circle cx="472.8" cy="385.2" r="2.2"/><circle cx="475.8" cy="387.6" r="2.2"/><circle cx="477.8" cy="390.0" r="2.2"/><circle cx="479.8" cy="390.0" r="2.2"/><circle cx="482.6" cy="392.4" r="2.2"/><circle cx="484.5" cy="396.0" r="2.2"/><circle cx="486.6" cy="398.4" r="2.2"/><circle cx="489.4" cy="400.8" r="2.2"/><circle cx="491.9" cy="403.2" r="2.2"/></g>
<path d="M433.3,317.2 L434.4,319.8 L435.5,322.0 L436.6,324.0 L437.7,325.9 L438.8,327.5 L439.9,329.0 L441.1,330.4 L442.2,331.8 L443.3,333.0 L444.4,334.1 L445.5,335.2 L446.6,336.2 L447.7,337.2 L448.8,338.1 L449.9,338.9 L451.0,339.8 L452.1,340.5 L453.2,341.3 L454.3,342.0 L455.4,342.7 L456.6,343.4 L457.7,344.0 L458.8,344.6 L459.9,345.2 L461.0,345.8 L462.1,346.4 L463.2,346.9 L464.3,347.4 L465.4,347.9 L466.5,348.4 L467.6,348.9 L468.7,349.4 L469.8,349.8 L470.9,350.3 L472.1,350.7 L473.2,351.1 L474.3,351.5 L475.4,351.9 L476.5,352.3 L477.6,352.7 L478.7,353.0 L479.8,353.4 L480.9,353.8 L482.0,354.1 L483.1,354.4 L484.2,354.8 L485.3,355.1 L486.5,355.4 L487.6,355.7 L488.7,356.0 L489.8,356.3 L490.9,356.6 L492.0,356.9 L493.1,357.2 L494.2,357.5 L495.3,357.8 L496.4,358.0 L497.5,358.3 L498.6,358.6 L499.7,358.8 L500.8,359.1 L502.0,359.3 L503.1,359.6 L504.2,359.8 L505.3,360.1 L506.4,360.3 L507.5,360.5 L508.6,360.7 L509.7,361.0 L510.8,361.2 L511.9,361.4 L513.0,361.6 L514.1,361.8 L515.2,362.0 L516.3,362.3 L517.5,362.5 L518.6,362.7 L519.7,362.9 L520.8,363.1 L521.9,363.2 L523.0,363.4 L524.1,363.6 L525.2,363.8 L526.3,364.0 L527.4,364.2 L528.5,364.4 L529.6,364.5 L530.7,364.7 L531.9,364.9 L533.0,365.1 L534.1,365.2 L535.2,365.4 L536.3,365.6 L537.4,365.7 L538.5,365.9 L539.6,366.0 L540.7,366.2 L541.8,366.4 L542.9,366.5 L544.0,366.7 L545.1,366.8 L546.2,367.0 L547.4,367.1 L548.5,367.3 L549.6,367.4 L550.7,367.6 L551.8,367.7 L552.9,367.9 L554.0,368.0 L555.1,368.1 L556.2,368.3 L557.3,368.4 L558.4,368.5 L559.5,368.7 L560.6,368.8 L561.7,368.9 L562.9,369.1 L564.0,369.2 L565.1,369.3 L566.2,369.5 L567.3,369.6 L568.4,369.7 L569.5,369.8 L570.6,370.0 L571.7,370.1 L572.8,370.2 L573.9,370.3 L575.0,370.4 L576.1,370.6 L577.2,370.7 L578.4,370.8 L579.5,370.9 L580.6,371.0 L581.7,371.1 L582.8,371.3 L583.9,371.4 L585.0,371.5 L586.1,371.6 L587.2,371.7 L588.3,371.8 L589.4,371.9 L590.5,372.0 L591.6,372.1 L592.8,372.2 L593.9,372.3 L595.0,372.4 L596.1,372.6 L597.2,372.7 L598.3,372.8 L599.4,372.9 L600.5,373.0 L601.6,373.1 L602.7,373.2 L603.8,373.3 L604.9,373.4 L606.0,373.5 L607.1,373.5 L608.3,373.6 L609.4,373.7 L610.5,373.8 L611.6,373.9 L612.7,374.0 L613.8,374.1 L614.9,374.2 L616.0,374.3 L617.1,374.4 L618.2,374.5 L619.3,374.6 L620.4,374.7 L621.5,374.7 L622.6,374.8 L623.8,374.9 L624.9,375.0 L626.0,375.1 L627.1,375.2 L628.2,375.3 L629.3,375.4 L630.4,375.4 L631.5,375.5 L632.6,375.6 L633.7,375.7 L634.8,375.8 L635.9,375.9 L637.0,375.9 L638.2,376.0 L639.3,376.1 L640.4,376.2 L641.5,376.3 L642.6,376.3 L643.7,376.4 L644.8,376.5 L645.9,376.6 L647.0,376.6 L648.1,376.7 L649.2,376.8 L650.3,376.9 L651.4,377.0 L652.5,377.0 L653.7,377.1 L654.8,377.2 L655.9,377.3 L657.0,377.3 L658.1,377.4 L659.2,377.5 L660.3,377.5 L661.4,377.6 L662.5,377.7 L663.6,377.8 L664.7,377.8 L665.8,377.9 L666.9,378.0 L668.0,378.0 L669.2,378.1 L670.3,378.2 L671.4,378.3 L672.5,378.3 L673.6,378.4 L674.7,378.5 L675.8,378.5" fill="none" stroke="#70AD47" stroke-width="1.3"/>
<path d="M431.8,350.1 L432.7,351.4 L433.7,352.7 L434.6,354.0 L435.6,355.1 L436.5,356.3 L437.4,357.4 L438.4,358.4 L439.3,359.4 L440.3,360.4 L441.2,361.3 L442.1,362.3 L443.1,363.1 L444.0,364.0 L444.9,364.8 L445.9,365.6 L446.8,366.4 L447.8,367.1 L448.7,367.8 L449.6,368.5 L450.6,369.2 L451.5,369.9 L452.5,370.5 L453.4,371.1 L454.3,371.7 L455.3,372.3 L456.2,372.8 L457.2,373.4 L458.1,373.9 L459.0,374.5 L460.0,375.0 L460.9,375.5 L461.9,375.9 L462.8,376.4 L463.7,376.9 L464.7,377.3 L465.6,377.7 L466.6,378.1 L467.5,378.6 L468.4,379.0 L469.4,379.3 L470.3,379.7 L471.2,380.1 L472.2,380.5 L473.1,380.8 L474.1,381.2 L475.0,381.5 L475.9,381.8 L476.9,382.2 L477.8,382.5 L478.8,382.8 L479.7,383.1 L480.6,383.4 L481.6,383.7 L482.5,384.0 L483.5,384.3 L484.4,384.5 L485.3,384.8 L486.3,385.1 L487.2,385.3 L488.2,385.6 L489.1,385.8 L490.0,386.1 L491.0,386.3 L491.9,386.5 L492.9,386.8 L493.8,387.0 L494.7,387.2 L495.7,387.4 L496.6,387.6 L497.5,387.8 L498.5,388.0 L499.4,388.2 L500.4,388.4 L501.3,388.6 L502.2,388.8 L503.2,389.0 L504.1,389.2 L505.1,389.4 L506.0,389.5 L506.9,389.7 L507.9,389.9 L508.8,390.1 L509.8,390.2 L510.7,390.4 L511.6,390.6 L512.6,390.7 L513.5,390.9 L514.5,391.0 L515.4,391.2 L516.3,391.3 L517.3,391.5 L518.2,391.6 L519.2,391.7 L520.1,391.9 L521.0,392.0 L522.0,392.2 L522.9,392.3 L523.8,392.4 L524.8,392.6 L525.7,392.7 L526.7,392.8 L527.6,392.9 L528.5,393.1 L529.5,393.2 L530.4,393.3 L531.4,393.4 L532.3,393.5 L533.2,393.6 L534.2,393.7 L535.1,393.9 L536.1,394.0 L537.0,394.1 L537.9,394.2 L538.9,394.3 L539.8,394.4 L540.8,394.5 L541.7,394.6 L542.6,394.7 L543.6,394.8 L544.5,394.9 L545.5,395.0 L546.4,395.1 L547.3,395.2 L548.3,395.3 L549.2,395.3 L550.1,395.4 L551.1,395.5 L552.0,395.6 L553.0,395.7 L553.9,395.8 L554.8,395.9 L555.8,395.9 L556.7,396.0 L557.7,396.1 L558.6,396.2 L559.5,396.3 L560.5,396.3 L561.4,396.4 L562.4,396.5 L563.3,396.6 L564.2,396.7 L565.2,396.7 L566.1,396.8 L567.1,396.9 L568.0,396.9 L568.9,397.0 L569.9,397.1 L570.8,397.1 L571.8,397.2 L572.7,397.3 L573.6,397.4 L574.6,397.4 L575.5,397.5 L576.4,397.5 L577.4,397.6 L578.3,397.7 L579.3,397.7 L580.2,397.8 L581.1,397.9 L582.1,397.9 L583.0,398.0 L584.0,398.0 L584.9,398.1 L585.8,398.2 L586.8,398.2 L587.7,398.3 L588.7,398.3 L589.6,398.4 L590.5,398.4 L591.5,398.5 L592.4,398.5 L593.4,398.6 L594.3,398.6 L595.2,398.7 L596.2,398.8 L597.1,398.8 L598.1,398.9 L599.0,398.9 L599.9,399.0 L600.9,399.0 L601.8,399.1 L602.7,399.1 L603.7,399.2 L604.6,399.2 L605.6,399.2 L606.5,399.3 L607.4,399.3 L608.4,399.4 L609.3,399.4 L610.3,399.5 L611.2,399.5 L612.1,399.6 L613.1,399.6 L614.0,399.6 L615.0,399.7 L615.9,399.7 L616.8,399.8 L617.8,399.8 L618.7,399.9 L619.7,399.9 L620.6,399.9 L621.5,400.0 L622.5,400.0 L623.4,400.1 L624.4,400.1 L625.3,400.1 L626.2,400.2 L627.2,400.2 L628.1,400.3 L629.0,400.3 L630.0,400.3 L630.9,400.4 L631.9,400.4 L632.8,400.4 L633.7,400.5 L634.7,400.5 L635.6,400.5 L636.6,400.6 L637.5,400.6" fill="none" stroke="#FFFF00" stroke-width="1.3"/>
<path d="M432.1,370.9 L432.4,371.7 L432.8,372.5 L433.1,373.2 L433.4,373.9 L433.8,374.6 L434.1,375.2 L434.4,375.9 L434.8,376.5 L435.1,377.0 L435.4,377.6 L435.8,378.2 L436.1,378.7 L436.4,379.2 L436.8,379.7 L437.1,380.2 L437.4,380.6 L437.8,381.1 L438.1,381.5 L438.4,382.0 L438.8,382.4 L439.1,382.8 L439.4,383.2 L439.8,383.5 L440.1,383.9 L440.4,384.3 L440.8,384.6 L441.1,385.0 L441.4,385.3 L441.8,385.6 L442.1,385.9 L442.4,386.2 L442.8,386.5 L443.1,386.8 L443.4,387.1 L443.8,387.4 L444.1,387.7 L444.4,388.0 L444.7,388.2 L445.1,388.5 L445.4,388.7 L445.7,389.0 L446.1,389.2 L446.4,389.4 L446.7,389.7 L447.1,389.9 L447.4,390.1 L447.7,390.3 L448.1,390.5 L448.4,390.8 L448.7,391.0 L449.1,391.2 L449.4,391.4 L449.7,391.5 L450.1,391.7 L450.4,391.9 L450.7,392.1 L451.1,392.3 L451.4,392.5 L451.7,392.6 L452.1,392.8 L452.4,393.0 L452.7,393.1 L453.1,393.3 L453.4,393.4 L453.7,393.6 L454.1,393.7 L454.4,393.9 L454.7,394.0 L455.1,394.2 L455.4,394.3 L455.7,394.5 L456.1,394.6 L456.4,394.7 L456.7,394.9 L457.1,395.0 L457.4,395.1 L457.7,395.3 L458.1,395.4 L458.4,395.5 L458.7,395.6 L459.1,395.8 L459.4,395.9 L459.7,396.0 L460.1,396.1 L460.4,396.2 L460.7,396.3 L461.1,396.4 L461.4,396.5 L461.7,396.7 L462.1,396.8 L462.4,396.9 L462.7,397.0 L463.1,397.1 L463.4,397.2 L463.7,397.3 L464.1,397.4 L464.4,397.5 L464.7,397.5 L465.1,397.6 L465.4,397.7 L465.7,397.8 L466.1,397.9 L466.4,398.0 L466.7,398.1 L467.1,398.2 L467.4,398.3 L467.7,398.3 L468.1,398.4 L468.4,398.5 L468.7,398.6 L469.0,398.7 L469.4,398.8 L469.7,398.8 L470.0,398.9 L470.4,399.0 L470.7,399.1 L471.0,399.1 L471.4,399.2 L471.7,399.3 L472.0,399.4 L472.4,399.4 L472.7,399.5 L473.0,399.6 L473.4,399.6 L473.7,399.7 L474.0,399.8 L474.4,399.8 L474.7,399.9 L475.0,400.0 L475.4,400.0 L475.7,400.1 L476.0,400.2 L476.4,400.2 L476.7,400.3 L477.0,400.3 L477.4,400.4 L477.7,400.5 L478.0,400.5 L478.4,400.6 L478.7,400.6 L479.0,400.7 L479.4,400.8 L479.7,400.8 L480.0,400.9 L480.4,400.9 L480.7,401.0 L481.0,401.0 L481.4,401.1 L481.7,401.1 L482.0,401.2 L482.4,401.2 L482.7,401.3 L483.0,401.3 L483.4,401.4 L483.7,401.4 L484.0,401.5 L484.4,401.5 L484.7,401.6 L485.0,401.6 L485.4,401.7 L485.7,401.7 L486.0,401.8 L486.4,401.8 L486.7,401.9 L487.0,401.9 L487.4,402.0 L487.7,402.0 L488.0,402.1 L488.4,402.1 L488.7,402.1 L489.0,402.2 L489.4,402.2 L489.7,402.3 L490.0,402.3 L490.4,402.4 L490.7,402.4 L491.0,402.4 L491.4,402.5 L491.7,402.5 L492.0,402.6 L492.4,402.6 L492.7,402.6 L493.0,402.7 L493.3,402.7 L493.7,402.8 L494.0,402.8 L494.3,402.8 L494.7,402.9 L495.0,402.9 L495.3,402.9 L495.7,403.0 L496.0,403.0 L496.3,403.1 L496.7,403.1 L497.0,403.1 L497.3,403.2 L497.7,403.2 L498.0,403.2 L498.3,403.3 L498.7,403.3 L499.0,403.3 L499.3,403.4 L499.7,403.4 L500.0,403.4 L500.3,403.5 L500.7,403.5 L501.0,403.5 L501.3,403.6 L501.7,403.6 L502.0,403.6 L502.3,403.7 L502.7,403.7 L503.0,403.7 L503.3,403.8 L503.7,403.8 L504.0,403.8 L504.3,403.8 L504.7,403.9 L505.0,403.9" fill="none" stroke="#ED7D31" stroke-width="1.3"/>
<path d="M441.4,285.1 L442.5,287.1 L443.5,289.1 L444.6,291.0 L445.7,292.7 L446.8,294.4 L447.8,296.0 L448.9,297.5 L450.0,299.0 L451.1,300.4 L452.1,301.7 L453.2,303.0 L454.3,304.2 L455.4,305.4 L456.4,306.6 L457.5,307.7 L458.6,308.8 L459.7,309.8 L460.7,310.8 L461.8,311.8 L462.9,312.8 L464.0,313.7 L465.0,314.6 L466.1,315.5 L467.2,316.3 L468.3,317.1 L469.3,318.0 L470.4,318.7 L471.5,319.5 L472.6,320.3 L473.6,321.0 L474.7,321.7 L475.8,322.4 L476.9,323.1 L477.9,323.8 L479.0,324.4 L480.1,325.1 L481.2,325.7 L482.2,326.3 L483.3,326.9 L484.4,327.5 L485.5,328.1 L486.5,328.7 L487.6,329.3 L488.7,329.8 L489.8,330.3 L490.8,330.9 L491.9,331.4 L493.0,331.9 L494.1,332.4 L495.1,332.9 L496.2,333.4 L497.3,333.9 L498.4,334.4 L499.4,334.8 L500.5,335.3 L501.6,335.8 L502.7,336.2 L503.7,336.6 L504.8,337.1 L505.9,337.5 L507.0,337.9 L508.0,338.3 L509.1,338.8 L510.2,339.2 L511.3,339.6 L512.3,340.0 L513.4,340.3 L514.5,340.7 L515.6,341.1 L516.6,341.5 L517.7,341.8 L518.8,342.2 L519.9,342.6 L521.0,342.9 L522.0,343.3 L523.1,343.6 L524.2,344.0 L525.3,344.3 L526.3,344.7 L527.4,345.0 L528.5,345.3 L529.6,345.6 L530.6,346.0 L531.7,346.3 L532.8,346.6 L533.9,346.9 L534.9,347.2 L536.0,347.5 L537.1,347.8 L538.2,348.1 L539.2,348.4 L540.3,348.7 L541.4,349.0 L542.5,349.3 L543.5,349.6 L544.6,349.8 L545.7,350.1 L546.8,350.4 L547.8,350.7 L548.9,350.9 L550.0,351.2 L551.1,351.5 L552.1,351.7 L553.2,352.0 L554.3,352.3 L555.4,352.5 L556.4,352.8 L557.5,353.0 L558.6,353.3 L559.7,353.5 L560.7,353.8 L561.8,354.0 L562.9,354.3 L564.0,354.5 L565.0,354.7 L566.1,355.0 L567.2,355.2 L568.3,355.4 L569.3,355.7 L570.4,355.9 L571.5,356.1 L572.6,356.3 L573.6,356.6 L574.7,356.8 L575.8,357.0 L576.9,357.2 L577.9,357.4 L579.0,357.6 L580.1,357.9 L581.2,358.1 L582.2,358.3 L583.3,358.5 L584.4,358.7 L585.5,358.9 L586.5,359.1 L587.6,359.3 L588.7,359.5 L589.8,359.7 L590.8,359.9 L591.9,360.1 L593.0,360.3 L594.1,360.5 L595.1,360.7 L596.2,360.9 L597.3,361.1 L598.4,361.2 L599.5,361.4 L600.5,361.6 L601.6,361.8 L602.7,362.0 L603.8,362.2 L604.8,362.3 L605.9,362.5 L607.0,362.7 L608.1,362.9 L609.1,363.1 L610.2,363.2 L611.3,363.4 L612.4,363.6 L613.4,363.8 L614.5,363.9 L615.6,364.1 L616.7,364.3 L617.7,364.4 L618.8,364.6 L619.9,364.8 L621.0,364.9 L622.0,365.1 L623.1,365.3 L624.2,365.4 L625.3,365.6 L626.3,365.7 L627.4,365.9 L628.5,366.1 L629.6,366.2 L630.6,366.4 L631.7,366.5 L632.8,366.7 L633.9,366.8 L634.9,367.0 L636.0,367.1 L637.1,367.3 L638.2,367.4 L639.2,367.6 L640.3,367.7 L641.4,367.9 L642.5,368.0 L643.5,368.2 L644.6,368.3 L645.7,368.5 L646.8,368.6 L647.8,368.8 L648.9,368.9 L650.0,369.0 L651.1,369.2 L652.1,369.3 L653.2,369.5 L654.3,369.6 L655.4,369.7 L656.4,369.9 L657.5,370.0 L658.6,370.2 L659.7,370.3 L660.7,370.4 L661.8,370.6 L662.9,370.7 L664.0,370.8 L665.0,371.0 L666.1,371.1 L667.2,371.2 L668.3,371.3 L669.3,371.5 L670.4,371.6 L671.5,371.7 L672.6,371.9 L673.6,372.0 L674.7,372.1 L675.8,372.2" fill="none" stroke="#A5A5A5" stroke-width="1.3"/>
<path d="M448.8,283.7 L449.8,285.2 L450.9,286.6 L451.9,287.9 L452.9,289.3 L454.0,290.5 L455.0,291.8 L456.1,293.0 L457.1,294.2 L458.1,295.4 L459.2,296.5 L460.2,297.6 L461.2,298.7 L462.3,299.7 L463.3,300.7 L464.3,301.7 L465.4,302.7 L466.4,303.7 L467.5,304.6 L468.5,305.5 L469.5,306.4 L470.6,307.3 L471.6,308.1 L472.6,309.0 L473.7,309.8 L474.7,310.6 L475.7,311.4 L476.8,312.1 L477.8,312.9 L478.9,313.6 L479.9,314.4 L480.9,315.1 L482.0,315.8 L483.0,316.5 L484.0,317.2 L485.1,317.8 L486.1,318.5 L487.2,319.1 L488.2,319.8 L489.2,320.4 L490.3,321.0 L491.3,321.6 L492.3,322.2 L493.4,322.8 L494.4,323.4 L495.4,324.0 L496.5,324.5 L497.5,325.1 L498.6,325.6 L499.6,326.1 L500.6,326.7 L501.7,327.2 L502.7,327.7 L503.7,328.2 L504.8,328.7 L505.8,329.2 L506.8,329.7 L507.9,330.2 L508.9,330.6 L510.0,331.1 L511.0,331.5 L512.0,332.0 L513.1,332.4 L514.1,332.9 L515.1,333.3 L516.2,333.8 L517.2,334.2 L518.2,334.6 L519.3,335.0 L520.3,335.4 L521.4,335.8 L522.4,336.2 L523.4,336.6 L524.5,337.0 L525.5,337.4 L526.5,337.8 L527.6,338.2 L528.6,338.5 L529.6,338.9 L530.7,339.3 L531.7,339.6 L532.8,340.0 L533.8,340.3 L534.8,340.7 L535.9,341.0 L536.9,341.4 L537.9,341.7 L539.0,342.1 L540.0,342.4 L541.1,342.7 L542.1,343.0 L543.1,343.4 L544.2,343.7 L545.2,344.0 L546.2,344.3 L547.3,344.6 L548.3,344.9 L549.3,345.2 L550.4,345.5 L551.4,345.8 L552.5,346.1 L553.5,346.4 L554.5,346.7 L555.6,347.0 L556.6,347.3 L557.6,347.6 L558.7,347.8 L559.7,348.1 L560.7,348.4 L561.8,348.7 L562.8,348.9 L563.9,349.2 L564.9,349.5 L565.9,349.7 L567.0,350.0 L568.0,350.2 L569.0,350.5 L570.1,350.7 L571.1,351.0 L572.1,351.2 L573.2,351.5 L574.2,351.7 L575.3,352.0 L576.3,352.2 L577.3,352.5 L578.4,352.7 L579.4,352.9 L580.4,353.2 L581.5,353.4 L582.5,353.6 L583.5,353.9 L584.6,354.1 L585.6,354.3 L586.7,354.5 L587.7,354.7 L588.7,355.0 L589.8,355.2 L590.8,355.4 L591.8,355.6 L592.9,355.8 L593.9,356.0 L595.0,356.2 L596.0,356.5 L597.0,356.7 L598.1,356.9 L599.1,357.1 L600.1,357.3 L601.2,357.5 L602.2,357.7 L603.2,357.9 L604.3,358.1 L605.3,358.3 L606.4,358.5 L607.4,358.7 L608.4,358.8 L609.5,359.0 L610.5,359.2 L611.5,359.4 L612.6,359.6 L613.6,359.8 L614.6,360.0 L615.7,360.1 L616.7,360.3 L617.8,360.5 L618.8,360.7 L619.8,360.9 L620.9,361.0 L621.9,361.2 L622.9,361.4 L624.0,361.6 L625.0,361.7 L626.0,361.9 L627.1,362.1 L628.1,362.2 L629.2,362.4 L630.2,362.6 L631.2,362.7 L632.3,362.9 L633.3,363.1 L634.3,363.2 L635.4,363.4 L636.4,363.6 L637.4,363.7 L638.5,363.9 L639.5,364.0 L640.6,364.2 L641.6,364.3 L642.6,364.5 L643.7,364.7 L644.7,364.8 L645.7,365.0 L646.8,365.1 L647.8,365.3 L648.9,365.4 L649.9,365.6 L650.9,365.7 L652.0,365.9 L653.0,366.0 L654.0,366.2 L655.1,366.3 L656.1,366.4 L657.1,366.6 L658.2,366.7 L659.2,366.9 L660.3,367.0 L661.3,367.1 L662.3,367.3 L663.4,367.4 L664.4,367.6 L665.4,367.7 L666.5,367.8 L667.5,368.0 L668.5,368.1 L669.6,368.2 L670.6,368.4 L671.7,368.5 L672.7,368.6 L673.7,368.8 L674.8,368.9 L675.8,369.0" fill="none" stroke="#FFC000" stroke-width="1.3"/>
<path d="M430.6,345.7 L430.8,346.7 L431.1,347.7 L431.3,348.6 L431.5,349.5 L431.7,350.4 L432.0,351.2 L432.2,352.1 L432.4,352.9 L432.7,353.7 L432.9,354.5 L433.1,355.3 L433.3,356.0 L433.6,356.8 L433.8,357.5 L434.0,358.2 L434.2,358.9 L434.5,359.6 L434.7,360.2 L434.9,360.9 L435.2,361.5 L435.4,362.1 L435.6,362.8 L435.8,363.4 L436.1,363.9 L436.3,364.5 L436.5,365.1 L436.8,365.7 L437.0,366.2 L437.2,366.7 L437.4,367.3 L437.7,367.8 L437.9,368.3 L438.1,368.8 L438.3,369.3 L438.6,369.8 L438.8,370.2 L439.0,370.7 L439.3,371.2 L439.5,371.6 L439.7,372.1 L439.9,372.5 L440.2,372.9 L440.4,373.3 L440.6,373.8 L440.9,374.2 L441.1,374.6 L441.3,375.0 L441.5,375.4 L441.8,375.7 L442.0,376.1 L442.2,376.5 L442.4,376.9 L442.7,377.2 L442.9,377.6 L443.1,377.9 L443.4,378.3 L443.6,378.6 L443.8,378.9 L444.0,379.3 L444.3,379.6 L444.5,379.9 L444.7,380.2 L445.0,380.5 L445.2,380.8 L445.4,381.1 L445.6,381.4 L445.9,381.7 L446.1,382.0 L446.3,382.3 L446.5,382.6 L446.8,382.9 L447.0,383.1 L447.2,383.4 L447.5,383.7 L447.7,384.0 L447.9,384.2 L448.1,384.5 L448.4,384.7 L448.6,385.0 L448.8,385.2 L449.1,385.5 L449.3,385.7 L449.5,385.9 L449.7,386.2 L450.0,386.4 L450.2,386.6 L450.4,386.9 L450.7,387.1 L450.9,387.3 L451.1,387.5 L451.3,387.7 L451.6,388.0 L451.8,388.2 L452.0,388.4 L452.2,388.6 L452.5,388.8 L452.7,389.0 L452.9,389.2 L453.2,389.4 L453.4,389.6 L453.6,389.8 L453.8,390.0 L454.1,390.2 L454.3,390.3 L454.5,390.5 L454.8,390.7 L455.0,390.9 L455.2,391.1 L455.4,391.2 L455.7,391.4 L455.9,391.6 L456.1,391.8 L456.3,391.9 L456.6,392.1 L456.8,392.3 L457.0,392.4 L457.3,392.6 L457.5,392.7 L457.7,392.9 L457.9,393.1 L458.2,393.2 L458.4,393.4 L458.6,393.5 L458.9,393.7 L459.1,393.8 L459.3,394.0 L459.5,394.1 L459.8,394.3 L460.0,394.4 L460.2,394.5 L460.4,394.7 L460.7,394.8 L460.9,395.0 L461.1,395.1 L461.4,395.2 L461.6,395.4 L461.8,395.5 L462.0,395.6 L462.3,395.8 L462.5,395.9 L462.7,396.0 L463.0,396.1 L463.2,396.3 L463.4,396.4 L463.6,396.5 L463.9,396.6 L464.1,396.8 L464.3,396.9 L464.6,397.0 L464.8,397.1 L465.0,397.2 L465.2,397.4 L465.5,397.5 L465.7,397.6 L465.9,397.7 L466.1,397.8 L466.4,397.9 L466.6,398.0 L466.8,398.1 L467.1,398.2 L467.3,398.3 L467.5,398.5 L467.7,398.6 L468.0,398.7 L468.2,398.8 L468.4,398.9 L468.7,399.0 L468.9,399.1 L469.1,399.2 L469.3,399.3 L469.6,399.4 L469.8,399.5 L470.0,399.6 L470.2,399.7 L470.5,399.8 L470.7,399.9 L470.9,399.9 L471.2,400.0 L471.4,400.1 L471.6,400.2 L471.8,400.3 L472.1,400.4 L472.3,400.5 L472.5,400.6 L472.8,400.7 L473.0,400.8 L473.2,400.8 L473.4,400.9 L473.7,401.0 L473.9,401.1 L474.1,401.2 L474.3,401.3 L474.6,401.3 L474.8,401.4 L475.0,401.5 L475.3,401.6 L475.5,401.7 L475.7,401.8 L475.9,401.8 L476.2,401.9 L476.4,402.0 L476.6,402.1 L476.9,402.1 L477.1,402.2 L477.3,402.3 L477.5,402.4 L477.8,402.4 L478.0,402.5 L478.2,402.6 L478.4,402.7 L478.7,402.7 L478.9,402.8 L479.1,402.9 L479.4,403.0 L479.6,403.0 L479.8,403.1 L480.0,403.2 L480.3,403.2 L480.5,403.3" fill="none" stroke="#1467B8" stroke-width="1.3"/>
</svg></body></html>
